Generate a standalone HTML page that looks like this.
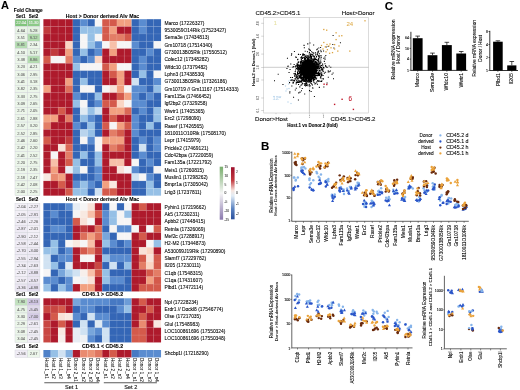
<!DOCTYPE html>
<html><head><meta charset="utf-8"><style>
html,body{margin:0;padding:0;background:#fff;}
svg{display:block;will-change:transform;}
text{font-family:"Liberation Sans", sans-serif;}
</style></head><body>
<svg width="520" height="390" viewBox="0 0 520 390">
<defs>
<linearGradient id="gp" x1="0" y1="0" x2="0" y2="1"><stop offset="0" stop-color="#78ad6c"/><stop offset="0.5" stop-color="#f6f6f6"/><stop offset="1" stop-color="#8a78ad"/></linearGradient>
<linearGradient id="rb" x1="0" y1="0" x2="0" y2="1"><stop offset="0" stop-color="#9e0f2c"/><stop offset="0.25" stop-color="#c23a40"/><stop offset="0.45" stop-color="#f6e6e0"/><stop offset="0.55" stop-color="#e3edf6"/><stop offset="0.8" stop-color="#5a82c0"/><stop offset="1" stop-color="#2a4f9c"/></linearGradient>
</defs>
<rect width="520" height="390" fill="#fff"/>
<text x="0.90" y="9.20" font-size="11" text-anchor="start" fill="#000" font-weight="bold" stroke="#000" stroke-width="0.08">A</text>
<text x="28.20" y="12.10" font-size="4.75" text-anchor="middle" fill="#000" font-weight="bold" stroke="#000" stroke-width="0.08">Fold Change</text>
<rect x="43.40" y="19.20" width="7.40" height="7.40" fill="#ae1a2c"/>
<rect x="50.75" y="19.20" width="7.40" height="7.40" fill="#ae1a2c"/>
<rect x="58.10" y="19.20" width="7.40" height="7.40" fill="#ae1a2c"/>
<rect x="65.45" y="19.20" width="7.40" height="7.40" fill="#ae1a2c"/>
<rect x="72.80" y="19.20" width="7.40" height="7.40" fill="#3466b6"/>
<rect x="80.15" y="19.20" width="7.40" height="7.40" fill="#5a8cd0"/>
<rect x="87.50" y="19.20" width="7.40" height="7.40" fill="#3466b6"/>
<rect x="94.85" y="19.20" width="7.40" height="7.40" fill="#f6f5f5"/>
<rect x="102.20" y="19.20" width="7.40" height="7.40" fill="#d45a4b"/>
<rect x="109.55" y="19.20" width="7.40" height="7.40" fill="#d45a4b"/>
<rect x="116.90" y="19.20" width="7.40" height="7.40" fill="#f2a080"/>
<rect x="124.25" y="19.20" width="7.40" height="7.40" fill="#f2a080"/>
<rect x="131.60" y="19.20" width="7.40" height="7.40" fill="#3466b6"/>
<rect x="138.95" y="19.20" width="7.40" height="7.40" fill="#5a8cd0"/>
<rect x="146.30" y="19.20" width="7.40" height="7.40" fill="#3466b6"/>
<rect x="153.65" y="19.20" width="7.40" height="7.40" fill="#3466b6"/>
<rect x="43.40" y="26.55" width="7.40" height="7.40" fill="#c13a3c"/>
<rect x="50.75" y="26.55" width="7.40" height="7.40" fill="#ae1a2c"/>
<rect x="58.10" y="26.55" width="7.40" height="7.40" fill="#ae1a2c"/>
<rect x="65.45" y="26.55" width="7.40" height="7.40" fill="#ae1a2c"/>
<rect x="72.80" y="26.55" width="7.40" height="7.40" fill="#3466b6"/>
<rect x="80.15" y="26.55" width="7.40" height="7.40" fill="#96c0e6"/>
<rect x="87.50" y="26.55" width="7.40" height="7.40" fill="#96c0e6"/>
<rect x="94.85" y="26.55" width="7.40" height="7.40" fill="#96c0e6"/>
<rect x="102.20" y="26.55" width="7.40" height="7.40" fill="#d45a4b"/>
<rect x="109.55" y="26.55" width="7.40" height="7.40" fill="#f2a080"/>
<rect x="116.90" y="26.55" width="7.40" height="7.40" fill="#ae1a2c"/>
<rect x="124.25" y="26.55" width="7.40" height="7.40" fill="#ae1a2c"/>
<rect x="131.60" y="26.55" width="7.40" height="7.40" fill="#3466b6"/>
<rect x="138.95" y="26.55" width="7.40" height="7.40" fill="#5a8cd0"/>
<rect x="146.30" y="26.55" width="7.40" height="7.40" fill="#3466b6"/>
<rect x="153.65" y="26.55" width="7.40" height="7.40" fill="#3466b6"/>
<rect x="43.40" y="33.90" width="7.40" height="7.40" fill="#ae1a2c"/>
<rect x="50.75" y="33.90" width="7.40" height="7.40" fill="#ae1a2c"/>
<rect x="58.10" y="33.90" width="7.40" height="7.40" fill="#ae1a2c"/>
<rect x="65.45" y="33.90" width="7.40" height="7.40" fill="#ae1a2c"/>
<rect x="72.80" y="33.90" width="7.40" height="7.40" fill="#3466b6"/>
<rect x="80.15" y="33.90" width="7.40" height="7.40" fill="#f6f5f5"/>
<rect x="87.50" y="33.90" width="7.40" height="7.40" fill="#96c0e6"/>
<rect x="94.85" y="33.90" width="7.40" height="7.40" fill="#f6f5f5"/>
<rect x="102.20" y="33.90" width="7.40" height="7.40" fill="#d45a4b"/>
<rect x="109.55" y="33.90" width="7.40" height="7.40" fill="#e37d66"/>
<rect x="116.90" y="33.90" width="7.40" height="7.40" fill="#e37d66"/>
<rect x="124.25" y="33.90" width="7.40" height="7.40" fill="#d45a4b"/>
<rect x="131.60" y="33.90" width="7.40" height="7.40" fill="#3466b6"/>
<rect x="138.95" y="33.90" width="7.40" height="7.40" fill="#3466b6"/>
<rect x="146.30" y="33.90" width="7.40" height="7.40" fill="#3466b6"/>
<rect x="153.65" y="33.90" width="7.40" height="7.40" fill="#3466b6"/>
<rect x="43.40" y="41.25" width="7.40" height="7.40" fill="#ae1a2c"/>
<rect x="50.75" y="41.25" width="7.40" height="7.40" fill="#ae1a2c"/>
<rect x="58.10" y="41.25" width="7.40" height="7.40" fill="#ae1a2c"/>
<rect x="65.45" y="41.25" width="7.40" height="7.40" fill="#fad6c4"/>
<rect x="72.80" y="41.25" width="7.40" height="7.40" fill="#3466b6"/>
<rect x="80.15" y="41.25" width="7.40" height="7.40" fill="#f6f5f5"/>
<rect x="87.50" y="41.25" width="7.40" height="7.40" fill="#96c0e6"/>
<rect x="94.85" y="41.25" width="7.40" height="7.40" fill="#5a8cd0"/>
<rect x="102.20" y="41.25" width="7.40" height="7.40" fill="#f6f5f5"/>
<rect x="109.55" y="41.25" width="7.40" height="7.40" fill="#f7c0a9"/>
<rect x="116.90" y="41.25" width="7.40" height="7.40" fill="#f6f5f5"/>
<rect x="124.25" y="41.25" width="7.40" height="7.40" fill="#f6f5f5"/>
<rect x="131.60" y="41.25" width="7.40" height="7.40" fill="#5a8cd0"/>
<rect x="138.95" y="41.25" width="7.40" height="7.40" fill="#3466b6"/>
<rect x="146.30" y="41.25" width="7.40" height="7.40" fill="#3466b6"/>
<rect x="153.65" y="41.25" width="7.40" height="7.40" fill="#f6f5f5"/>
<rect x="43.40" y="48.60" width="7.40" height="7.40" fill="#ae1a2c"/>
<rect x="50.75" y="48.60" width="7.40" height="7.40" fill="#c13a3c"/>
<rect x="58.10" y="48.60" width="7.40" height="7.40" fill="#ae1a2c"/>
<rect x="65.45" y="48.60" width="7.40" height="7.40" fill="#f2a080"/>
<rect x="72.80" y="48.60" width="7.40" height="7.40" fill="#3466b6"/>
<rect x="80.15" y="48.60" width="7.40" height="7.40" fill="#96c0e6"/>
<rect x="87.50" y="48.60" width="7.40" height="7.40" fill="#3466b6"/>
<rect x="94.85" y="48.60" width="7.40" height="7.40" fill="#5a8cd0"/>
<rect x="102.20" y="48.60" width="7.40" height="7.40" fill="#ae1a2c"/>
<rect x="109.55" y="48.60" width="7.40" height="7.40" fill="#f2a080"/>
<rect x="116.90" y="48.60" width="7.40" height="7.40" fill="#ae1a2c"/>
<rect x="124.25" y="48.60" width="7.40" height="7.40" fill="#ae1a2c"/>
<rect x="131.60" y="48.60" width="7.40" height="7.40" fill="#3466b6"/>
<rect x="138.95" y="48.60" width="7.40" height="7.40" fill="#3466b6"/>
<rect x="146.30" y="48.60" width="7.40" height="7.40" fill="#5a8cd0"/>
<rect x="153.65" y="48.60" width="7.40" height="7.40" fill="#3466b6"/>
<rect x="43.40" y="55.95" width="7.40" height="7.40" fill="#d45a4b"/>
<rect x="50.75" y="55.95" width="7.40" height="7.40" fill="#f6f5f5"/>
<rect x="58.10" y="55.95" width="7.40" height="7.40" fill="#f6f5f5"/>
<rect x="65.45" y="55.95" width="7.40" height="7.40" fill="#e37d66"/>
<rect x="72.80" y="55.95" width="7.40" height="7.40" fill="#5a8cd0"/>
<rect x="80.15" y="55.95" width="7.40" height="7.40" fill="#3466b6"/>
<rect x="87.50" y="55.95" width="7.40" height="7.40" fill="#5a8cd0"/>
<rect x="94.85" y="55.95" width="7.40" height="7.40" fill="#fad6c4"/>
<rect x="102.20" y="55.95" width="7.40" height="7.40" fill="#ae1a2c"/>
<rect x="109.55" y="55.95" width="7.40" height="7.40" fill="#ae1a2c"/>
<rect x="116.90" y="55.95" width="7.40" height="7.40" fill="#ae1a2c"/>
<rect x="124.25" y="55.95" width="7.40" height="7.40" fill="#ae1a2c"/>
<rect x="131.60" y="55.95" width="7.40" height="7.40" fill="#3466b6"/>
<rect x="138.95" y="55.95" width="7.40" height="7.40" fill="#5a8cd0"/>
<rect x="146.30" y="55.95" width="7.40" height="7.40" fill="#3466b6"/>
<rect x="153.65" y="55.95" width="7.40" height="7.40" fill="#3466b6"/>
<rect x="43.40" y="63.30" width="7.40" height="7.40" fill="#ae1a2c"/>
<rect x="50.75" y="63.30" width="7.40" height="7.40" fill="#ae1a2c"/>
<rect x="58.10" y="63.30" width="7.40" height="7.40" fill="#ae1a2c"/>
<rect x="65.45" y="63.30" width="7.40" height="7.40" fill="#ae1a2c"/>
<rect x="72.80" y="63.30" width="7.40" height="7.40" fill="#96c0e6"/>
<rect x="80.15" y="63.30" width="7.40" height="7.40" fill="#f6f5f5"/>
<rect x="87.50" y="63.30" width="7.40" height="7.40" fill="#f6f5f5"/>
<rect x="94.85" y="63.30" width="7.40" height="7.40" fill="#f6f5f5"/>
<rect x="102.20" y="63.30" width="7.40" height="7.40" fill="#d45a4b"/>
<rect x="109.55" y="63.30" width="7.40" height="7.40" fill="#f2a080"/>
<rect x="116.90" y="63.30" width="7.40" height="7.40" fill="#f6f5f5"/>
<rect x="124.25" y="63.30" width="7.40" height="7.40" fill="#f6f5f5"/>
<rect x="131.60" y="63.30" width="7.40" height="7.40" fill="#3466b6"/>
<rect x="138.95" y="63.30" width="7.40" height="7.40" fill="#5a8cd0"/>
<rect x="146.30" y="63.30" width="7.40" height="7.40" fill="#3466b6"/>
<rect x="153.65" y="63.30" width="7.40" height="7.40" fill="#3466b6"/>
<rect x="43.40" y="70.65" width="7.40" height="7.40" fill="#ae1a2c"/>
<rect x="50.75" y="70.65" width="7.40" height="7.40" fill="#ae1a2c"/>
<rect x="58.10" y="70.65" width="7.40" height="7.40" fill="#ae1a2c"/>
<rect x="65.45" y="70.65" width="7.40" height="7.40" fill="#ae1a2c"/>
<rect x="72.80" y="70.65" width="7.40" height="7.40" fill="#3466b6"/>
<rect x="80.15" y="70.65" width="7.40" height="7.40" fill="#3466b6"/>
<rect x="87.50" y="70.65" width="7.40" height="7.40" fill="#3466b6"/>
<rect x="94.85" y="70.65" width="7.40" height="7.40" fill="#3466b6"/>
<rect x="102.20" y="70.65" width="7.40" height="7.40" fill="#ae1a2c"/>
<rect x="109.55" y="70.65" width="7.40" height="7.40" fill="#d45a4b"/>
<rect x="116.90" y="70.65" width="7.40" height="7.40" fill="#f2a080"/>
<rect x="124.25" y="70.65" width="7.40" height="7.40" fill="#ae1a2c"/>
<rect x="131.60" y="70.65" width="7.40" height="7.40" fill="#3466b6"/>
<rect x="138.95" y="70.65" width="7.40" height="7.40" fill="#96c0e6"/>
<rect x="146.30" y="70.65" width="7.40" height="7.40" fill="#3466b6"/>
<rect x="153.65" y="70.65" width="7.40" height="7.40" fill="#f6f5f5"/>
<rect x="43.40" y="78.00" width="7.40" height="7.40" fill="#ae1a2c"/>
<rect x="50.75" y="78.00" width="7.40" height="7.40" fill="#ae1a2c"/>
<rect x="58.10" y="78.00" width="7.40" height="7.40" fill="#ae1a2c"/>
<rect x="65.45" y="78.00" width="7.40" height="7.40" fill="#f2a080"/>
<rect x="72.80" y="78.00" width="7.40" height="7.40" fill="#3466b6"/>
<rect x="80.15" y="78.00" width="7.40" height="7.40" fill="#96c0e6"/>
<rect x="87.50" y="78.00" width="7.40" height="7.40" fill="#3466b6"/>
<rect x="94.85" y="78.00" width="7.40" height="7.40" fill="#3466b6"/>
<rect x="102.20" y="78.00" width="7.40" height="7.40" fill="#ae1a2c"/>
<rect x="109.55" y="78.00" width="7.40" height="7.40" fill="#ae1a2c"/>
<rect x="116.90" y="78.00" width="7.40" height="7.40" fill="#f2a080"/>
<rect x="124.25" y="78.00" width="7.40" height="7.40" fill="#ae1a2c"/>
<rect x="131.60" y="78.00" width="7.40" height="7.40" fill="#d0e2f2"/>
<rect x="138.95" y="78.00" width="7.40" height="7.40" fill="#3466b6"/>
<rect x="146.30" y="78.00" width="7.40" height="7.40" fill="#3466b6"/>
<rect x="153.65" y="78.00" width="7.40" height="7.40" fill="#5a8cd0"/>
<rect x="43.40" y="85.35" width="7.40" height="7.40" fill="#f2a080"/>
<rect x="50.75" y="85.35" width="7.40" height="7.40" fill="#ae1a2c"/>
<rect x="58.10" y="85.35" width="7.40" height="7.40" fill="#ae1a2c"/>
<rect x="65.45" y="85.35" width="7.40" height="7.40" fill="#dd6f5b"/>
<rect x="72.80" y="85.35" width="7.40" height="7.40" fill="#3466b6"/>
<rect x="80.15" y="85.35" width="7.40" height="7.40" fill="#f6f5f5"/>
<rect x="87.50" y="85.35" width="7.40" height="7.40" fill="#f6f5f5"/>
<rect x="94.85" y="85.35" width="7.40" height="7.40" fill="#3466b6"/>
<rect x="102.20" y="85.35" width="7.40" height="7.40" fill="#f6f5f5"/>
<rect x="109.55" y="85.35" width="7.40" height="7.40" fill="#f8e2d8"/>
<rect x="116.90" y="85.35" width="7.40" height="7.40" fill="#f2a080"/>
<rect x="124.25" y="85.35" width="7.40" height="7.40" fill="#f6f5f5"/>
<rect x="131.60" y="85.35" width="7.40" height="7.40" fill="#5a8cd0"/>
<rect x="138.95" y="85.35" width="7.40" height="7.40" fill="#5a8cd0"/>
<rect x="146.30" y="85.35" width="7.40" height="7.40" fill="#3466b6"/>
<rect x="153.65" y="85.35" width="7.40" height="7.40" fill="#96c0e6"/>
<rect x="43.40" y="92.70" width="7.40" height="7.40" fill="#ae1a2c"/>
<rect x="50.75" y="92.70" width="7.40" height="7.40" fill="#ae1a2c"/>
<rect x="58.10" y="92.70" width="7.40" height="7.40" fill="#ae1a2c"/>
<rect x="65.45" y="92.70" width="7.40" height="7.40" fill="#ae1a2c"/>
<rect x="72.80" y="92.70" width="7.40" height="7.40" fill="#5a8cd0"/>
<rect x="80.15" y="92.70" width="7.40" height="7.40" fill="#3466b6"/>
<rect x="87.50" y="92.70" width="7.40" height="7.40" fill="#3466b6"/>
<rect x="94.85" y="92.70" width="7.40" height="7.40" fill="#96c0e6"/>
<rect x="102.20" y="92.70" width="7.40" height="7.40" fill="#ae1a2c"/>
<rect x="109.55" y="92.70" width="7.40" height="7.40" fill="#ae1a2c"/>
<rect x="116.90" y="92.70" width="7.40" height="7.40" fill="#d45a4b"/>
<rect x="124.25" y="92.70" width="7.40" height="7.40" fill="#f2a080"/>
<rect x="131.60" y="92.70" width="7.40" height="7.40" fill="#5a8cd0"/>
<rect x="138.95" y="92.70" width="7.40" height="7.40" fill="#3466b6"/>
<rect x="146.30" y="92.70" width="7.40" height="7.40" fill="#5a8cd0"/>
<rect x="153.65" y="92.70" width="7.40" height="7.40" fill="#3466b6"/>
<rect x="43.40" y="100.05" width="7.40" height="7.40" fill="#ae1a2c"/>
<rect x="50.75" y="100.05" width="7.40" height="7.40" fill="#ae1a2c"/>
<rect x="58.10" y="100.05" width="7.40" height="7.40" fill="#ae1a2c"/>
<rect x="65.45" y="100.05" width="7.40" height="7.40" fill="#ae1a2c"/>
<rect x="72.80" y="100.05" width="7.40" height="7.40" fill="#96c0e6"/>
<rect x="80.15" y="100.05" width="7.40" height="7.40" fill="#f6f5f5"/>
<rect x="87.50" y="100.05" width="7.40" height="7.40" fill="#3466b6"/>
<rect x="94.85" y="100.05" width="7.40" height="7.40" fill="#5a8cd0"/>
<rect x="102.20" y="100.05" width="7.40" height="7.40" fill="#d45a4b"/>
<rect x="109.55" y="100.05" width="7.40" height="7.40" fill="#d45a4b"/>
<rect x="116.90" y="100.05" width="7.40" height="7.40" fill="#fad6c4"/>
<rect x="124.25" y="100.05" width="7.40" height="7.40" fill="#f6f5f5"/>
<rect x="131.60" y="100.05" width="7.40" height="7.40" fill="#5a8cd0"/>
<rect x="138.95" y="100.05" width="7.40" height="7.40" fill="#5a8cd0"/>
<rect x="146.30" y="100.05" width="7.40" height="7.40" fill="#3466b6"/>
<rect x="153.65" y="100.05" width="7.40" height="7.40" fill="#3466b6"/>
<rect x="43.40" y="107.40" width="7.40" height="7.40" fill="#ae1a2c"/>
<rect x="50.75" y="107.40" width="7.40" height="7.40" fill="#ae1a2c"/>
<rect x="58.10" y="107.40" width="7.40" height="7.40" fill="#d45a4b"/>
<rect x="65.45" y="107.40" width="7.40" height="7.40" fill="#ae1a2c"/>
<rect x="72.80" y="107.40" width="7.40" height="7.40" fill="#3466b6"/>
<rect x="80.15" y="107.40" width="7.40" height="7.40" fill="#dfeaf3"/>
<rect x="87.50" y="107.40" width="7.40" height="7.40" fill="#96c0e6"/>
<rect x="94.85" y="107.40" width="7.40" height="7.40" fill="#d0e2f2"/>
<rect x="102.20" y="107.40" width="7.40" height="7.40" fill="#ae1a2c"/>
<rect x="109.55" y="107.40" width="7.40" height="7.40" fill="#f2a080"/>
<rect x="116.90" y="107.40" width="7.40" height="7.40" fill="#f2a080"/>
<rect x="124.25" y="107.40" width="7.40" height="7.40" fill="#da6856"/>
<rect x="131.60" y="107.40" width="7.40" height="7.40" fill="#3466b6"/>
<rect x="138.95" y="107.40" width="7.40" height="7.40" fill="#5a8cd0"/>
<rect x="146.30" y="107.40" width="7.40" height="7.40" fill="#3466b6"/>
<rect x="153.65" y="107.40" width="7.40" height="7.40" fill="#96c0e6"/>
<rect x="43.40" y="114.75" width="7.40" height="7.40" fill="#f2a080"/>
<rect x="50.75" y="114.75" width="7.40" height="7.40" fill="#f2a080"/>
<rect x="58.10" y="114.75" width="7.40" height="7.40" fill="#ae1a2c"/>
<rect x="65.45" y="114.75" width="7.40" height="7.40" fill="#e37d66"/>
<rect x="72.80" y="114.75" width="7.40" height="7.40" fill="#3466b6"/>
<rect x="80.15" y="114.75" width="7.40" height="7.40" fill="#96c0e6"/>
<rect x="87.50" y="114.75" width="7.40" height="7.40" fill="#5a8cd0"/>
<rect x="94.85" y="114.75" width="7.40" height="7.40" fill="#3466b6"/>
<rect x="102.20" y="114.75" width="7.40" height="7.40" fill="#ae1a2c"/>
<rect x="109.55" y="114.75" width="7.40" height="7.40" fill="#d45a4b"/>
<rect x="116.90" y="114.75" width="7.40" height="7.40" fill="#ae1a2c"/>
<rect x="124.25" y="114.75" width="7.40" height="7.40" fill="#ae1a2c"/>
<rect x="131.60" y="114.75" width="7.40" height="7.40" fill="#5a8cd0"/>
<rect x="138.95" y="114.75" width="7.40" height="7.40" fill="#3466b6"/>
<rect x="146.30" y="114.75" width="7.40" height="7.40" fill="#3466b6"/>
<rect x="153.65" y="114.75" width="7.40" height="7.40" fill="#96c0e6"/>
<rect x="43.40" y="122.10" width="7.40" height="7.40" fill="#e37d66"/>
<rect x="50.75" y="122.10" width="7.40" height="7.40" fill="#ae1a2c"/>
<rect x="58.10" y="122.10" width="7.40" height="7.40" fill="#ae1a2c"/>
<rect x="65.45" y="122.10" width="7.40" height="7.40" fill="#ae1a2c"/>
<rect x="72.80" y="122.10" width="7.40" height="7.40" fill="#5a8cd0"/>
<rect x="80.15" y="122.10" width="7.40" height="7.40" fill="#3466b6"/>
<rect x="87.50" y="122.10" width="7.40" height="7.40" fill="#96c0e6"/>
<rect x="94.85" y="122.10" width="7.40" height="7.40" fill="#3466b6"/>
<rect x="102.20" y="122.10" width="7.40" height="7.40" fill="#d45a4b"/>
<rect x="109.55" y="122.10" width="7.40" height="7.40" fill="#f6f5f5"/>
<rect x="116.90" y="122.10" width="7.40" height="7.40" fill="#f2a080"/>
<rect x="124.25" y="122.10" width="7.40" height="7.40" fill="#d45a4b"/>
<rect x="131.60" y="122.10" width="7.40" height="7.40" fill="#5a8cd0"/>
<rect x="138.95" y="122.10" width="7.40" height="7.40" fill="#3466b6"/>
<rect x="146.30" y="122.10" width="7.40" height="7.40" fill="#96c0e6"/>
<rect x="153.65" y="122.10" width="7.40" height="7.40" fill="#3466b6"/>
<rect x="43.40" y="129.45" width="7.40" height="7.40" fill="#ae1a2c"/>
<rect x="50.75" y="129.45" width="7.40" height="7.40" fill="#ae1a2c"/>
<rect x="58.10" y="129.45" width="7.40" height="7.40" fill="#ae1a2c"/>
<rect x="65.45" y="129.45" width="7.40" height="7.40" fill="#ae1a2c"/>
<rect x="72.80" y="129.45" width="7.40" height="7.40" fill="#3466b6"/>
<rect x="80.15" y="129.45" width="7.40" height="7.40" fill="#b9d4ed"/>
<rect x="87.50" y="129.45" width="7.40" height="7.40" fill="#96c0e6"/>
<rect x="94.85" y="129.45" width="7.40" height="7.40" fill="#3466b6"/>
<rect x="102.20" y="129.45" width="7.40" height="7.40" fill="#ae1a2c"/>
<rect x="109.55" y="129.45" width="7.40" height="7.40" fill="#e37d66"/>
<rect x="116.90" y="129.45" width="7.40" height="7.40" fill="#d45a4b"/>
<rect x="124.25" y="129.45" width="7.40" height="7.40" fill="#ae1a2c"/>
<rect x="131.60" y="129.45" width="7.40" height="7.40" fill="#5a8cd0"/>
<rect x="138.95" y="129.45" width="7.40" height="7.40" fill="#3466b6"/>
<rect x="146.30" y="129.45" width="7.40" height="7.40" fill="#3466b6"/>
<rect x="153.65" y="129.45" width="7.40" height="7.40" fill="#3466b6"/>
<rect x="43.40" y="136.80" width="7.40" height="7.40" fill="#d45a4b"/>
<rect x="50.75" y="136.80" width="7.40" height="7.40" fill="#ae1a2c"/>
<rect x="58.10" y="136.80" width="7.40" height="7.40" fill="#ae1a2c"/>
<rect x="65.45" y="136.80" width="7.40" height="7.40" fill="#c13a3c"/>
<rect x="72.80" y="136.80" width="7.40" height="7.40" fill="#3466b6"/>
<rect x="80.15" y="136.80" width="7.40" height="7.40" fill="#f6f5f5"/>
<rect x="87.50" y="136.80" width="7.40" height="7.40" fill="#5a8cd0"/>
<rect x="94.85" y="136.80" width="7.40" height="7.40" fill="#f6f5f5"/>
<rect x="102.20" y="136.80" width="7.40" height="7.40" fill="#f2a080"/>
<rect x="109.55" y="136.80" width="7.40" height="7.40" fill="#f2a080"/>
<rect x="116.90" y="136.80" width="7.40" height="7.40" fill="#f2a080"/>
<rect x="124.25" y="136.80" width="7.40" height="7.40" fill="#ae1a2c"/>
<rect x="131.60" y="136.80" width="7.40" height="7.40" fill="#3466b6"/>
<rect x="138.95" y="136.80" width="7.40" height="7.40" fill="#5a8cd0"/>
<rect x="146.30" y="136.80" width="7.40" height="7.40" fill="#3466b6"/>
<rect x="153.65" y="136.80" width="7.40" height="7.40" fill="#5a8cd0"/>
<rect x="43.40" y="144.15" width="7.40" height="7.40" fill="#ae1a2c"/>
<rect x="50.75" y="144.15" width="7.40" height="7.40" fill="#ae1a2c"/>
<rect x="58.10" y="144.15" width="7.40" height="7.40" fill="#f8e2d8"/>
<rect x="65.45" y="144.15" width="7.40" height="7.40" fill="#da6856"/>
<rect x="72.80" y="144.15" width="7.40" height="7.40" fill="#3466b6"/>
<rect x="80.15" y="144.15" width="7.40" height="7.40" fill="#3466b6"/>
<rect x="87.50" y="144.15" width="7.40" height="7.40" fill="#3466b6"/>
<rect x="94.85" y="144.15" width="7.40" height="7.40" fill="#f6f5f5"/>
<rect x="102.20" y="144.15" width="7.40" height="7.40" fill="#ae1a2c"/>
<rect x="109.55" y="144.15" width="7.40" height="7.40" fill="#e37d66"/>
<rect x="116.90" y="144.15" width="7.40" height="7.40" fill="#d45a4b"/>
<rect x="124.25" y="144.15" width="7.40" height="7.40" fill="#ae1a2c"/>
<rect x="131.60" y="144.15" width="7.40" height="7.40" fill="#3466b6"/>
<rect x="138.95" y="144.15" width="7.40" height="7.40" fill="#d0e2f2"/>
<rect x="146.30" y="144.15" width="7.40" height="7.40" fill="#3466b6"/>
<rect x="153.65" y="144.15" width="7.40" height="7.40" fill="#5a8cd0"/>
<rect x="43.40" y="151.50" width="7.40" height="7.40" fill="#ae1a2c"/>
<rect x="50.75" y="151.50" width="7.40" height="7.40" fill="#f6f5f5"/>
<rect x="58.10" y="151.50" width="7.40" height="7.40" fill="#ae1a2c"/>
<rect x="65.45" y="151.50" width="7.40" height="7.40" fill="#e37d66"/>
<rect x="72.80" y="151.50" width="7.40" height="7.40" fill="#3466b6"/>
<rect x="80.15" y="151.50" width="7.40" height="7.40" fill="#96c0e6"/>
<rect x="87.50" y="151.50" width="7.40" height="7.40" fill="#3466b6"/>
<rect x="94.85" y="151.50" width="7.40" height="7.40" fill="#96c0e6"/>
<rect x="102.20" y="151.50" width="7.40" height="7.40" fill="#ae1a2c"/>
<rect x="109.55" y="151.50" width="7.40" height="7.40" fill="#ae1a2c"/>
<rect x="116.90" y="151.50" width="7.40" height="7.40" fill="#ae1a2c"/>
<rect x="124.25" y="151.50" width="7.40" height="7.40" fill="#ae1a2c"/>
<rect x="131.60" y="151.50" width="7.40" height="7.40" fill="#3466b6"/>
<rect x="138.95" y="151.50" width="7.40" height="7.40" fill="#5a8cd0"/>
<rect x="146.30" y="151.50" width="7.40" height="7.40" fill="#3466b6"/>
<rect x="153.65" y="151.50" width="7.40" height="7.40" fill="#3466b6"/>
<rect x="43.40" y="158.85" width="7.40" height="7.40" fill="#ae1a2c"/>
<rect x="50.75" y="158.85" width="7.40" height="7.40" fill="#f7c0a9"/>
<rect x="58.10" y="158.85" width="7.40" height="7.40" fill="#ae1a2c"/>
<rect x="65.45" y="158.85" width="7.40" height="7.40" fill="#d45a4b"/>
<rect x="72.80" y="158.85" width="7.40" height="7.40" fill="#96c0e6"/>
<rect x="80.15" y="158.85" width="7.40" height="7.40" fill="#3466b6"/>
<rect x="87.50" y="158.85" width="7.40" height="7.40" fill="#3466b6"/>
<rect x="94.85" y="158.85" width="7.40" height="7.40" fill="#96c0e6"/>
<rect x="102.20" y="158.85" width="7.40" height="7.40" fill="#ae1a2c"/>
<rect x="109.55" y="158.85" width="7.40" height="7.40" fill="#f7c0a9"/>
<rect x="116.90" y="158.85" width="7.40" height="7.40" fill="#f7c0a9"/>
<rect x="124.25" y="158.85" width="7.40" height="7.40" fill="#ae1a2c"/>
<rect x="131.60" y="158.85" width="7.40" height="7.40" fill="#f6f5f5"/>
<rect x="138.95" y="158.85" width="7.40" height="7.40" fill="#3466b6"/>
<rect x="146.30" y="158.85" width="7.40" height="7.40" fill="#5a8cd0"/>
<rect x="153.65" y="158.85" width="7.40" height="7.40" fill="#3466b6"/>
<rect x="43.40" y="166.20" width="7.40" height="7.40" fill="#ae1a2c"/>
<rect x="50.75" y="166.20" width="7.40" height="7.40" fill="#f2a080"/>
<rect x="58.10" y="166.20" width="7.40" height="7.40" fill="#ae1a2c"/>
<rect x="65.45" y="166.20" width="7.40" height="7.40" fill="#e7edf4"/>
<rect x="72.80" y="166.20" width="7.40" height="7.40" fill="#96c0e6"/>
<rect x="80.15" y="166.20" width="7.40" height="7.40" fill="#f6f5f5"/>
<rect x="87.50" y="166.20" width="7.40" height="7.40" fill="#3466b6"/>
<rect x="94.85" y="166.20" width="7.40" height="7.40" fill="#5a8cd0"/>
<rect x="102.20" y="166.20" width="7.40" height="7.40" fill="#ae1a2c"/>
<rect x="109.55" y="166.20" width="7.40" height="7.40" fill="#ae1a2c"/>
<rect x="116.90" y="166.20" width="7.40" height="7.40" fill="#f8e2d8"/>
<rect x="124.25" y="166.20" width="7.40" height="7.40" fill="#f6f5f5"/>
<rect x="131.60" y="166.20" width="7.40" height="7.40" fill="#5a8cd0"/>
<rect x="138.95" y="166.20" width="7.40" height="7.40" fill="#3466b6"/>
<rect x="146.30" y="166.20" width="7.40" height="7.40" fill="#3466b6"/>
<rect x="153.65" y="166.20" width="7.40" height="7.40" fill="#f6f5f5"/>
<rect x="43.40" y="173.55" width="7.40" height="7.40" fill="#f8e9e1"/>
<rect x="50.75" y="173.55" width="7.40" height="7.40" fill="#e98b70"/>
<rect x="58.10" y="173.55" width="7.40" height="7.40" fill="#f2a080"/>
<rect x="65.45" y="173.55" width="7.40" height="7.40" fill="#ae1a2c"/>
<rect x="72.80" y="173.55" width="7.40" height="7.40" fill="#3466b6"/>
<rect x="80.15" y="173.55" width="7.40" height="7.40" fill="#3466b6"/>
<rect x="87.50" y="173.55" width="7.40" height="7.40" fill="#3466b6"/>
<rect x="94.85" y="173.55" width="7.40" height="7.40" fill="#5a8cd0"/>
<rect x="102.20" y="173.55" width="7.40" height="7.40" fill="#ae1a2c"/>
<rect x="109.55" y="173.55" width="7.40" height="7.40" fill="#ae1a2c"/>
<rect x="116.90" y="173.55" width="7.40" height="7.40" fill="#ae1a2c"/>
<rect x="124.25" y="173.55" width="7.40" height="7.40" fill="#ae1a2c"/>
<rect x="131.60" y="173.55" width="7.40" height="7.40" fill="#d0e2f2"/>
<rect x="138.95" y="173.55" width="7.40" height="7.40" fill="#f6f5f5"/>
<rect x="146.30" y="173.55" width="7.40" height="7.40" fill="#5a8cd0"/>
<rect x="153.65" y="173.55" width="7.40" height="7.40" fill="#3466b6"/>
<rect x="43.40" y="180.90" width="7.40" height="7.40" fill="#ae1a2c"/>
<rect x="50.75" y="180.90" width="7.40" height="7.40" fill="#ae1a2c"/>
<rect x="58.10" y="180.90" width="7.40" height="7.40" fill="#d45a4b"/>
<rect x="65.45" y="180.90" width="7.40" height="7.40" fill="#ae1a2c"/>
<rect x="72.80" y="180.90" width="7.40" height="7.40" fill="#5a8cd0"/>
<rect x="80.15" y="180.90" width="7.40" height="7.40" fill="#96c0e6"/>
<rect x="87.50" y="180.90" width="7.40" height="7.40" fill="#5a8cd0"/>
<rect x="94.85" y="180.90" width="7.40" height="7.40" fill="#3466b6"/>
<rect x="102.20" y="180.90" width="7.40" height="7.40" fill="#f2a080"/>
<rect x="109.55" y="180.90" width="7.40" height="7.40" fill="#f8e9e1"/>
<rect x="116.90" y="180.90" width="7.40" height="7.40" fill="#ae1a2c"/>
<rect x="124.25" y="180.90" width="7.40" height="7.40" fill="#ae1a2c"/>
<rect x="131.60" y="180.90" width="7.40" height="7.40" fill="#3466b6"/>
<rect x="138.95" y="180.90" width="7.40" height="7.40" fill="#3466b6"/>
<rect x="146.30" y="180.90" width="7.40" height="7.40" fill="#96c0e6"/>
<rect x="153.65" y="180.90" width="7.40" height="7.40" fill="#3466b6"/>
<rect x="43.40" y="188.25" width="7.40" height="7.40" fill="#ae1a2c"/>
<rect x="50.75" y="188.25" width="7.40" height="7.40" fill="#ae1a2c"/>
<rect x="58.10" y="188.25" width="7.40" height="7.40" fill="#ae1a2c"/>
<rect x="65.45" y="188.25" width="7.40" height="7.40" fill="#d45a4b"/>
<rect x="72.80" y="188.25" width="7.40" height="7.40" fill="#96c0e6"/>
<rect x="80.15" y="188.25" width="7.40" height="7.40" fill="#96c0e6"/>
<rect x="87.50" y="188.25" width="7.40" height="7.40" fill="#3466b6"/>
<rect x="94.85" y="188.25" width="7.40" height="7.40" fill="#d0e2f2"/>
<rect x="102.20" y="188.25" width="7.40" height="7.40" fill="#d45a4b"/>
<rect x="109.55" y="188.25" width="7.40" height="7.40" fill="#d45a4b"/>
<rect x="116.90" y="188.25" width="7.40" height="7.40" fill="#ae1a2c"/>
<rect x="124.25" y="188.25" width="7.40" height="7.40" fill="#ae1a2c"/>
<rect x="131.60" y="188.25" width="7.40" height="7.40" fill="#3466b6"/>
<rect x="138.95" y="188.25" width="7.40" height="7.40" fill="#3466b6"/>
<rect x="146.30" y="188.25" width="7.40" height="7.40" fill="#96c0e6"/>
<rect x="153.65" y="188.25" width="7.40" height="7.40" fill="#96c0e6"/>
<line x1="50.75" y1="19.20" x2="50.75" y2="195.60" stroke="#ffffff" stroke-opacity="0.18" stroke-width="0.5"/>
<line x1="58.10" y1="19.20" x2="58.10" y2="195.60" stroke="#ffffff" stroke-opacity="0.18" stroke-width="0.5"/>
<line x1="65.45" y1="19.20" x2="65.45" y2="195.60" stroke="#ffffff" stroke-opacity="0.18" stroke-width="0.5"/>
<line x1="72.80" y1="19.20" x2="72.80" y2="195.60" stroke="#ffffff" stroke-opacity="0.18" stroke-width="0.5"/>
<line x1="80.15" y1="19.20" x2="80.15" y2="195.60" stroke="#ffffff" stroke-opacity="0.18" stroke-width="0.5"/>
<line x1="87.50" y1="19.20" x2="87.50" y2="195.60" stroke="#ffffff" stroke-opacity="0.18" stroke-width="0.5"/>
<line x1="94.85" y1="19.20" x2="94.85" y2="195.60" stroke="#ffffff" stroke-opacity="0.18" stroke-width="0.5"/>
<line x1="102.20" y1="19.20" x2="102.20" y2="195.60" stroke="#ffffff" stroke-opacity="0.18" stroke-width="0.5"/>
<line x1="109.55" y1="19.20" x2="109.55" y2="195.60" stroke="#ffffff" stroke-opacity="0.18" stroke-width="0.5"/>
<line x1="116.90" y1="19.20" x2="116.90" y2="195.60" stroke="#ffffff" stroke-opacity="0.18" stroke-width="0.5"/>
<line x1="124.25" y1="19.20" x2="124.25" y2="195.60" stroke="#ffffff" stroke-opacity="0.18" stroke-width="0.5"/>
<line x1="131.60" y1="19.20" x2="131.60" y2="195.60" stroke="#ffffff" stroke-opacity="0.18" stroke-width="0.5"/>
<line x1="138.95" y1="19.20" x2="138.95" y2="195.60" stroke="#ffffff" stroke-opacity="0.18" stroke-width="0.5"/>
<line x1="146.30" y1="19.20" x2="146.30" y2="195.60" stroke="#ffffff" stroke-opacity="0.18" stroke-width="0.5"/>
<line x1="153.65" y1="19.20" x2="153.65" y2="195.60" stroke="#ffffff" stroke-opacity="0.18" stroke-width="0.5"/>
<line x1="43.40" y1="26.55" x2="161.00" y2="26.55" stroke="#ffffff" stroke-opacity="0.18" stroke-width="0.5"/>
<line x1="43.40" y1="33.90" x2="161.00" y2="33.90" stroke="#ffffff" stroke-opacity="0.18" stroke-width="0.5"/>
<line x1="43.40" y1="41.25" x2="161.00" y2="41.25" stroke="#ffffff" stroke-opacity="0.18" stroke-width="0.5"/>
<line x1="43.40" y1="48.60" x2="161.00" y2="48.60" stroke="#ffffff" stroke-opacity="0.18" stroke-width="0.5"/>
<line x1="43.40" y1="55.95" x2="161.00" y2="55.95" stroke="#ffffff" stroke-opacity="0.18" stroke-width="0.5"/>
<line x1="43.40" y1="63.30" x2="161.00" y2="63.30" stroke="#ffffff" stroke-opacity="0.18" stroke-width="0.5"/>
<line x1="43.40" y1="70.65" x2="161.00" y2="70.65" stroke="#ffffff" stroke-opacity="0.18" stroke-width="0.5"/>
<line x1="43.40" y1="78.00" x2="161.00" y2="78.00" stroke="#ffffff" stroke-opacity="0.18" stroke-width="0.5"/>
<line x1="43.40" y1="85.35" x2="161.00" y2="85.35" stroke="#ffffff" stroke-opacity="0.18" stroke-width="0.5"/>
<line x1="43.40" y1="92.70" x2="161.00" y2="92.70" stroke="#ffffff" stroke-opacity="0.18" stroke-width="0.5"/>
<line x1="43.40" y1="100.05" x2="161.00" y2="100.05" stroke="#ffffff" stroke-opacity="0.18" stroke-width="0.5"/>
<line x1="43.40" y1="107.40" x2="161.00" y2="107.40" stroke="#ffffff" stroke-opacity="0.18" stroke-width="0.5"/>
<line x1="43.40" y1="114.75" x2="161.00" y2="114.75" stroke="#ffffff" stroke-opacity="0.18" stroke-width="0.5"/>
<line x1="43.40" y1="122.10" x2="161.00" y2="122.10" stroke="#ffffff" stroke-opacity="0.18" stroke-width="0.5"/>
<line x1="43.40" y1="129.45" x2="161.00" y2="129.45" stroke="#ffffff" stroke-opacity="0.18" stroke-width="0.5"/>
<line x1="43.40" y1="136.80" x2="161.00" y2="136.80" stroke="#ffffff" stroke-opacity="0.18" stroke-width="0.5"/>
<line x1="43.40" y1="144.15" x2="161.00" y2="144.15" stroke="#ffffff" stroke-opacity="0.18" stroke-width="0.5"/>
<line x1="43.40" y1="151.50" x2="161.00" y2="151.50" stroke="#ffffff" stroke-opacity="0.18" stroke-width="0.5"/>
<line x1="43.40" y1="158.85" x2="161.00" y2="158.85" stroke="#ffffff" stroke-opacity="0.18" stroke-width="0.5"/>
<line x1="43.40" y1="166.20" x2="161.00" y2="166.20" stroke="#ffffff" stroke-opacity="0.18" stroke-width="0.5"/>
<line x1="43.40" y1="173.55" x2="161.00" y2="173.55" stroke="#ffffff" stroke-opacity="0.18" stroke-width="0.5"/>
<line x1="43.40" y1="180.90" x2="161.00" y2="180.90" stroke="#ffffff" stroke-opacity="0.18" stroke-width="0.5"/>
<line x1="43.40" y1="188.25" x2="161.00" y2="188.25" stroke="#ffffff" stroke-opacity="0.18" stroke-width="0.5"/>
<text x="164.50" y="24.62" font-size="4.9" text-anchor="start" fill="#000" stroke="#000" stroke-width="0.08">Marco (17226327)</text>
<text x="164.50" y="31.97" font-size="4.9" text-anchor="start" fill="#000" stroke="#000" stroke-width="0.08">9530059O14Rik (17523427)</text>
<text x="164.50" y="39.32" font-size="4.9" text-anchor="start" fill="#000" stroke="#000" stroke-width="0.08">Sema3e (17434813)</text>
<text x="164.50" y="46.67" font-size="4.9" text-anchor="start" fill="#000" stroke="#000" stroke-width="0.08">Gm10718 (17514340)</text>
<text x="164.50" y="54.02" font-size="4.9" text-anchor="start" fill="#000" stroke="#000" stroke-width="0.08">G730013B05Rik (17550512)</text>
<text x="164.50" y="61.38" font-size="4.9" text-anchor="start" fill="#000" stroke="#000" stroke-width="0.08">Colec12 (17348282)</text>
<text x="164.50" y="68.72" font-size="4.9" text-anchor="start" fill="#000" stroke="#000" stroke-width="0.08">Wfdc10 (17379482)</text>
<text x="164.50" y="76.07" font-size="4.9" text-anchor="start" fill="#000" stroke="#000" stroke-width="0.08">Lphn3 (17438530)</text>
<text x="164.50" y="83.42" font-size="4.9" text-anchor="start" fill="#000" stroke="#000" stroke-width="0.08">G730013B05Rik (17326186)</text>
<text x="164.50" y="90.77" font-size="4.9" text-anchor="start" fill="#000" stroke="#000" stroke-width="0.08">Gm10719 // Gm11167 (17514333)</text>
<text x="164.50" y="98.12" font-size="4.9" text-anchor="start" fill="#000" stroke="#000" stroke-width="0.08">Fam115a (17466452)</text>
<text x="164.50" y="105.47" font-size="4.9" text-anchor="start" fill="#000" stroke="#000" stroke-width="0.08">Igf2bp2 (17329258)</text>
<text x="164.50" y="112.82" font-size="4.9" text-anchor="start" fill="#000" stroke="#000" stroke-width="0.08">Wwtr1 (17405365)</text>
<text x="164.50" y="120.17" font-size="4.9" text-anchor="start" fill="#000" stroke="#000" stroke-width="0.08">Erc2 (17298090)</text>
<text x="164.50" y="127.52" font-size="4.9" text-anchor="start" fill="#000" stroke="#000" stroke-width="0.08">Rasef (17426565)</text>
<text x="164.50" y="134.88" font-size="4.9" text-anchor="start" fill="#000" stroke="#000" stroke-width="0.08">1810011O10Rik (17508170)</text>
<text x="164.50" y="142.22" font-size="4.9" text-anchor="start" fill="#000" stroke="#000" stroke-width="0.08">Lepr (17415979)</text>
<text x="164.50" y="149.57" font-size="4.9" text-anchor="start" fill="#000" stroke="#000" stroke-width="0.08">Prickle2 (17469121)</text>
<text x="164.50" y="156.92" font-size="4.9" text-anchor="start" fill="#000" stroke="#000" stroke-width="0.08">Cdc42bpa (17220059)</text>
<text x="164.50" y="164.28" font-size="4.9" text-anchor="start" fill="#000" stroke="#000" stroke-width="0.08">Fam135a (17221792)</text>
<text x="164.50" y="171.62" font-size="4.9" text-anchor="start" fill="#000" stroke="#000" stroke-width="0.08">Meis1 (17260815)</text>
<text x="164.50" y="178.97" font-size="4.9" text-anchor="start" fill="#000" stroke="#000" stroke-width="0.08">Muslin1 (17298262)</text>
<text x="164.50" y="186.32" font-size="4.9" text-anchor="start" fill="#000" stroke="#000" stroke-width="0.08">Bmpr1a (17305042)</text>
<text x="164.50" y="193.67" font-size="4.9" text-anchor="start" fill="#000" stroke="#000" stroke-width="0.08">Lrig3 (17237811)</text>
<text x="102.50" y="17.50" font-size="5.2" text-anchor="middle" fill="#000" font-weight="bold" stroke="#000" stroke-width="0.08">Host &gt; Donor derived Alv Mac</text>
<text x="20.80" y="17.70" font-size="4.5" text-anchor="middle" fill="#000" font-weight="bold" stroke="#000" stroke-width="0.08">Set1</text>
<text x="33.40" y="17.70" font-size="4.5" text-anchor="middle" fill="#000" font-weight="bold" stroke="#000" stroke-width="0.08">Set2</text>
<rect x="15.00" y="19.20" width="12.40" height="7.35" fill="#80c47c" stroke="#d2d4da" stroke-width="0.45"/>
<text x="21.20" y="24.27" font-size="4.0" text-anchor="middle" fill="#f4f4f4" stroke="#f4f4f4" stroke-width="0.08">22.04</text>
<rect x="27.40" y="19.20" width="12.50" height="7.35" fill="#8cca88" stroke="#d2d4da" stroke-width="0.45"/>
<text x="33.65" y="24.27" font-size="4.0" text-anchor="middle" fill="#f4f4f4" stroke="#f4f4f4" stroke-width="0.08">11.30</text>
<rect x="15.00" y="26.55" width="12.40" height="7.35" fill="#e8f4e6" stroke="#d2d4da" stroke-width="0.45"/>
<text x="21.20" y="31.62" font-size="4.0" text-anchor="middle" fill="#6a6a6a" stroke="#6a6a6a" stroke-width="0.08">4.64</text>
<rect x="27.40" y="26.55" width="12.50" height="7.35" fill="#e2f1e0" stroke="#d2d4da" stroke-width="0.45"/>
<text x="33.65" y="31.62" font-size="4.0" text-anchor="middle" fill="#6a6a6a" stroke="#6a6a6a" stroke-width="0.08">5.28</text>
<rect x="15.00" y="33.90" width="12.40" height="7.35" fill="#ecf6ea" stroke="#d2d4da" stroke-width="0.45"/>
<text x="21.20" y="38.97" font-size="4.0" text-anchor="middle" fill="#6a6a6a" stroke="#6a6a6a" stroke-width="0.08">3.51</text>
<rect x="27.40" y="33.90" width="12.50" height="7.35" fill="#b0daac" stroke="#d2d4da" stroke-width="0.45"/>
<text x="33.65" y="38.97" font-size="4.0" text-anchor="middle" fill="#6a6a6a" stroke="#6a6a6a" stroke-width="0.08">9.12</text>
<rect x="15.00" y="41.25" width="12.40" height="7.35" fill="#b4dcb1" stroke="#d2d4da" stroke-width="0.45"/>
<text x="21.20" y="46.32" font-size="4.0" text-anchor="middle" fill="#6a6a6a" stroke="#6a6a6a" stroke-width="0.08">8.81</text>
<rect x="27.40" y="41.25" width="12.50" height="7.35" fill="#ecf6ea" stroke="#d2d4da" stroke-width="0.45"/>
<text x="33.65" y="46.32" font-size="4.0" text-anchor="middle" fill="#6a6a6a" stroke="#6a6a6a" stroke-width="0.08">2.34</text>
<rect x="15.00" y="48.60" width="12.40" height="7.35" fill="#ecf6ea" stroke="#d2d4da" stroke-width="0.45"/>
<text x="21.20" y="53.67" font-size="4.0" text-anchor="middle" fill="#6a6a6a" stroke="#6a6a6a" stroke-width="0.08">4.10</text>
<rect x="27.40" y="48.60" width="12.50" height="7.35" fill="#e3f2e1" stroke="#d2d4da" stroke-width="0.45"/>
<text x="33.65" y="53.67" font-size="4.0" text-anchor="middle" fill="#6a6a6a" stroke="#6a6a6a" stroke-width="0.08">5.17</text>
<rect x="15.00" y="55.95" width="12.40" height="7.35" fill="#ecf6ea" stroke="#d2d4da" stroke-width="0.45"/>
<text x="21.20" y="61.02" font-size="4.0" text-anchor="middle" fill="#6a6a6a" stroke="#6a6a6a" stroke-width="0.08">3.38</text>
<rect x="27.40" y="55.95" width="12.50" height="7.35" fill="#b4dcb0" stroke="#d2d4da" stroke-width="0.45"/>
<text x="33.65" y="61.02" font-size="4.0" text-anchor="middle" fill="#6a6a6a" stroke="#6a6a6a" stroke-width="0.08">8.86</text>
<rect x="15.00" y="63.30" width="12.40" height="7.35" fill="#ecf6ea" stroke="#d2d4da" stroke-width="0.45"/>
<text x="21.20" y="68.38" font-size="4.0" text-anchor="middle" fill="#6a6a6a" stroke="#6a6a6a" stroke-width="0.08">3.23</text>
<rect x="27.40" y="63.30" width="12.50" height="7.35" fill="#ebf6e9" stroke="#d2d4da" stroke-width="0.45"/>
<text x="33.65" y="68.38" font-size="4.0" text-anchor="middle" fill="#6a6a6a" stroke="#6a6a6a" stroke-width="0.08">4.21</text>
<rect x="15.00" y="70.65" width="12.40" height="7.35" fill="#ecf6ea" stroke="#d2d4da" stroke-width="0.45"/>
<text x="21.20" y="75.72" font-size="4.0" text-anchor="middle" fill="#6a6a6a" stroke="#6a6a6a" stroke-width="0.08">3.06</text>
<rect x="27.40" y="70.65" width="12.50" height="7.35" fill="#ecf6ea" stroke="#d2d4da" stroke-width="0.45"/>
<text x="33.65" y="75.72" font-size="4.0" text-anchor="middle" fill="#6a6a6a" stroke="#6a6a6a" stroke-width="0.08">2.95</text>
<rect x="15.00" y="78.00" width="12.40" height="7.35" fill="#ecf6ea" stroke="#d2d4da" stroke-width="0.45"/>
<text x="21.20" y="83.08" font-size="4.0" text-anchor="middle" fill="#6a6a6a" stroke="#6a6a6a" stroke-width="0.08">3.41</text>
<rect x="27.40" y="78.00" width="12.50" height="7.35" fill="#ecf6ea" stroke="#d2d4da" stroke-width="0.45"/>
<text x="33.65" y="83.08" font-size="4.0" text-anchor="middle" fill="#6a6a6a" stroke="#6a6a6a" stroke-width="0.08">3.18</text>
<rect x="15.00" y="85.35" width="12.40" height="7.35" fill="#ecf6ea" stroke="#d2d4da" stroke-width="0.45"/>
<text x="21.20" y="90.42" font-size="4.0" text-anchor="middle" fill="#6a6a6a" stroke="#6a6a6a" stroke-width="0.08">3.82</text>
<rect x="27.40" y="85.35" width="12.50" height="7.35" fill="#ecf6ea" stroke="#d2d4da" stroke-width="0.45"/>
<text x="33.65" y="90.42" font-size="4.0" text-anchor="middle" fill="#6a6a6a" stroke="#6a6a6a" stroke-width="0.08">2.35</text>
<rect x="15.00" y="92.70" width="12.40" height="7.35" fill="#ecf6ea" stroke="#d2d4da" stroke-width="0.45"/>
<text x="21.20" y="97.78" font-size="4.0" text-anchor="middle" fill="#6a6a6a" stroke="#6a6a6a" stroke-width="0.08">3.33</text>
<rect x="27.40" y="92.70" width="12.50" height="7.35" fill="#ecf6ea" stroke="#d2d4da" stroke-width="0.45"/>
<text x="33.65" y="97.78" font-size="4.0" text-anchor="middle" fill="#6a6a6a" stroke="#6a6a6a" stroke-width="0.08">2.75</text>
<rect x="15.00" y="100.05" width="12.40" height="7.35" fill="#ecf6ea" stroke="#d2d4da" stroke-width="0.45"/>
<text x="21.20" y="105.12" font-size="4.0" text-anchor="middle" fill="#6a6a6a" stroke="#6a6a6a" stroke-width="0.08">3.09</text>
<rect x="27.40" y="100.05" width="12.50" height="7.35" fill="#ecf6ea" stroke="#d2d4da" stroke-width="0.45"/>
<text x="33.65" y="105.12" font-size="4.0" text-anchor="middle" fill="#6a6a6a" stroke="#6a6a6a" stroke-width="0.08">2.65</text>
<rect x="15.00" y="107.40" width="12.40" height="7.35" fill="#ecf6ea" stroke="#d2d4da" stroke-width="0.45"/>
<text x="21.20" y="112.47" font-size="4.0" text-anchor="middle" fill="#6a6a6a" stroke="#6a6a6a" stroke-width="0.08">2.71</text>
<rect x="27.40" y="107.40" width="12.50" height="7.35" fill="#ecf6ea" stroke="#d2d4da" stroke-width="0.45"/>
<text x="33.65" y="112.47" font-size="4.0" text-anchor="middle" fill="#6a6a6a" stroke="#6a6a6a" stroke-width="0.08">2.05</text>
<rect x="15.00" y="114.75" width="12.40" height="7.35" fill="#ecf6ea" stroke="#d2d4da" stroke-width="0.45"/>
<text x="21.20" y="119.83" font-size="4.0" text-anchor="middle" fill="#6a6a6a" stroke="#6a6a6a" stroke-width="0.08">2.61</text>
<rect x="27.40" y="114.75" width="12.50" height="7.35" fill="#ecf6ea" stroke="#d2d4da" stroke-width="0.45"/>
<text x="33.65" y="119.83" font-size="4.0" text-anchor="middle" fill="#6a6a6a" stroke="#6a6a6a" stroke-width="0.08">2.88</text>
<rect x="15.00" y="122.10" width="12.40" height="7.35" fill="#ecf6ea" stroke="#d2d4da" stroke-width="0.45"/>
<text x="21.20" y="127.17" font-size="4.0" text-anchor="middle" fill="#6a6a6a" stroke="#6a6a6a" stroke-width="0.08">2.57</text>
<rect x="27.40" y="122.10" width="12.50" height="7.35" fill="#ecf6ea" stroke="#d2d4da" stroke-width="0.45"/>
<text x="33.65" y="127.17" font-size="4.0" text-anchor="middle" fill="#6a6a6a" stroke="#6a6a6a" stroke-width="0.08">3.20</text>
<rect x="15.00" y="129.45" width="12.40" height="7.35" fill="#ecf6ea" stroke="#d2d4da" stroke-width="0.45"/>
<text x="21.20" y="134.53" font-size="4.0" text-anchor="middle" fill="#6a6a6a" stroke="#6a6a6a" stroke-width="0.08">2.52</text>
<rect x="27.40" y="129.45" width="12.50" height="7.35" fill="#ecf6ea" stroke="#d2d4da" stroke-width="0.45"/>
<text x="33.65" y="134.53" font-size="4.0" text-anchor="middle" fill="#6a6a6a" stroke="#6a6a6a" stroke-width="0.08">2.85</text>
<rect x="15.00" y="136.80" width="12.40" height="7.35" fill="#ecf6ea" stroke="#d2d4da" stroke-width="0.45"/>
<text x="21.20" y="141.88" font-size="4.0" text-anchor="middle" fill="#6a6a6a" stroke="#6a6a6a" stroke-width="0.08">2.46</text>
<rect x="27.40" y="136.80" width="12.50" height="7.35" fill="#ecf6ea" stroke="#d2d4da" stroke-width="0.45"/>
<text x="33.65" y="141.88" font-size="4.0" text-anchor="middle" fill="#6a6a6a" stroke="#6a6a6a" stroke-width="0.08">2.60</text>
<rect x="15.00" y="144.15" width="12.40" height="7.35" fill="#ecf6ea" stroke="#d2d4da" stroke-width="0.45"/>
<text x="21.20" y="149.22" font-size="4.0" text-anchor="middle" fill="#6a6a6a" stroke="#6a6a6a" stroke-width="0.08">2.42</text>
<rect x="27.40" y="144.15" width="12.50" height="7.35" fill="#ecf6ea" stroke="#d2d4da" stroke-width="0.45"/>
<text x="33.65" y="149.22" font-size="4.0" text-anchor="middle" fill="#6a6a6a" stroke="#6a6a6a" stroke-width="0.08">2.20</text>
<rect x="15.00" y="151.50" width="12.40" height="7.35" fill="#ecf6ea" stroke="#d2d4da" stroke-width="0.45"/>
<text x="21.20" y="156.57" font-size="4.0" text-anchor="middle" fill="#6a6a6a" stroke="#6a6a6a" stroke-width="0.08">2.41</text>
<rect x="27.40" y="151.50" width="12.50" height="7.35" fill="#ecf6ea" stroke="#d2d4da" stroke-width="0.45"/>
<text x="33.65" y="156.57" font-size="4.0" text-anchor="middle" fill="#6a6a6a" stroke="#6a6a6a" stroke-width="0.08">2.52</text>
<rect x="15.00" y="158.85" width="12.40" height="7.35" fill="#ecf6ea" stroke="#d2d4da" stroke-width="0.45"/>
<text x="21.20" y="163.93" font-size="4.0" text-anchor="middle" fill="#6a6a6a" stroke="#6a6a6a" stroke-width="0.08">2.20</text>
<rect x="27.40" y="158.85" width="12.50" height="7.35" fill="#ecf6ea" stroke="#d2d4da" stroke-width="0.45"/>
<text x="33.65" y="163.93" font-size="4.0" text-anchor="middle" fill="#6a6a6a" stroke="#6a6a6a" stroke-width="0.08">2.75</text>
<rect x="15.00" y="166.20" width="12.40" height="7.35" fill="#ecf6ea" stroke="#d2d4da" stroke-width="0.45"/>
<text x="21.20" y="171.28" font-size="4.0" text-anchor="middle" fill="#6a6a6a" stroke="#6a6a6a" stroke-width="0.08">2.19</text>
<rect x="27.40" y="166.20" width="12.50" height="7.35" fill="#ecf6ea" stroke="#d2d4da" stroke-width="0.45"/>
<text x="33.65" y="171.28" font-size="4.0" text-anchor="middle" fill="#6a6a6a" stroke="#6a6a6a" stroke-width="0.08">2.35</text>
<rect x="15.00" y="173.55" width="12.40" height="7.35" fill="#ecf6ea" stroke="#d2d4da" stroke-width="0.45"/>
<text x="21.20" y="178.62" font-size="4.0" text-anchor="middle" fill="#6a6a6a" stroke="#6a6a6a" stroke-width="0.08">2.18</text>
<rect x="27.40" y="173.55" width="12.50" height="7.35" fill="#ecf6ea" stroke="#d2d4da" stroke-width="0.45"/>
<text x="33.65" y="178.62" font-size="4.0" text-anchor="middle" fill="#6a6a6a" stroke="#6a6a6a" stroke-width="0.08">2.47</text>
<rect x="15.00" y="180.90" width="12.40" height="7.35" fill="#ecf6ea" stroke="#d2d4da" stroke-width="0.45"/>
<text x="21.20" y="185.97" font-size="4.0" text-anchor="middle" fill="#6a6a6a" stroke="#6a6a6a" stroke-width="0.08">2.42</text>
<rect x="27.40" y="180.90" width="12.50" height="7.35" fill="#ecf6ea" stroke="#d2d4da" stroke-width="0.45"/>
<text x="33.65" y="185.97" font-size="4.0" text-anchor="middle" fill="#6a6a6a" stroke="#6a6a6a" stroke-width="0.08">2.08</text>
<rect x="15.00" y="188.25" width="12.40" height="7.35" fill="#ecf6ea" stroke="#d2d4da" stroke-width="0.45"/>
<text x="21.20" y="193.32" font-size="4.0" text-anchor="middle" fill="#6a6a6a" stroke="#6a6a6a" stroke-width="0.08">2.00</text>
<rect x="27.40" y="188.25" width="12.50" height="7.35" fill="#ecf6ea" stroke="#d2d4da" stroke-width="0.45"/>
<text x="33.65" y="193.32" font-size="4.0" text-anchor="middle" fill="#6a6a6a" stroke="#6a6a6a" stroke-width="0.08">2.25</text>
<rect x="43.40" y="203.20" width="7.40" height="7.40" fill="#3466b6"/>
<rect x="50.75" y="203.20" width="7.40" height="7.40" fill="#3466b6"/>
<rect x="58.10" y="203.20" width="7.40" height="7.40" fill="#3466b6"/>
<rect x="65.45" y="203.20" width="7.40" height="7.40" fill="#5a8cd0"/>
<rect x="72.80" y="203.20" width="7.40" height="7.40" fill="#e7edf4"/>
<rect x="80.15" y="203.20" width="7.40" height="7.40" fill="#f6f5f5"/>
<rect x="87.50" y="203.20" width="7.40" height="7.40" fill="#f8e2d8"/>
<rect x="94.85" y="203.20" width="7.40" height="7.40" fill="#ae1a2c"/>
<rect x="102.20" y="203.20" width="7.40" height="7.40" fill="#3466b6"/>
<rect x="109.55" y="203.20" width="7.40" height="7.40" fill="#f6f5f5"/>
<rect x="116.90" y="203.20" width="7.40" height="7.40" fill="#3466b6"/>
<rect x="124.25" y="203.20" width="7.40" height="7.40" fill="#f6f5f5"/>
<rect x="131.60" y="203.20" width="7.40" height="7.40" fill="#ae1a2c"/>
<rect x="138.95" y="203.20" width="7.40" height="7.40" fill="#d45a4b"/>
<rect x="146.30" y="203.20" width="7.40" height="7.40" fill="#ae1a2c"/>
<rect x="153.65" y="203.20" width="7.40" height="7.40" fill="#ae1a2c"/>
<rect x="43.40" y="210.55" width="7.40" height="7.40" fill="#3466b6"/>
<rect x="50.75" y="210.55" width="7.40" height="7.40" fill="#5a8cd0"/>
<rect x="58.10" y="210.55" width="7.40" height="7.40" fill="#3466b6"/>
<rect x="65.45" y="210.55" width="7.40" height="7.40" fill="#3466b6"/>
<rect x="72.80" y="210.55" width="7.40" height="7.40" fill="#f6f5f5"/>
<rect x="80.15" y="210.55" width="7.40" height="7.40" fill="#f8e9e1"/>
<rect x="87.50" y="210.55" width="7.40" height="7.40" fill="#f7c0a9"/>
<rect x="94.85" y="210.55" width="7.40" height="7.40" fill="#d45a4b"/>
<rect x="102.20" y="210.55" width="7.40" height="7.40" fill="#5a8cd0"/>
<rect x="109.55" y="210.55" width="7.40" height="7.40" fill="#96c0e6"/>
<rect x="116.90" y="210.55" width="7.40" height="7.40" fill="#f6f5f5"/>
<rect x="124.25" y="210.55" width="7.40" height="7.40" fill="#96c0e6"/>
<rect x="131.60" y="210.55" width="7.40" height="7.40" fill="#ae1a2c"/>
<rect x="138.95" y="210.55" width="7.40" height="7.40" fill="#ae1a2c"/>
<rect x="146.30" y="210.55" width="7.40" height="7.40" fill="#ae1a2c"/>
<rect x="153.65" y="210.55" width="7.40" height="7.40" fill="#ae1a2c"/>
<rect x="43.40" y="217.90" width="7.40" height="7.40" fill="#3466b6"/>
<rect x="50.75" y="217.90" width="7.40" height="7.40" fill="#3466b6"/>
<rect x="58.10" y="217.90" width="7.40" height="7.40" fill="#3466b6"/>
<rect x="65.45" y="217.90" width="7.40" height="7.40" fill="#3466b6"/>
<rect x="72.80" y="217.90" width="7.40" height="7.40" fill="#d45a4b"/>
<rect x="80.15" y="217.90" width="7.40" height="7.40" fill="#f8e2d8"/>
<rect x="87.50" y="217.90" width="7.40" height="7.40" fill="#f6f5f5"/>
<rect x="94.85" y="217.90" width="7.40" height="7.40" fill="#ae1a2c"/>
<rect x="102.20" y="217.90" width="7.40" height="7.40" fill="#5a8cd0"/>
<rect x="109.55" y="217.90" width="7.40" height="7.40" fill="#96c0e6"/>
<rect x="116.90" y="217.90" width="7.40" height="7.40" fill="#f6f5f5"/>
<rect x="124.25" y="217.90" width="7.40" height="7.40" fill="#f6f5f5"/>
<rect x="131.60" y="217.90" width="7.40" height="7.40" fill="#ae1a2c"/>
<rect x="138.95" y="217.90" width="7.40" height="7.40" fill="#ae1a2c"/>
<rect x="146.30" y="217.90" width="7.40" height="7.40" fill="#ae1a2c"/>
<rect x="153.65" y="217.90" width="7.40" height="7.40" fill="#ae1a2c"/>
<rect x="43.40" y="225.25" width="7.40" height="7.40" fill="#3466b6"/>
<rect x="50.75" y="225.25" width="7.40" height="7.40" fill="#5a8cd0"/>
<rect x="58.10" y="225.25" width="7.40" height="7.40" fill="#5a8cd0"/>
<rect x="65.45" y="225.25" width="7.40" height="7.40" fill="#3466b6"/>
<rect x="72.80" y="225.25" width="7.40" height="7.40" fill="#ae1a2c"/>
<rect x="80.15" y="225.25" width="7.40" height="7.40" fill="#c13a3c"/>
<rect x="87.50" y="225.25" width="7.40" height="7.40" fill="#ae1a2c"/>
<rect x="94.85" y="225.25" width="7.40" height="7.40" fill="#dd6f5b"/>
<rect x="102.20" y="225.25" width="7.40" height="7.40" fill="#3466b6"/>
<rect x="109.55" y="225.25" width="7.40" height="7.40" fill="#f6f5f5"/>
<rect x="116.90" y="225.25" width="7.40" height="7.40" fill="#5a8cd0"/>
<rect x="124.25" y="225.25" width="7.40" height="7.40" fill="#5a8cd0"/>
<rect x="131.60" y="225.25" width="7.40" height="7.40" fill="#f6f5f5"/>
<rect x="138.95" y="225.25" width="7.40" height="7.40" fill="#ae1a2c"/>
<rect x="146.30" y="225.25" width="7.40" height="7.40" fill="#f6f5f5"/>
<rect x="153.65" y="225.25" width="7.40" height="7.40" fill="#d45a4b"/>
<rect x="43.40" y="232.60" width="7.40" height="7.40" fill="#3466b6"/>
<rect x="50.75" y="232.60" width="7.40" height="7.40" fill="#3466b6"/>
<rect x="58.10" y="232.60" width="7.40" height="7.40" fill="#3466b6"/>
<rect x="65.45" y="232.60" width="7.40" height="7.40" fill="#3466b6"/>
<rect x="72.80" y="232.60" width="7.40" height="7.40" fill="#ae1a2c"/>
<rect x="80.15" y="232.60" width="7.40" height="7.40" fill="#dd6f5b"/>
<rect x="87.50" y="232.60" width="7.40" height="7.40" fill="#f2a080"/>
<rect x="94.85" y="232.60" width="7.40" height="7.40" fill="#dd6f5b"/>
<rect x="102.20" y="232.60" width="7.40" height="7.40" fill="#78a6db"/>
<rect x="109.55" y="232.60" width="7.40" height="7.40" fill="#3466b6"/>
<rect x="116.90" y="232.60" width="7.40" height="7.40" fill="#f6f5f5"/>
<rect x="124.25" y="232.60" width="7.40" height="7.40" fill="#f6f5f5"/>
<rect x="131.60" y="232.60" width="7.40" height="7.40" fill="#ae1a2c"/>
<rect x="138.95" y="232.60" width="7.40" height="7.40" fill="#d45a4b"/>
<rect x="146.30" y="232.60" width="7.40" height="7.40" fill="#ae1a2c"/>
<rect x="153.65" y="232.60" width="7.40" height="7.40" fill="#ae1a2c"/>
<rect x="43.40" y="239.95" width="7.40" height="7.40" fill="#3466b6"/>
<rect x="50.75" y="239.95" width="7.40" height="7.40" fill="#96c0e6"/>
<rect x="58.10" y="239.95" width="7.40" height="7.40" fill="#3466b6"/>
<rect x="65.45" y="239.95" width="7.40" height="7.40" fill="#f6f5f5"/>
<rect x="72.80" y="239.95" width="7.40" height="7.40" fill="#f8e9e1"/>
<rect x="80.15" y="239.95" width="7.40" height="7.40" fill="#f6f5f5"/>
<rect x="87.50" y="239.95" width="7.40" height="7.40" fill="#f7c0a9"/>
<rect x="94.85" y="239.95" width="7.40" height="7.40" fill="#ae1a2c"/>
<rect x="102.20" y="239.95" width="7.40" height="7.40" fill="#96c0e6"/>
<rect x="109.55" y="239.95" width="7.40" height="7.40" fill="#5a8cd0"/>
<rect x="116.90" y="239.95" width="7.40" height="7.40" fill="#3466b6"/>
<rect x="124.25" y="239.95" width="7.40" height="7.40" fill="#5a8cd0"/>
<rect x="131.60" y="239.95" width="7.40" height="7.40" fill="#ae1a2c"/>
<rect x="138.95" y="239.95" width="7.40" height="7.40" fill="#ae1a2c"/>
<rect x="146.30" y="239.95" width="7.40" height="7.40" fill="#f6f5f5"/>
<rect x="153.65" y="239.95" width="7.40" height="7.40" fill="#96c0e6"/>
<rect x="43.40" y="247.30" width="7.40" height="7.40" fill="#96c0e6"/>
<rect x="50.75" y="247.30" width="7.40" height="7.40" fill="#96c0e6"/>
<rect x="58.10" y="247.30" width="7.40" height="7.40" fill="#3466b6"/>
<rect x="65.45" y="247.30" width="7.40" height="7.40" fill="#5a8cd0"/>
<rect x="72.80" y="247.30" width="7.40" height="7.40" fill="#ae1a2c"/>
<rect x="80.15" y="247.30" width="7.40" height="7.40" fill="#d45a4b"/>
<rect x="87.50" y="247.30" width="7.40" height="7.40" fill="#e37d66"/>
<rect x="94.85" y="247.30" width="7.40" height="7.40" fill="#c13a3c"/>
<rect x="102.20" y="247.30" width="7.40" height="7.40" fill="#3466b6"/>
<rect x="109.55" y="247.30" width="7.40" height="7.40" fill="#3466b6"/>
<rect x="116.90" y="247.30" width="7.40" height="7.40" fill="#3466b6"/>
<rect x="124.25" y="247.30" width="7.40" height="7.40" fill="#3466b6"/>
<rect x="131.60" y="247.30" width="7.40" height="7.40" fill="#ae1a2c"/>
<rect x="138.95" y="247.30" width="7.40" height="7.40" fill="#f8e2d8"/>
<rect x="146.30" y="247.30" width="7.40" height="7.40" fill="#fad6c4"/>
<rect x="153.65" y="247.30" width="7.40" height="7.40" fill="#ae1a2c"/>
<rect x="43.40" y="254.65" width="7.40" height="7.40" fill="#d0e2f2"/>
<rect x="50.75" y="254.65" width="7.40" height="7.40" fill="#3466b6"/>
<rect x="58.10" y="254.65" width="7.40" height="7.40" fill="#5a8cd0"/>
<rect x="65.45" y="254.65" width="7.40" height="7.40" fill="#5a8cd0"/>
<rect x="72.80" y="254.65" width="7.40" height="7.40" fill="#ae1a2c"/>
<rect x="80.15" y="254.65" width="7.40" height="7.40" fill="#f6f5f5"/>
<rect x="87.50" y="254.65" width="7.40" height="7.40" fill="#f6f5f5"/>
<rect x="94.85" y="254.65" width="7.40" height="7.40" fill="#ae1a2c"/>
<rect x="102.20" y="254.65" width="7.40" height="7.40" fill="#96c0e6"/>
<rect x="109.55" y="254.65" width="7.40" height="7.40" fill="#5a8cd0"/>
<rect x="116.90" y="254.65" width="7.40" height="7.40" fill="#5a8cd0"/>
<rect x="124.25" y="254.65" width="7.40" height="7.40" fill="#5a8cd0"/>
<rect x="131.60" y="254.65" width="7.40" height="7.40" fill="#ae1a2c"/>
<rect x="138.95" y="254.65" width="7.40" height="7.40" fill="#d45a4b"/>
<rect x="146.30" y="254.65" width="7.40" height="7.40" fill="#f8e2d8"/>
<rect x="153.65" y="254.65" width="7.40" height="7.40" fill="#d45a4b"/>
<rect x="43.40" y="262.00" width="7.40" height="7.40" fill="#d0e2f2"/>
<rect x="50.75" y="262.00" width="7.40" height="7.40" fill="#96c0e6"/>
<rect x="58.10" y="262.00" width="7.40" height="7.40" fill="#3466b6"/>
<rect x="65.45" y="262.00" width="7.40" height="7.40" fill="#dfeaf3"/>
<rect x="72.80" y="262.00" width="7.40" height="7.40" fill="#ae1a2c"/>
<rect x="80.15" y="262.00" width="7.40" height="7.40" fill="#ae1a2c"/>
<rect x="87.50" y="262.00" width="7.40" height="7.40" fill="#ae1a2c"/>
<rect x="94.85" y="262.00" width="7.40" height="7.40" fill="#c94742"/>
<rect x="102.20" y="262.00" width="7.40" height="7.40" fill="#3466b6"/>
<rect x="109.55" y="262.00" width="7.40" height="7.40" fill="#d0e2f2"/>
<rect x="116.90" y="262.00" width="7.40" height="7.40" fill="#3466b6"/>
<rect x="124.25" y="262.00" width="7.40" height="7.40" fill="#96c0e6"/>
<rect x="131.60" y="262.00" width="7.40" height="7.40" fill="#ae1a2c"/>
<rect x="138.95" y="262.00" width="7.40" height="7.40" fill="#e37d66"/>
<rect x="146.30" y="262.00" width="7.40" height="7.40" fill="#fad6c4"/>
<rect x="153.65" y="262.00" width="7.40" height="7.40" fill="#d45a4b"/>
<rect x="43.40" y="269.35" width="7.40" height="7.40" fill="#f6f5f5"/>
<rect x="50.75" y="269.35" width="7.40" height="7.40" fill="#3466b6"/>
<rect x="58.10" y="269.35" width="7.40" height="7.40" fill="#78a6db"/>
<rect x="65.45" y="269.35" width="7.40" height="7.40" fill="#adceeb"/>
<rect x="72.80" y="269.35" width="7.40" height="7.40" fill="#d0e2f2"/>
<rect x="80.15" y="269.35" width="7.40" height="7.40" fill="#f7efeb"/>
<rect x="87.50" y="269.35" width="7.40" height="7.40" fill="#f7c0a9"/>
<rect x="94.85" y="269.35" width="7.40" height="7.40" fill="#d45a4b"/>
<rect x="102.20" y="269.35" width="7.40" height="7.40" fill="#96c0e6"/>
<rect x="109.55" y="269.35" width="7.40" height="7.40" fill="#3466b6"/>
<rect x="116.90" y="269.35" width="7.40" height="7.40" fill="#3466b6"/>
<rect x="124.25" y="269.35" width="7.40" height="7.40" fill="#3466b6"/>
<rect x="131.60" y="269.35" width="7.40" height="7.40" fill="#ae1a2c"/>
<rect x="138.95" y="269.35" width="7.40" height="7.40" fill="#ae1a2c"/>
<rect x="146.30" y="269.35" width="7.40" height="7.40" fill="#d45a4b"/>
<rect x="153.65" y="269.35" width="7.40" height="7.40" fill="#e37d66"/>
<rect x="43.40" y="276.70" width="7.40" height="7.40" fill="#5a8cd0"/>
<rect x="50.75" y="276.70" width="7.40" height="7.40" fill="#5a8cd0"/>
<rect x="58.10" y="276.70" width="7.40" height="7.40" fill="#3466b6"/>
<rect x="65.45" y="276.70" width="7.40" height="7.40" fill="#5a8cd0"/>
<rect x="72.80" y="276.70" width="7.40" height="7.40" fill="#f6f5f5"/>
<rect x="80.15" y="276.70" width="7.40" height="7.40" fill="#eef1f4"/>
<rect x="87.50" y="276.70" width="7.40" height="7.40" fill="#f8e2d8"/>
<rect x="94.85" y="276.70" width="7.40" height="7.40" fill="#ae1a2c"/>
<rect x="102.20" y="276.70" width="7.40" height="7.40" fill="#96c0e6"/>
<rect x="109.55" y="276.70" width="7.40" height="7.40" fill="#5a8cd0"/>
<rect x="116.90" y="276.70" width="7.40" height="7.40" fill="#5a8cd0"/>
<rect x="124.25" y="276.70" width="7.40" height="7.40" fill="#3466b6"/>
<rect x="131.60" y="276.70" width="7.40" height="7.40" fill="#ae1a2c"/>
<rect x="138.95" y="276.70" width="7.40" height="7.40" fill="#ae1a2c"/>
<rect x="146.30" y="276.70" width="7.40" height="7.40" fill="#f2a080"/>
<rect x="153.65" y="276.70" width="7.40" height="7.40" fill="#d45a4b"/>
<rect x="43.40" y="284.05" width="7.40" height="7.40" fill="#96c0e6"/>
<rect x="50.75" y="284.05" width="7.40" height="7.40" fill="#3466b6"/>
<rect x="58.10" y="284.05" width="7.40" height="7.40" fill="#96c0e6"/>
<rect x="65.45" y="284.05" width="7.40" height="7.40" fill="#5a8cd0"/>
<rect x="72.80" y="284.05" width="7.40" height="7.40" fill="#ae1a2c"/>
<rect x="80.15" y="284.05" width="7.40" height="7.40" fill="#f2a080"/>
<rect x="87.50" y="284.05" width="7.40" height="7.40" fill="#f2a080"/>
<rect x="94.85" y="284.05" width="7.40" height="7.40" fill="#ae1a2c"/>
<rect x="102.20" y="284.05" width="7.40" height="7.40" fill="#3466b6"/>
<rect x="109.55" y="284.05" width="7.40" height="7.40" fill="#3466b6"/>
<rect x="116.90" y="284.05" width="7.40" height="7.40" fill="#3466b6"/>
<rect x="124.25" y="284.05" width="7.40" height="7.40" fill="#3466b6"/>
<rect x="131.60" y="284.05" width="7.40" height="7.40" fill="#ae1a2c"/>
<rect x="138.95" y="284.05" width="7.40" height="7.40" fill="#d45a4b"/>
<rect x="146.30" y="284.05" width="7.40" height="7.40" fill="#d45a4b"/>
<rect x="153.65" y="284.05" width="7.40" height="7.40" fill="#d45a4b"/>
<line x1="50.75" y1="203.20" x2="50.75" y2="291.40" stroke="#ffffff" stroke-opacity="0.18" stroke-width="0.5"/>
<line x1="58.10" y1="203.20" x2="58.10" y2="291.40" stroke="#ffffff" stroke-opacity="0.18" stroke-width="0.5"/>
<line x1="65.45" y1="203.20" x2="65.45" y2="291.40" stroke="#ffffff" stroke-opacity="0.18" stroke-width="0.5"/>
<line x1="72.80" y1="203.20" x2="72.80" y2="291.40" stroke="#ffffff" stroke-opacity="0.18" stroke-width="0.5"/>
<line x1="80.15" y1="203.20" x2="80.15" y2="291.40" stroke="#ffffff" stroke-opacity="0.18" stroke-width="0.5"/>
<line x1="87.50" y1="203.20" x2="87.50" y2="291.40" stroke="#ffffff" stroke-opacity="0.18" stroke-width="0.5"/>
<line x1="94.85" y1="203.20" x2="94.85" y2="291.40" stroke="#ffffff" stroke-opacity="0.18" stroke-width="0.5"/>
<line x1="102.20" y1="203.20" x2="102.20" y2="291.40" stroke="#ffffff" stroke-opacity="0.18" stroke-width="0.5"/>
<line x1="109.55" y1="203.20" x2="109.55" y2="291.40" stroke="#ffffff" stroke-opacity="0.18" stroke-width="0.5"/>
<line x1="116.90" y1="203.20" x2="116.90" y2="291.40" stroke="#ffffff" stroke-opacity="0.18" stroke-width="0.5"/>
<line x1="124.25" y1="203.20" x2="124.25" y2="291.40" stroke="#ffffff" stroke-opacity="0.18" stroke-width="0.5"/>
<line x1="131.60" y1="203.20" x2="131.60" y2="291.40" stroke="#ffffff" stroke-opacity="0.18" stroke-width="0.5"/>
<line x1="138.95" y1="203.20" x2="138.95" y2="291.40" stroke="#ffffff" stroke-opacity="0.18" stroke-width="0.5"/>
<line x1="146.30" y1="203.20" x2="146.30" y2="291.40" stroke="#ffffff" stroke-opacity="0.18" stroke-width="0.5"/>
<line x1="153.65" y1="203.20" x2="153.65" y2="291.40" stroke="#ffffff" stroke-opacity="0.18" stroke-width="0.5"/>
<line x1="43.40" y1="210.55" x2="161.00" y2="210.55" stroke="#ffffff" stroke-opacity="0.18" stroke-width="0.5"/>
<line x1="43.40" y1="217.90" x2="161.00" y2="217.90" stroke="#ffffff" stroke-opacity="0.18" stroke-width="0.5"/>
<line x1="43.40" y1="225.25" x2="161.00" y2="225.25" stroke="#ffffff" stroke-opacity="0.18" stroke-width="0.5"/>
<line x1="43.40" y1="232.60" x2="161.00" y2="232.60" stroke="#ffffff" stroke-opacity="0.18" stroke-width="0.5"/>
<line x1="43.40" y1="239.95" x2="161.00" y2="239.95" stroke="#ffffff" stroke-opacity="0.18" stroke-width="0.5"/>
<line x1="43.40" y1="247.30" x2="161.00" y2="247.30" stroke="#ffffff" stroke-opacity="0.18" stroke-width="0.5"/>
<line x1="43.40" y1="254.65" x2="161.00" y2="254.65" stroke="#ffffff" stroke-opacity="0.18" stroke-width="0.5"/>
<line x1="43.40" y1="262.00" x2="161.00" y2="262.00" stroke="#ffffff" stroke-opacity="0.18" stroke-width="0.5"/>
<line x1="43.40" y1="269.35" x2="161.00" y2="269.35" stroke="#ffffff" stroke-opacity="0.18" stroke-width="0.5"/>
<line x1="43.40" y1="276.70" x2="161.00" y2="276.70" stroke="#ffffff" stroke-opacity="0.18" stroke-width="0.5"/>
<line x1="43.40" y1="284.05" x2="161.00" y2="284.05" stroke="#ffffff" stroke-opacity="0.18" stroke-width="0.5"/>
<text x="164.50" y="208.62" font-size="4.9" text-anchor="start" fill="#000" stroke="#000" stroke-width="0.08">Pyhin1 (17219662)</text>
<text x="164.50" y="215.97" font-size="4.9" text-anchor="start" fill="#000" stroke="#000" stroke-width="0.08">Ak5 (17230231)</text>
<text x="164.50" y="223.32" font-size="4.9" text-anchor="start" fill="#000" stroke="#000" stroke-width="0.08">Apbb2 (17448415)</text>
<text x="164.50" y="230.68" font-size="4.9" text-anchor="start" fill="#000" stroke="#000" stroke-width="0.08">Retnla (17326069)</text>
<text x="164.50" y="238.03" font-size="4.9" text-anchor="start" fill="#000" stroke="#000" stroke-width="0.08">Mef2c (17288917)</text>
<text x="164.50" y="245.38" font-size="4.9" text-anchor="start" fill="#000" stroke="#000" stroke-width="0.08">H2-M2 (17344873)</text>
<text x="164.50" y="252.72" font-size="4.9" text-anchor="start" fill="#000" stroke="#000" stroke-width="0.08">A530099J19Rik (17290890)</text>
<text x="164.50" y="260.07" font-size="4.9" text-anchor="start" fill="#000" stroke="#000" stroke-width="0.08">Slamf7 (17229782)</text>
<text x="164.50" y="267.43" font-size="4.9" text-anchor="start" fill="#000" stroke="#000" stroke-width="0.08">Il205 (17230111)</text>
<text x="164.50" y="274.77" font-size="4.9" text-anchor="start" fill="#000" stroke="#000" stroke-width="0.08">C1qb (17548315)</text>
<text x="164.50" y="282.12" font-size="4.9" text-anchor="start" fill="#000" stroke="#000" stroke-width="0.08">C1qa (17431607)</text>
<text x="164.50" y="289.47" font-size="4.9" text-anchor="start" fill="#000" stroke="#000" stroke-width="0.08">Plbd1 (17472114)</text>
<text x="102.50" y="200.90" font-size="5.2" text-anchor="middle" fill="#000" font-weight="bold" stroke="#000" stroke-width="0.08">Host &lt; Donor derived Alv Mac</text>
<text x="20.80" y="200.90" font-size="4.5" text-anchor="middle" fill="#000" font-weight="bold" stroke="#000" stroke-width="0.08">Set1</text>
<text x="33.40" y="200.90" font-size="4.5" text-anchor="middle" fill="#000" font-weight="bold" stroke="#000" stroke-width="0.08">Set2</text>
<rect x="15.00" y="203.20" width="12.40" height="7.35" fill="#f3f0f7" stroke="#d2d4da" stroke-width="0.45"/>
<text x="21.20" y="208.28" font-size="4.0" text-anchor="middle" fill="#6a6a6a" stroke="#6a6a6a" stroke-width="0.08">-2.04</text>
<rect x="27.40" y="203.20" width="12.50" height="7.35" fill="#f1eef6" stroke="#d2d4da" stroke-width="0.45"/>
<text x="33.65" y="208.28" font-size="4.0" text-anchor="middle" fill="#6a6a6a" stroke="#6a6a6a" stroke-width="0.08">-2.27</text>
<rect x="15.00" y="210.55" width="12.40" height="7.35" fill="#f3f0f7" stroke="#d2d4da" stroke-width="0.45"/>
<text x="21.20" y="215.62" font-size="4.0" text-anchor="middle" fill="#6a6a6a" stroke="#6a6a6a" stroke-width="0.08">-2.05</text>
<rect x="27.40" y="210.55" width="12.50" height="7.35" fill="#eeeaf4" stroke="#d2d4da" stroke-width="0.45"/>
<text x="33.65" y="215.62" font-size="4.0" text-anchor="middle" fill="#6a6a6a" stroke="#6a6a6a" stroke-width="0.08">-2.91</text>
<rect x="15.00" y="217.90" width="12.40" height="7.35" fill="#f0edf5" stroke="#d2d4da" stroke-width="0.45"/>
<text x="21.20" y="222.97" font-size="4.0" text-anchor="middle" fill="#6a6a6a" stroke="#6a6a6a" stroke-width="0.08">-2.46</text>
<rect x="27.40" y="217.90" width="12.50" height="7.35" fill="#f1eef6" stroke="#d2d4da" stroke-width="0.45"/>
<text x="33.65" y="222.97" font-size="4.0" text-anchor="middle" fill="#6a6a6a" stroke="#6a6a6a" stroke-width="0.08">-2.26</text>
<rect x="15.00" y="225.25" width="12.40" height="7.35" fill="#eeeaf4" stroke="#d2d4da" stroke-width="0.45"/>
<text x="21.20" y="230.33" font-size="4.0" text-anchor="middle" fill="#6a6a6a" stroke="#6a6a6a" stroke-width="0.08">-2.87</text>
<rect x="27.40" y="225.25" width="12.50" height="7.35" fill="#f3f0f7" stroke="#d2d4da" stroke-width="0.45"/>
<text x="33.65" y="230.33" font-size="4.0" text-anchor="middle" fill="#6a6a6a" stroke="#6a6a6a" stroke-width="0.08">-2.01</text>
<rect x="15.00" y="232.60" width="12.40" height="7.35" fill="#eeeaf4" stroke="#d2d4da" stroke-width="0.45"/>
<text x="21.20" y="237.68" font-size="4.0" text-anchor="middle" fill="#6a6a6a" stroke="#6a6a6a" stroke-width="0.08">-2.90</text>
<rect x="27.40" y="232.60" width="12.50" height="7.35" fill="#f2eff7" stroke="#d2d4da" stroke-width="0.45"/>
<text x="33.65" y="237.68" font-size="4.0" text-anchor="middle" fill="#6a6a6a" stroke="#6a6a6a" stroke-width="0.08">-2.12</text>
<rect x="15.00" y="239.95" width="12.40" height="7.35" fill="#f0ecf5" stroke="#d2d4da" stroke-width="0.45"/>
<text x="21.20" y="245.03" font-size="4.0" text-anchor="middle" fill="#6a6a6a" stroke="#6a6a6a" stroke-width="0.08">-2.58</text>
<rect x="27.40" y="239.95" width="12.50" height="7.35" fill="#f0edf6" stroke="#d2d4da" stroke-width="0.45"/>
<text x="33.65" y="245.03" font-size="4.0" text-anchor="middle" fill="#6a6a6a" stroke="#6a6a6a" stroke-width="0.08">-2.44</text>
<rect x="15.00" y="247.30" width="12.40" height="7.35" fill="#efebf5" stroke="#d2d4da" stroke-width="0.45"/>
<text x="21.20" y="252.38" font-size="4.0" text-anchor="middle" fill="#6a6a6a" stroke="#6a6a6a" stroke-width="0.08">-2.70</text>
<rect x="27.40" y="247.30" width="12.50" height="7.35" fill="#ede9f4" stroke="#d2d4da" stroke-width="0.45"/>
<text x="33.65" y="252.38" font-size="4.0" text-anchor="middle" fill="#6a6a6a" stroke="#6a6a6a" stroke-width="0.08">-3.00</text>
<rect x="15.00" y="254.65" width="12.40" height="7.35" fill="#f0ecf5" stroke="#d2d4da" stroke-width="0.45"/>
<text x="21.20" y="259.72" font-size="4.0" text-anchor="middle" fill="#6a6a6a" stroke="#6a6a6a" stroke-width="0.08">-2.55</text>
<rect x="27.40" y="254.65" width="12.50" height="7.35" fill="#ede9f4" stroke="#d2d4da" stroke-width="0.45"/>
<text x="33.65" y="259.72" font-size="4.0" text-anchor="middle" fill="#6a6a6a" stroke="#6a6a6a" stroke-width="0.08">-2.94</text>
<rect x="15.00" y="262.00" width="12.40" height="7.35" fill="#f1eef6" stroke="#d2d4da" stroke-width="0.45"/>
<text x="21.20" y="267.07" font-size="4.0" text-anchor="middle" fill="#6a6a6a" stroke="#6a6a6a" stroke-width="0.08">-2.34</text>
<rect x="27.40" y="262.00" width="12.50" height="7.35" fill="#efecf5" stroke="#d2d4da" stroke-width="0.45"/>
<text x="33.65" y="267.07" font-size="4.0" text-anchor="middle" fill="#6a6a6a" stroke="#6a6a6a" stroke-width="0.08">-2.63</text>
<rect x="15.00" y="269.35" width="12.40" height="7.35" fill="#f2eff7" stroke="#d2d4da" stroke-width="0.45"/>
<text x="21.20" y="274.42" font-size="4.0" text-anchor="middle" fill="#6a6a6a" stroke="#6a6a6a" stroke-width="0.08">-2.12</text>
<rect x="27.40" y="269.35" width="12.50" height="7.35" fill="#e8e3f1" stroke="#d2d4da" stroke-width="0.45"/>
<text x="33.65" y="274.42" font-size="4.0" text-anchor="middle" fill="#6a6a6a" stroke="#6a6a6a" stroke-width="0.08">-3.88</text>
<rect x="15.00" y="276.70" width="12.40" height="7.35" fill="#f0ecf5" stroke="#d2d4da" stroke-width="0.45"/>
<text x="21.20" y="281.77" font-size="4.0" text-anchor="middle" fill="#6a6a6a" stroke="#6a6a6a" stroke-width="0.08">-2.57</text>
<rect x="27.40" y="276.70" width="12.50" height="7.35" fill="#eae5f2" stroke="#d2d4da" stroke-width="0.45"/>
<text x="33.65" y="281.77" font-size="4.0" text-anchor="middle" fill="#6a6a6a" stroke="#6a6a6a" stroke-width="0.08">-3.57</text>
<rect x="15.00" y="284.05" width="12.40" height="7.35" fill="#ebe6f2" stroke="#d2d4da" stroke-width="0.45"/>
<text x="21.20" y="289.12" font-size="4.0" text-anchor="middle" fill="#6a6a6a" stroke="#6a6a6a" stroke-width="0.08">-3.36</text>
<rect x="27.40" y="284.05" width="12.50" height="7.35" fill="#e1dbed" stroke="#d2d4da" stroke-width="0.45"/>
<text x="33.65" y="289.12" font-size="4.0" text-anchor="middle" fill="#6a6a6a" stroke="#6a6a6a" stroke-width="0.08">-4.98</text>
<rect x="43.40" y="298.30" width="7.40" height="7.40" fill="#ae1a2c"/>
<rect x="50.75" y="298.30" width="7.40" height="7.40" fill="#ae1a2c"/>
<rect x="58.10" y="298.30" width="7.40" height="7.40" fill="#ae1a2c"/>
<rect x="65.45" y="298.30" width="7.40" height="7.40" fill="#ae1a2c"/>
<rect x="72.80" y="298.30" width="7.40" height="7.40" fill="#78a6db"/>
<rect x="80.15" y="298.30" width="7.40" height="7.40" fill="#5a8cd0"/>
<rect x="87.50" y="298.30" width="7.40" height="7.40" fill="#5a8cd0"/>
<rect x="94.85" y="298.30" width="7.40" height="7.40" fill="#5a8cd0"/>
<rect x="102.20" y="298.30" width="7.40" height="7.40" fill="#5a8cd0"/>
<rect x="109.55" y="298.30" width="7.40" height="7.40" fill="#4779c3"/>
<rect x="116.90" y="298.30" width="7.40" height="7.40" fill="#4779c3"/>
<rect x="124.25" y="298.30" width="7.40" height="7.40" fill="#6c9cd7"/>
<rect x="131.60" y="298.30" width="7.40" height="7.40" fill="#ae1a2c"/>
<rect x="138.95" y="298.30" width="7.40" height="7.40" fill="#d45a4b"/>
<rect x="146.30" y="298.30" width="7.40" height="7.40" fill="#ae1a2c"/>
<rect x="153.65" y="298.30" width="7.40" height="7.40" fill="#ae1a2c"/>
<rect x="43.40" y="305.65" width="7.40" height="7.40" fill="#c94742"/>
<rect x="50.75" y="305.65" width="7.40" height="7.40" fill="#c94742"/>
<rect x="58.10" y="305.65" width="7.40" height="7.40" fill="#d45a4b"/>
<rect x="65.45" y="305.65" width="7.40" height="7.40" fill="#ae1a2c"/>
<rect x="72.80" y="305.65" width="7.40" height="7.40" fill="#3466b6"/>
<rect x="80.15" y="305.65" width="7.40" height="7.40" fill="#5a8cd0"/>
<rect x="87.50" y="305.65" width="7.40" height="7.40" fill="#5a8cd0"/>
<rect x="94.85" y="305.65" width="7.40" height="7.40" fill="#3466b6"/>
<rect x="102.20" y="305.65" width="7.40" height="7.40" fill="#3466b6"/>
<rect x="109.55" y="305.65" width="7.40" height="7.40" fill="#3466b6"/>
<rect x="116.90" y="305.65" width="7.40" height="7.40" fill="#5a8cd0"/>
<rect x="124.25" y="305.65" width="7.40" height="7.40" fill="#96c0e6"/>
<rect x="131.60" y="305.65" width="7.40" height="7.40" fill="#ae1a2c"/>
<rect x="138.95" y="305.65" width="7.40" height="7.40" fill="#ae1a2c"/>
<rect x="146.30" y="305.65" width="7.40" height="7.40" fill="#d45a4b"/>
<rect x="153.65" y="305.65" width="7.40" height="7.40" fill="#ae1a2c"/>
<rect x="43.40" y="313.00" width="7.40" height="7.40" fill="#ae1a2c"/>
<rect x="50.75" y="313.00" width="7.40" height="7.40" fill="#d45a4b"/>
<rect x="58.10" y="313.00" width="7.40" height="7.40" fill="#f8e2d8"/>
<rect x="65.45" y="313.00" width="7.40" height="7.40" fill="#f8e9e1"/>
<rect x="72.80" y="313.00" width="7.40" height="7.40" fill="#5a8cd0"/>
<rect x="80.15" y="313.00" width="7.40" height="7.40" fill="#3466b6"/>
<rect x="87.50" y="313.00" width="7.40" height="7.40" fill="#d0e2f2"/>
<rect x="94.85" y="313.00" width="7.40" height="7.40" fill="#5a8cd0"/>
<rect x="102.20" y="313.00" width="7.40" height="7.40" fill="#5a8cd0"/>
<rect x="109.55" y="313.00" width="7.40" height="7.40" fill="#3466b6"/>
<rect x="116.90" y="313.00" width="7.40" height="7.40" fill="#3466b6"/>
<rect x="124.25" y="313.00" width="7.40" height="7.40" fill="#3466b6"/>
<rect x="131.60" y="313.00" width="7.40" height="7.40" fill="#ae1a2c"/>
<rect x="138.95" y="313.00" width="7.40" height="7.40" fill="#d45a4b"/>
<rect x="146.30" y="313.00" width="7.40" height="7.40" fill="#ae1a2c"/>
<rect x="153.65" y="313.00" width="7.40" height="7.40" fill="#ae1a2c"/>
<rect x="43.40" y="320.35" width="7.40" height="7.40" fill="#c94742"/>
<rect x="50.75" y="320.35" width="7.40" height="7.40" fill="#ae1a2c"/>
<rect x="58.10" y="320.35" width="7.40" height="7.40" fill="#d45a4b"/>
<rect x="65.45" y="320.35" width="7.40" height="7.40" fill="#ae1a2c"/>
<rect x="72.80" y="320.35" width="7.40" height="7.40" fill="#3466b6"/>
<rect x="80.15" y="320.35" width="7.40" height="7.40" fill="#d0e2f2"/>
<rect x="87.50" y="320.35" width="7.40" height="7.40" fill="#3466b6"/>
<rect x="94.85" y="320.35" width="7.40" height="7.40" fill="#dfeaf3"/>
<rect x="102.20" y="320.35" width="7.40" height="7.40" fill="#5a8cd0"/>
<rect x="109.55" y="320.35" width="7.40" height="7.40" fill="#3466b6"/>
<rect x="116.90" y="320.35" width="7.40" height="7.40" fill="#3466b6"/>
<rect x="124.25" y="320.35" width="7.40" height="7.40" fill="#3466b6"/>
<rect x="131.60" y="320.35" width="7.40" height="7.40" fill="#ae1a2c"/>
<rect x="138.95" y="320.35" width="7.40" height="7.40" fill="#e98b70"/>
<rect x="146.30" y="320.35" width="7.40" height="7.40" fill="#ae1a2c"/>
<rect x="153.65" y="320.35" width="7.40" height="7.40" fill="#f8e9e1"/>
<rect x="43.40" y="327.70" width="7.40" height="7.40" fill="#c94742"/>
<rect x="50.75" y="327.70" width="7.40" height="7.40" fill="#ae1a2c"/>
<rect x="58.10" y="327.70" width="7.40" height="7.40" fill="#f8e9e1"/>
<rect x="65.45" y="327.70" width="7.40" height="7.40" fill="#ae1a2c"/>
<rect x="72.80" y="327.70" width="7.40" height="7.40" fill="#e7edf4"/>
<rect x="80.15" y="327.70" width="7.40" height="7.40" fill="#d0e2f2"/>
<rect x="87.50" y="327.70" width="7.40" height="7.40" fill="#78a6db"/>
<rect x="94.85" y="327.70" width="7.40" height="7.40" fill="#5a8cd0"/>
<rect x="102.20" y="327.70" width="7.40" height="7.40" fill="#d0e2f2"/>
<rect x="109.55" y="327.70" width="7.40" height="7.40" fill="#3466b6"/>
<rect x="116.90" y="327.70" width="7.40" height="7.40" fill="#3466b6"/>
<rect x="124.25" y="327.70" width="7.40" height="7.40" fill="#3466b6"/>
<rect x="131.60" y="327.70" width="7.40" height="7.40" fill="#d45a4b"/>
<rect x="138.95" y="327.70" width="7.40" height="7.40" fill="#d45a4b"/>
<rect x="146.30" y="327.70" width="7.40" height="7.40" fill="#ae1a2c"/>
<rect x="153.65" y="327.70" width="7.40" height="7.40" fill="#ae1a2c"/>
<rect x="43.40" y="335.05" width="7.40" height="7.40" fill="#c94742"/>
<rect x="50.75" y="335.05" width="7.40" height="7.40" fill="#ae1a2c"/>
<rect x="58.10" y="335.05" width="7.40" height="7.40" fill="#f7efeb"/>
<rect x="65.45" y="335.05" width="7.40" height="7.40" fill="#ae1a2c"/>
<rect x="72.80" y="335.05" width="7.40" height="7.40" fill="#e7edf4"/>
<rect x="80.15" y="335.05" width="7.40" height="7.40" fill="#eef1f4"/>
<rect x="87.50" y="335.05" width="7.40" height="7.40" fill="#5a8cd0"/>
<rect x="94.85" y="335.05" width="7.40" height="7.40" fill="#3466b6"/>
<rect x="102.20" y="335.05" width="7.40" height="7.40" fill="#d0e2f2"/>
<rect x="109.55" y="335.05" width="7.40" height="7.40" fill="#3466b6"/>
<rect x="116.90" y="335.05" width="7.40" height="7.40" fill="#3466b6"/>
<rect x="124.25" y="335.05" width="7.40" height="7.40" fill="#3466b6"/>
<rect x="131.60" y="335.05" width="7.40" height="7.40" fill="#d45a4b"/>
<rect x="138.95" y="335.05" width="7.40" height="7.40" fill="#d45a4b"/>
<rect x="146.30" y="335.05" width="7.40" height="7.40" fill="#ae1a2c"/>
<rect x="153.65" y="335.05" width="7.40" height="7.40" fill="#ae1a2c"/>
<line x1="50.75" y1="298.30" x2="50.75" y2="342.40" stroke="#ffffff" stroke-opacity="0.18" stroke-width="0.5"/>
<line x1="58.10" y1="298.30" x2="58.10" y2="342.40" stroke="#ffffff" stroke-opacity="0.18" stroke-width="0.5"/>
<line x1="65.45" y1="298.30" x2="65.45" y2="342.40" stroke="#ffffff" stroke-opacity="0.18" stroke-width="0.5"/>
<line x1="72.80" y1="298.30" x2="72.80" y2="342.40" stroke="#ffffff" stroke-opacity="0.18" stroke-width="0.5"/>
<line x1="80.15" y1="298.30" x2="80.15" y2="342.40" stroke="#ffffff" stroke-opacity="0.18" stroke-width="0.5"/>
<line x1="87.50" y1="298.30" x2="87.50" y2="342.40" stroke="#ffffff" stroke-opacity="0.18" stroke-width="0.5"/>
<line x1="94.85" y1="298.30" x2="94.85" y2="342.40" stroke="#ffffff" stroke-opacity="0.18" stroke-width="0.5"/>
<line x1="102.20" y1="298.30" x2="102.20" y2="342.40" stroke="#ffffff" stroke-opacity="0.18" stroke-width="0.5"/>
<line x1="109.55" y1="298.30" x2="109.55" y2="342.40" stroke="#ffffff" stroke-opacity="0.18" stroke-width="0.5"/>
<line x1="116.90" y1="298.30" x2="116.90" y2="342.40" stroke="#ffffff" stroke-opacity="0.18" stroke-width="0.5"/>
<line x1="124.25" y1="298.30" x2="124.25" y2="342.40" stroke="#ffffff" stroke-opacity="0.18" stroke-width="0.5"/>
<line x1="131.60" y1="298.30" x2="131.60" y2="342.40" stroke="#ffffff" stroke-opacity="0.18" stroke-width="0.5"/>
<line x1="138.95" y1="298.30" x2="138.95" y2="342.40" stroke="#ffffff" stroke-opacity="0.18" stroke-width="0.5"/>
<line x1="146.30" y1="298.30" x2="146.30" y2="342.40" stroke="#ffffff" stroke-opacity="0.18" stroke-width="0.5"/>
<line x1="153.65" y1="298.30" x2="153.65" y2="342.40" stroke="#ffffff" stroke-opacity="0.18" stroke-width="0.5"/>
<line x1="43.40" y1="305.65" x2="161.00" y2="305.65" stroke="#ffffff" stroke-opacity="0.18" stroke-width="0.5"/>
<line x1="43.40" y1="313.00" x2="161.00" y2="313.00" stroke="#ffffff" stroke-opacity="0.18" stroke-width="0.5"/>
<line x1="43.40" y1="320.35" x2="161.00" y2="320.35" stroke="#ffffff" stroke-opacity="0.18" stroke-width="0.5"/>
<line x1="43.40" y1="327.70" x2="161.00" y2="327.70" stroke="#ffffff" stroke-opacity="0.18" stroke-width="0.5"/>
<line x1="43.40" y1="335.05" x2="161.00" y2="335.05" stroke="#ffffff" stroke-opacity="0.18" stroke-width="0.5"/>
<text x="164.50" y="303.73" font-size="4.9" text-anchor="start" fill="#000" stroke="#000" stroke-width="0.08">Npl (17228234)</text>
<text x="164.50" y="311.08" font-size="4.9" text-anchor="start" fill="#000" stroke="#000" stroke-width="0.08">Erdr1 // Dockl8 (17546774)</text>
<text x="164.50" y="318.43" font-size="4.9" text-anchor="start" fill="#000" stroke="#000" stroke-width="0.08">Olse (17217035)</text>
<text x="164.50" y="325.78" font-size="4.9" text-anchor="start" fill="#000" stroke="#000" stroke-width="0.08">Glul (17548983)</text>
<text x="164.50" y="333.12" font-size="4.9" text-anchor="start" fill="#000" stroke="#000" stroke-width="0.08">LOC100861696 (17550324)</text>
<text x="164.50" y="340.48" font-size="4.9" text-anchor="start" fill="#000" stroke="#000" stroke-width="0.08">LOC100861696 (17550348)</text>
<text x="102.50" y="296.00" font-size="5.2" text-anchor="middle" fill="#000" font-weight="bold" stroke="#000" stroke-width="0.08">CD45.1 &gt; CD45.2</text>
<text x="20.80" y="296.00" font-size="4.5" text-anchor="middle" fill="#000" font-weight="bold" stroke="#000" stroke-width="0.08">Set1</text>
<text x="33.40" y="296.00" font-size="4.5" text-anchor="middle" fill="#000" font-weight="bold" stroke="#000" stroke-width="0.08">Set2</text>
<rect x="15.00" y="298.30" width="12.40" height="7.35" fill="#c2e2bf" stroke="#d2d4da" stroke-width="0.45"/>
<text x="21.20" y="303.38" font-size="4.0" text-anchor="middle" fill="#6a6a6a" stroke="#6a6a6a" stroke-width="0.08">7.90</text>
<rect x="27.40" y="298.30" width="12.50" height="7.35" fill="#cfc4e2" stroke="#d2d4da" stroke-width="0.45"/>
<text x="33.65" y="303.38" font-size="4.0" text-anchor="middle" fill="#6a6a6a" stroke="#6a6a6a" stroke-width="0.08">-8.13</text>
<rect x="15.00" y="305.65" width="12.40" height="7.35" fill="#e7f4e5" stroke="#d2d4da" stroke-width="0.45"/>
<text x="21.20" y="310.73" font-size="4.0" text-anchor="middle" fill="#6a6a6a" stroke="#6a6a6a" stroke-width="0.08">4.75</text>
<rect x="27.40" y="305.65" width="12.50" height="7.35" fill="#dfd7eb" stroke="#d2d4da" stroke-width="0.45"/>
<text x="33.65" y="310.73" font-size="4.0" text-anchor="middle" fill="#6a6a6a" stroke="#6a6a6a" stroke-width="0.08">-5.45</text>
<rect x="15.00" y="313.00" width="12.40" height="7.35" fill="#ecf6ea" stroke="#d2d4da" stroke-width="0.45"/>
<text x="21.20" y="318.07" font-size="4.0" text-anchor="middle" fill="#6a6a6a" stroke="#6a6a6a" stroke-width="0.08">3.30</text>
<rect x="27.40" y="313.00" width="12.50" height="7.35" fill="#d5cce6" stroke="#d2d4da" stroke-width="0.45"/>
<text x="33.65" y="318.07" font-size="4.0" text-anchor="middle" fill="#6a6a6a" stroke="#6a6a6a" stroke-width="0.08">-7.00</text>
<rect x="15.00" y="320.35" width="12.40" height="7.35" fill="#ecf6ea" stroke="#d2d4da" stroke-width="0.45"/>
<text x="21.20" y="325.43" font-size="4.0" text-anchor="middle" fill="#6a6a6a" stroke="#6a6a6a" stroke-width="0.08">2.29</text>
<rect x="27.40" y="320.35" width="12.50" height="7.35" fill="#efecf5" stroke="#d2d4da" stroke-width="0.45"/>
<text x="33.65" y="325.43" font-size="4.0" text-anchor="middle" fill="#6a6a6a" stroke="#6a6a6a" stroke-width="0.08">-2.61</text>
<rect x="15.00" y="327.70" width="12.40" height="7.35" fill="#ecf6ea" stroke="#d2d4da" stroke-width="0.45"/>
<text x="21.20" y="332.77" font-size="4.0" text-anchor="middle" fill="#6a6a6a" stroke="#6a6a6a" stroke-width="0.08">3.08</text>
<rect x="27.40" y="327.70" width="12.50" height="7.35" fill="#f0edf5" stroke="#d2d4da" stroke-width="0.45"/>
<text x="33.65" y="332.77" font-size="4.0" text-anchor="middle" fill="#6a6a6a" stroke="#6a6a6a" stroke-width="0.08">-2.45</text>
<rect x="15.00" y="335.05" width="12.40" height="7.35" fill="#ecf6ea" stroke="#d2d4da" stroke-width="0.45"/>
<text x="21.20" y="340.12" font-size="4.0" text-anchor="middle" fill="#6a6a6a" stroke="#6a6a6a" stroke-width="0.08">3.04</text>
<rect x="27.40" y="335.05" width="12.50" height="7.35" fill="#f0edf5" stroke="#d2d4da" stroke-width="0.45"/>
<text x="33.65" y="340.12" font-size="4.0" text-anchor="middle" fill="#6a6a6a" stroke="#6a6a6a" stroke-width="0.08">-2.45</text>
<rect x="43.40" y="350.00" width="7.40" height="7.40" fill="#4f81c8"/>
<rect x="50.75" y="350.00" width="7.40" height="7.40" fill="#96c0e6"/>
<rect x="58.10" y="350.00" width="7.40" height="7.40" fill="#d0e2f2"/>
<rect x="65.45" y="350.00" width="7.40" height="7.40" fill="#84b0df"/>
<rect x="72.80" y="350.00" width="7.40" height="7.40" fill="#ae1a2c"/>
<rect x="80.15" y="350.00" width="7.40" height="7.40" fill="#e98b70"/>
<rect x="87.50" y="350.00" width="7.40" height="7.40" fill="#ec9275"/>
<rect x="94.85" y="350.00" width="7.40" height="7.40" fill="#e07660"/>
<rect x="102.20" y="350.00" width="7.40" height="7.40" fill="#ae1a2c"/>
<rect x="109.55" y="350.00" width="7.40" height="7.40" fill="#d45a4b"/>
<rect x="116.90" y="350.00" width="7.40" height="7.40" fill="#ae1a2c"/>
<rect x="124.25" y="350.00" width="7.40" height="7.40" fill="#ae1a2c"/>
<rect x="131.60" y="350.00" width="7.40" height="7.40" fill="#4779c3"/>
<rect x="138.95" y="350.00" width="7.40" height="7.40" fill="#5a8cd0"/>
<rect x="146.30" y="350.00" width="7.40" height="7.40" fill="#5a8cd0"/>
<rect x="153.65" y="350.00" width="7.40" height="7.40" fill="#5a8cd0"/>
<line x1="50.75" y1="350.00" x2="50.75" y2="357.35" stroke="#ffffff" stroke-opacity="0.18" stroke-width="0.5"/>
<line x1="58.10" y1="350.00" x2="58.10" y2="357.35" stroke="#ffffff" stroke-opacity="0.18" stroke-width="0.5"/>
<line x1="65.45" y1="350.00" x2="65.45" y2="357.35" stroke="#ffffff" stroke-opacity="0.18" stroke-width="0.5"/>
<line x1="72.80" y1="350.00" x2="72.80" y2="357.35" stroke="#ffffff" stroke-opacity="0.18" stroke-width="0.5"/>
<line x1="80.15" y1="350.00" x2="80.15" y2="357.35" stroke="#ffffff" stroke-opacity="0.18" stroke-width="0.5"/>
<line x1="87.50" y1="350.00" x2="87.50" y2="357.35" stroke="#ffffff" stroke-opacity="0.18" stroke-width="0.5"/>
<line x1="94.85" y1="350.00" x2="94.85" y2="357.35" stroke="#ffffff" stroke-opacity="0.18" stroke-width="0.5"/>
<line x1="102.20" y1="350.00" x2="102.20" y2="357.35" stroke="#ffffff" stroke-opacity="0.18" stroke-width="0.5"/>
<line x1="109.55" y1="350.00" x2="109.55" y2="357.35" stroke="#ffffff" stroke-opacity="0.18" stroke-width="0.5"/>
<line x1="116.90" y1="350.00" x2="116.90" y2="357.35" stroke="#ffffff" stroke-opacity="0.18" stroke-width="0.5"/>
<line x1="124.25" y1="350.00" x2="124.25" y2="357.35" stroke="#ffffff" stroke-opacity="0.18" stroke-width="0.5"/>
<line x1="131.60" y1="350.00" x2="131.60" y2="357.35" stroke="#ffffff" stroke-opacity="0.18" stroke-width="0.5"/>
<line x1="138.95" y1="350.00" x2="138.95" y2="357.35" stroke="#ffffff" stroke-opacity="0.18" stroke-width="0.5"/>
<line x1="146.30" y1="350.00" x2="146.30" y2="357.35" stroke="#ffffff" stroke-opacity="0.18" stroke-width="0.5"/>
<line x1="153.65" y1="350.00" x2="153.65" y2="357.35" stroke="#ffffff" stroke-opacity="0.18" stroke-width="0.5"/>
<text x="164.50" y="355.43" font-size="4.9" text-anchor="start" fill="#000" stroke="#000" stroke-width="0.08">Shcbp1l (17218290)</text>
<text x="102.50" y="347.70" font-size="5.2" text-anchor="middle" fill="#000" font-weight="bold" stroke="#000" stroke-width="0.08">CD45.1 &lt; CD45.2</text>
<text x="20.80" y="347.70" font-size="4.5" text-anchor="middle" fill="#000" font-weight="bold" stroke="#000" stroke-width="0.08">Set1</text>
<text x="33.40" y="347.70" font-size="4.5" text-anchor="middle" fill="#000" font-weight="bold" stroke="#000" stroke-width="0.08">Set2</text>
<rect x="15.00" y="350.00" width="12.40" height="7.35" fill="#f0ecf5" stroke="#d2d4da" stroke-width="0.45"/>
<text x="21.20" y="355.07" font-size="4.0" text-anchor="middle" fill="#6a6a6a" stroke="#6a6a6a" stroke-width="0.08">-2.56</text>
<rect x="27.40" y="350.00" width="12.50" height="7.35" fill="#ecf6ea" stroke="#d2d4da" stroke-width="0.45"/>
<text x="33.65" y="355.07" font-size="4.0" text-anchor="middle" fill="#6a6a6a" stroke="#6a6a6a" stroke-width="0.08">2.67</text>
<text transform="translate(44.77,358.00) rotate(90)" font-size="4.55" text-anchor="start" fill="#111" stroke="#111" stroke-width="0.05">Host 1_n1</text>
<text transform="translate(52.12,358.00) rotate(90)" font-size="4.55" text-anchor="start" fill="#111" stroke="#111" stroke-width="0.05">Host 1_n2</text>
<text transform="translate(59.47,358.00) rotate(90)" font-size="4.55" text-anchor="start" fill="#111" stroke="#111" stroke-width="0.05">Host 1_n3</text>
<text transform="translate(66.82,358.00) rotate(90)" font-size="4.55" text-anchor="start" fill="#111" stroke="#111" stroke-width="0.05">Host 1_n4</text>
<text transform="translate(74.17,358.00) rotate(90)" font-size="4.55" text-anchor="start" fill="#111" stroke="#111" stroke-width="0.05">Donor 2_n1</text>
<text transform="translate(81.53,358.00) rotate(90)" font-size="4.55" text-anchor="start" fill="#111" stroke="#111" stroke-width="0.05">Donor 2_n2</text>
<text transform="translate(88.88,358.00) rotate(90)" font-size="4.55" text-anchor="start" fill="#111" stroke="#111" stroke-width="0.05">Donor 2_n3</text>
<text transform="translate(96.22,358.00) rotate(90)" font-size="4.55" text-anchor="start" fill="#111" stroke="#111" stroke-width="0.05">Donor 2_n4</text>
<text transform="translate(103.57,358.00) rotate(90)" font-size="4.55" text-anchor="start" fill="#111" stroke="#111" stroke-width="0.05">Host 2_n1</text>
<text transform="translate(110.92,358.00) rotate(90)" font-size="4.55" text-anchor="start" fill="#111" stroke="#111" stroke-width="0.05">Host 2_n2</text>
<text transform="translate(118.28,358.00) rotate(90)" font-size="4.55" text-anchor="start" fill="#111" stroke="#111" stroke-width="0.05">Host 2_n3</text>
<text transform="translate(125.62,358.00) rotate(90)" font-size="4.55" text-anchor="start" fill="#111" stroke="#111" stroke-width="0.05">Host 2_n4</text>
<text transform="translate(132.97,358.00) rotate(90)" font-size="4.55" text-anchor="start" fill="#111" stroke="#111" stroke-width="0.05">Donor 1_n1</text>
<text transform="translate(140.32,358.00) rotate(90)" font-size="4.55" text-anchor="start" fill="#111" stroke="#111" stroke-width="0.05">Donor 1_n2</text>
<text transform="translate(147.67,358.00) rotate(90)" font-size="4.55" text-anchor="start" fill="#111" stroke="#111" stroke-width="0.05">Donor 1_n3</text>
<text transform="translate(155.03,358.00) rotate(90)" font-size="4.55" text-anchor="start" fill="#111" stroke="#111" stroke-width="0.05">Donor 1_n4</text>
<rect x="44.3" y="382.1" width="54.9" height="1.2" fill="#777"/>
<rect x="103.8" y="382.1" width="53.1" height="1.2" fill="#777"/>
<text x="71.50" y="389.10" font-size="5.6" text-anchor="middle" fill="#000" stroke="#000" stroke-width="0.08">Set 1</text>
<text x="130.80" y="389.10" font-size="5.6" text-anchor="middle" fill="#000" stroke="#000" stroke-width="0.08">Set 2</text>
<rect x="219.7" y="166.7" width="3.4" height="53" fill="url(#gp)"/>
<text x="224.40" y="168.40" font-size="3.3" text-anchor="start" fill="#444" stroke="#444" stroke-width="0.08">15</text>
<text x="224.40" y="177.40" font-size="3.3" text-anchor="start" fill="#444" stroke="#444" stroke-width="0.08">10</text>
<text x="224.40" y="185.80" font-size="3.3" text-anchor="start" fill="#444" stroke="#444" stroke-width="0.08">5</text>
<text x="224.40" y="194.40" font-size="3.3" text-anchor="start" fill="#444" stroke="#444" stroke-width="0.08">0</text>
<text x="224.40" y="203.20" font-size="3.3" text-anchor="start" fill="#444" stroke="#444" stroke-width="0.08">-5</text>
<text x="224.40" y="212.20" font-size="3.3" text-anchor="start" fill="#444" stroke="#444" stroke-width="0.08">-10</text>
<text x="224.40" y="220.80" font-size="3.3" text-anchor="start" fill="#444" stroke="#444" stroke-width="0.08">-15</text>
<rect x="231" y="167.2" width="3.6" height="52.1" fill="url(#rb)"/>
<text x="235.90" y="173.20" font-size="3.3" text-anchor="start" fill="#444" stroke="#444" stroke-width="0.08">2</text>
<text x="235.90" y="183.70" font-size="3.3" text-anchor="start" fill="#444" stroke="#444" stroke-width="0.08">1</text>
<text x="235.90" y="194.40" font-size="3.3" text-anchor="start" fill="#444" stroke="#444" stroke-width="0.08">0</text>
<text x="235.90" y="204.70" font-size="3.3" text-anchor="start" fill="#444" stroke="#444" stroke-width="0.08">-1</text>
<text x="235.90" y="215.10" font-size="3.3" text-anchor="start" fill="#444" stroke="#444" stroke-width="0.08">-2</text>
<rect x="263.7" y="17.6" width="104.80000000000001" height="95.4" fill="none" stroke="#c4c4c4" stroke-width="0.6"/>
<line x1="309.4" y1="17.6" x2="309.4" y2="113.0" stroke="#a8a8a8" stroke-width="0.6"/>
<line x1="263.7" y1="67.3" x2="368.5" y2="67.3" stroke="#a8a8a8" stroke-width="0.6"/>
<line x1="261.2" y1="23.3" x2="263.7" y2="23.3" stroke="#999" stroke-width="0.4"/>
<text transform="translate(259.10,23.30) rotate(-90)" font-size="2.8" text-anchor="middle" fill="#666" stroke="#666" stroke-width="0.08">8.0</text>
<line x1="261.2" y1="36.2" x2="263.7" y2="36.2" stroke="#999" stroke-width="0.4"/>
<text transform="translate(259.10,36.20) rotate(-90)" font-size="2.8" text-anchor="middle" fill="#666" stroke="#666" stroke-width="0.08">4.0</text>
<line x1="261.2" y1="54.1" x2="263.7" y2="54.1" stroke="#999" stroke-width="0.4"/>
<text transform="translate(259.10,54.10) rotate(-90)" font-size="2.8" text-anchor="middle" fill="#666" stroke="#666" stroke-width="0.08">2.0</text>
<line x1="261.2" y1="67.5" x2="263.7" y2="67.5" stroke="#999" stroke-width="0.4"/>
<text transform="translate(259.10,67.50) rotate(-90)" font-size="2.8" text-anchor="middle" fill="#666" stroke="#666" stroke-width="0.08">1.0</text>
<line x1="261.2" y1="80" x2="263.7" y2="80" stroke="#999" stroke-width="0.4"/>
<text transform="translate(259.10,80.00) rotate(-90)" font-size="2.8" text-anchor="middle" fill="#666" stroke="#666" stroke-width="0.08">0.5</text>
<line x1="261.2" y1="98" x2="263.7" y2="98" stroke="#999" stroke-width="0.4"/>
<text transform="translate(259.10,98.00) rotate(-90)" font-size="2.8" text-anchor="middle" fill="#666" stroke="#666" stroke-width="0.08">0.2</text>
<line x1="261.2" y1="110.5" x2="263.7" y2="110.5" stroke="#999" stroke-width="0.4"/>
<text transform="translate(259.10,110.50) rotate(-90)" font-size="2.8" text-anchor="middle" fill="#666" stroke="#666" stroke-width="0.08">0.1</text>
<line x1="276" y1="113.0" x2="276" y2="114.2" stroke="#999" stroke-width="0.4"/>
<line x1="290" y1="113.0" x2="290" y2="114.2" stroke="#999" stroke-width="0.4"/>
<line x1="309.4" y1="113.0" x2="309.4" y2="114.2" stroke="#999" stroke-width="0.4"/>
<text transform="translate(310.20,116.00) rotate(-90)" font-size="2.4" text-anchor="middle" fill="#777" stroke="#777" stroke-width="0.08">1.0</text>
<line x1="323" y1="113.0" x2="323" y2="114.2" stroke="#999" stroke-width="0.4"/>
<text transform="translate(323.80,116.00) rotate(-90)" font-size="2.4" text-anchor="middle" fill="#777" stroke="#777" stroke-width="0.08">3.0</text>
<line x1="343" y1="113.0" x2="343" y2="114.2" stroke="#999" stroke-width="0.4"/>
<ellipse cx="308.59999999999997" cy="69.5" rx="8.2" ry="9.2" fill="#000"/>
<path d="M309.2 76.0h1.1v1.1h-1.1zM303.5 75.5h1.1v1.1h-1.1zM306.5 67.7h1.1v1.1h-1.1zM318.4 67.9h1.1v1.1h-1.1zM308.2 73.2h1.1v1.1h-1.1zM314.1 67.6h1.1v1.1h-1.1zM310.7 62.8h1.1v1.1h-1.1zM305.9 66.8h1.1v1.1h-1.1zM300.1 61.7h1.1v1.1h-1.1zM299.1 69.2h1.1v1.1h-1.1zM307.0 67.3h1.1v1.1h-1.1zM307.8 61.3h1.1v1.1h-1.1zM307.7 70.4h1.1v1.1h-1.1zM311.7 63.4h1.1v1.1h-1.1zM304.9 57.9h1.1v1.1h-1.1zM304.2 56.9h1.1v1.1h-1.1zM300.9 76.6h1.1v1.1h-1.1zM296.6 75.7h1.1v1.1h-1.1zM309.7 66.8h1.1v1.1h-1.1zM310.8 71.5h1.1v1.1h-1.1zM313.6 66.6h1.1v1.1h-1.1zM304.5 66.1h1.1v1.1h-1.1zM302.7 69.7h1.1v1.1h-1.1zM304.3 75.8h1.1v1.1h-1.1zM297.4 64.6h1.1v1.1h-1.1zM301.9 58.0h1.1v1.1h-1.1zM317.1 53.3h1.1v1.1h-1.1zM306.3 66.2h1.1v1.1h-1.1zM316.0 56.0h1.1v1.1h-1.1zM313.5 63.7h1.1v1.1h-1.1zM306.9 65.3h1.1v1.1h-1.1zM310.9 61.8h1.1v1.1h-1.1zM307.8 71.0h1.1v1.1h-1.1zM316.8 53.4h1.1v1.1h-1.1zM316.8 72.8h1.1v1.1h-1.1zM305.6 71.2h1.1v1.1h-1.1zM306.4 78.8h1.1v1.1h-1.1zM309.1 67.5h1.1v1.1h-1.1zM306.7 68.0h1.1v1.1h-1.1zM306.7 64.1h1.1v1.1h-1.1zM318.2 56.0h1.1v1.1h-1.1zM288.5 71.9h1.1v1.1h-1.1zM307.4 71.2h1.1v1.1h-1.1zM306.9 68.3h1.1v1.1h-1.1zM310.3 74.1h1.1v1.1h-1.1zM305.4 67.3h1.1v1.1h-1.1zM318.8 70.0h1.1v1.1h-1.1zM303.9 83.2h1.1v1.1h-1.1zM311.9 64.8h1.1v1.1h-1.1zM301.9 71.8h1.1v1.1h-1.1zM303.0 63.8h1.1v1.1h-1.1zM300.8 67.4h1.1v1.1h-1.1zM313.8 65.4h1.1v1.1h-1.1zM300.6 74.2h1.1v1.1h-1.1zM308.8 73.7h1.1v1.1h-1.1zM314.5 66.8h1.1v1.1h-1.1zM307.2 68.8h1.1v1.1h-1.1zM302.3 73.9h1.1v1.1h-1.1zM315.5 68.6h1.1v1.1h-1.1zM306.6 67.7h1.1v1.1h-1.1zM303.4 65.1h1.1v1.1h-1.1zM305.5 64.6h1.1v1.1h-1.1zM304.9 60.4h1.1v1.1h-1.1zM310.0 68.9h1.1v1.1h-1.1zM300.7 57.0h1.1v1.1h-1.1zM308.6 75.3h1.1v1.1h-1.1zM303.8 66.9h1.1v1.1h-1.1zM305.3 73.2h1.1v1.1h-1.1zM303.6 75.5h1.1v1.1h-1.1zM306.9 74.5h1.1v1.1h-1.1zM308.1 67.6h1.1v1.1h-1.1zM299.7 66.5h1.1v1.1h-1.1zM307.0 73.0h1.1v1.1h-1.1zM309.0 64.7h1.1v1.1h-1.1zM310.8 74.2h1.1v1.1h-1.1zM307.0 66.6h1.1v1.1h-1.1zM306.3 74.0h1.1v1.1h-1.1zM310.5 63.1h1.1v1.1h-1.1zM309.8 65.8h1.1v1.1h-1.1zM304.6 76.8h1.1v1.1h-1.1zM312.1 64.0h1.1v1.1h-1.1zM308.7 71.7h1.1v1.1h-1.1zM304.5 68.9h1.1v1.1h-1.1zM310.8 58.1h1.1v1.1h-1.1zM310.2 72.8h1.1v1.1h-1.1zM310.1 60.8h1.1v1.1h-1.1zM309.3 63.7h1.1v1.1h-1.1zM311.4 71.8h1.1v1.1h-1.1zM308.8 64.4h1.1v1.1h-1.1zM305.3 74.4h1.1v1.1h-1.1zM303.4 72.7h1.1v1.1h-1.1zM310.7 66.9h1.1v1.1h-1.1zM321.0 67.0h1.1v1.1h-1.1zM318.6 55.3h1.1v1.1h-1.1zM296.4 76.8h1.1v1.1h-1.1zM311.3 66.5h1.1v1.1h-1.1zM306.8 58.2h1.1v1.1h-1.1zM304.1 63.7h1.1v1.1h-1.1zM307.3 74.2h1.1v1.1h-1.1zM308.5 71.0h1.1v1.1h-1.1zM304.1 67.2h1.1v1.1h-1.1zM308.5 67.2h1.1v1.1h-1.1zM314.4 62.7h1.1v1.1h-1.1zM317.8 61.5h1.1v1.1h-1.1zM313.4 63.5h1.1v1.1h-1.1zM317.0 68.1h1.1v1.1h-1.1zM310.6 72.8h1.1v1.1h-1.1zM304.1 63.6h1.1v1.1h-1.1zM297.7 77.9h1.1v1.1h-1.1zM304.0 66.3h1.1v1.1h-1.1zM308.9 80.3h1.1v1.1h-1.1zM298.8 72.1h1.1v1.1h-1.1zM306.2 72.4h1.1v1.1h-1.1zM298.1 68.5h1.1v1.1h-1.1zM313.4 77.0h1.1v1.1h-1.1zM316.2 62.5h1.1v1.1h-1.1zM308.3 68.3h1.1v1.1h-1.1zM299.9 62.1h1.1v1.1h-1.1zM312.3 69.6h1.1v1.1h-1.1zM307.9 76.0h1.1v1.1h-1.1zM302.9 73.0h1.1v1.1h-1.1zM308.1 68.6h1.1v1.1h-1.1zM310.8 69.5h1.1v1.1h-1.1zM309.6 70.2h1.1v1.1h-1.1zM318.4 65.2h1.1v1.1h-1.1zM313.8 71.4h1.1v1.1h-1.1zM306.6 73.8h1.1v1.1h-1.1zM304.0 76.4h1.1v1.1h-1.1zM303.4 67.0h1.1v1.1h-1.1zM310.2 73.4h1.1v1.1h-1.1zM313.4 73.1h1.1v1.1h-1.1zM306.5 63.7h1.1v1.1h-1.1zM311.2 70.1h1.1v1.1h-1.1zM303.4 75.5h1.1v1.1h-1.1zM308.6 63.3h1.1v1.1h-1.1zM309.8 61.0h1.1v1.1h-1.1zM303.5 72.1h1.1v1.1h-1.1zM299.7 70.7h1.1v1.1h-1.1zM301.1 74.5h1.1v1.1h-1.1zM304.2 70.7h1.1v1.1h-1.1zM299.8 68.5h1.1v1.1h-1.1zM313.4 70.6h1.1v1.1h-1.1zM298.6 76.1h1.1v1.1h-1.1zM312.7 65.9h1.1v1.1h-1.1zM315.2 61.5h1.1v1.1h-1.1zM308.1 75.4h1.1v1.1h-1.1zM315.8 74.9h1.1v1.1h-1.1zM301.3 59.9h1.1v1.1h-1.1zM309.4 60.4h1.1v1.1h-1.1zM306.7 61.8h1.1v1.1h-1.1zM314.2 72.5h1.1v1.1h-1.1zM311.1 68.5h1.1v1.1h-1.1zM308.1 67.2h1.1v1.1h-1.1zM310.2 70.0h1.1v1.1h-1.1zM310.3 66.0h1.1v1.1h-1.1zM318.4 68.7h1.1v1.1h-1.1zM316.2 75.1h1.1v1.1h-1.1zM302.5 60.2h1.1v1.1h-1.1zM314.6 65.5h1.1v1.1h-1.1zM308.4 67.4h1.1v1.1h-1.1zM308.2 62.0h1.1v1.1h-1.1zM307.3 66.4h1.1v1.1h-1.1zM306.8 55.7h1.1v1.1h-1.1zM312.6 70.0h1.1v1.1h-1.1zM298.4 66.5h1.1v1.1h-1.1zM308.5 72.5h1.1v1.1h-1.1zM308.7 76.8h1.1v1.1h-1.1zM307.7 63.2h1.1v1.1h-1.1zM304.8 73.9h1.1v1.1h-1.1zM305.2 74.4h1.1v1.1h-1.1zM313.9 71.3h1.1v1.1h-1.1zM313.5 66.9h1.1v1.1h-1.1zM307.7 65.6h1.1v1.1h-1.1zM304.0 60.6h1.1v1.1h-1.1zM304.5 63.4h1.1v1.1h-1.1zM300.4 71.2h1.1v1.1h-1.1zM310.3 66.5h1.1v1.1h-1.1zM315.9 72.9h1.1v1.1h-1.1zM313.4 64.5h1.1v1.1h-1.1zM300.3 73.6h1.1v1.1h-1.1zM310.1 72.8h1.1v1.1h-1.1zM310.9 75.7h1.1v1.1h-1.1zM306.8 73.0h1.1v1.1h-1.1zM302.1 56.7h1.1v1.1h-1.1zM306.4 77.9h1.1v1.1h-1.1zM299.5 76.4h1.1v1.1h-1.1zM304.2 67.4h1.1v1.1h-1.1zM308.4 70.1h1.1v1.1h-1.1zM302.9 70.6h1.1v1.1h-1.1zM310.9 73.3h1.1v1.1h-1.1zM304.8 78.5h1.1v1.1h-1.1zM319.6 80.8h1.1v1.1h-1.1zM300.9 71.3h1.1v1.1h-1.1zM298.2 73.0h1.1v1.1h-1.1zM310.5 61.8h1.1v1.1h-1.1zM299.6 71.6h1.1v1.1h-1.1zM311.0 63.8h1.1v1.1h-1.1zM305.4 54.8h1.1v1.1h-1.1zM304.3 70.5h1.1v1.1h-1.1zM309.7 77.8h1.1v1.1h-1.1zM300.8 57.3h1.1v1.1h-1.1zM310.2 65.1h1.1v1.1h-1.1zM310.0 72.8h1.1v1.1h-1.1zM312.0 76.6h1.1v1.1h-1.1zM314.5 58.1h1.1v1.1h-1.1zM308.7 80.4h1.1v1.1h-1.1zM306.3 74.9h1.1v1.1h-1.1zM307.5 66.6h1.1v1.1h-1.1zM317.1 73.3h1.1v1.1h-1.1zM307.2 74.4h1.1v1.1h-1.1zM300.6 66.1h1.1v1.1h-1.1zM312.9 68.3h1.1v1.1h-1.1zM302.5 72.6h1.1v1.1h-1.1zM310.5 75.9h1.1v1.1h-1.1zM313.1 66.4h1.1v1.1h-1.1zM305.4 68.6h1.1v1.1h-1.1zM307.5 77.5h1.1v1.1h-1.1zM317.3 75.1h1.1v1.1h-1.1zM310.0 67.2h1.1v1.1h-1.1zM312.8 66.1h1.1v1.1h-1.1zM308.5 59.2h1.1v1.1h-1.1zM306.5 77.6h1.1v1.1h-1.1zM301.8 61.5h1.1v1.1h-1.1zM308.0 78.6h1.1v1.1h-1.1zM315.7 65.4h1.1v1.1h-1.1zM305.4 68.8h1.1v1.1h-1.1zM303.0 70.1h1.1v1.1h-1.1zM305.7 60.8h1.1v1.1h-1.1zM304.8 68.1h1.1v1.1h-1.1zM302.8 63.4h1.1v1.1h-1.1zM313.9 78.9h1.1v1.1h-1.1zM306.3 66.8h1.1v1.1h-1.1zM310.6 67.1h1.1v1.1h-1.1zM304.5 77.7h1.1v1.1h-1.1zM302.1 65.8h1.1v1.1h-1.1zM304.0 64.6h1.1v1.1h-1.1zM307.1 72.5h1.1v1.1h-1.1zM316.2 71.3h1.1v1.1h-1.1zM307.6 61.8h1.1v1.1h-1.1zM307.2 63.6h1.1v1.1h-1.1zM308.0 74.6h1.1v1.1h-1.1zM309.0 67.5h1.1v1.1h-1.1zM304.0 69.6h1.1v1.1h-1.1zM308.2 63.5h1.1v1.1h-1.1zM305.8 74.5h1.1v1.1h-1.1zM298.9 68.1h1.1v1.1h-1.1zM302.5 78.9h1.1v1.1h-1.1zM311.6 71.3h1.1v1.1h-1.1zM310.3 70.2h1.1v1.1h-1.1zM308.8 59.6h1.1v1.1h-1.1zM309.7 72.1h1.1v1.1h-1.1zM300.8 75.1h1.1v1.1h-1.1zM310.9 59.6h1.1v1.1h-1.1zM305.4 67.7h1.1v1.1h-1.1zM305.4 71.7h1.1v1.1h-1.1zM301.0 69.0h1.1v1.1h-1.1zM309.6 72.9h1.1v1.1h-1.1zM308.2 67.5h1.1v1.1h-1.1zM310.8 56.9h1.1v1.1h-1.1zM312.9 66.3h1.1v1.1h-1.1zM301.1 67.8h1.1v1.1h-1.1zM297.1 59.1h1.1v1.1h-1.1zM305.9 64.8h1.1v1.1h-1.1zM311.6 63.2h1.1v1.1h-1.1zM300.6 64.8h1.1v1.1h-1.1zM317.3 67.4h1.1v1.1h-1.1zM304.3 63.9h1.1v1.1h-1.1zM302.0 69.1h1.1v1.1h-1.1zM310.9 75.1h1.1v1.1h-1.1zM314.4 69.4h1.1v1.1h-1.1zM304.1 64.7h1.1v1.1h-1.1zM295.0 65.5h1.1v1.1h-1.1zM310.2 66.6h1.1v1.1h-1.1zM309.4 60.9h1.1v1.1h-1.1zM313.0 69.7h1.1v1.1h-1.1zM308.5 71.2h1.1v1.1h-1.1zM295.7 68.0h1.1v1.1h-1.1zM304.1 80.2h1.1v1.1h-1.1zM306.8 66.3h1.1v1.1h-1.1zM312.1 62.1h1.1v1.1h-1.1zM315.4 63.5h1.1v1.1h-1.1zM307.3 63.8h1.1v1.1h-1.1zM311.3 55.8h1.1v1.1h-1.1zM311.4 63.6h1.1v1.1h-1.1zM307.7 62.3h1.1v1.1h-1.1zM309.4 69.8h1.1v1.1h-1.1zM311.4 70.2h1.1v1.1h-1.1zM311.9 74.0h1.1v1.1h-1.1zM305.4 62.6h1.1v1.1h-1.1zM301.5 74.1h1.1v1.1h-1.1zM306.5 75.3h1.1v1.1h-1.1zM307.8 63.1h1.1v1.1h-1.1zM313.9 79.1h1.1v1.1h-1.1zM306.6 63.8h1.1v1.1h-1.1zM303.9 74.9h1.1v1.1h-1.1zM304.7 67.2h1.1v1.1h-1.1zM311.8 68.3h1.1v1.1h-1.1zM308.4 65.7h1.1v1.1h-1.1zM304.7 70.5h1.1v1.1h-1.1zM309.2 72.2h1.1v1.1h-1.1zM305.5 71.4h1.1v1.1h-1.1zM310.7 68.9h1.1v1.1h-1.1zM311.6 74.1h1.1v1.1h-1.1zM309.2 69.2h1.1v1.1h-1.1zM303.0 71.8h1.1v1.1h-1.1zM307.4 67.3h1.1v1.1h-1.1zM303.9 73.0h1.1v1.1h-1.1zM322.1 68.9h1.1v1.1h-1.1zM308.7 71.4h1.1v1.1h-1.1zM304.9 70.1h1.1v1.1h-1.1zM304.2 66.0h1.1v1.1h-1.1zM309.4 70.0h1.1v1.1h-1.1zM307.0 64.5h1.1v1.1h-1.1zM308.9 62.5h1.1v1.1h-1.1zM312.0 66.2h1.1v1.1h-1.1zM308.4 73.4h1.1v1.1h-1.1zM310.4 61.0h1.1v1.1h-1.1zM306.9 71.3h1.1v1.1h-1.1zM301.0 56.3h1.1v1.1h-1.1zM307.6 68.8h1.1v1.1h-1.1zM310.4 69.0h1.1v1.1h-1.1zM308.9 70.2h1.1v1.1h-1.1zM315.7 70.3h1.1v1.1h-1.1zM310.8 66.2h1.1v1.1h-1.1zM314.0 66.8h1.1v1.1h-1.1zM311.0 56.2h1.1v1.1h-1.1zM309.3 68.2h1.1v1.1h-1.1zM306.2 76.7h1.1v1.1h-1.1zM310.2 67.7h1.1v1.1h-1.1zM306.2 80.2h1.1v1.1h-1.1zM312.4 71.9h1.1v1.1h-1.1zM304.6 77.1h1.1v1.1h-1.1zM310.9 66.9h1.1v1.1h-1.1zM306.7 59.8h1.1v1.1h-1.1zM311.0 62.1h1.1v1.1h-1.1zM312.4 65.6h1.1v1.1h-1.1zM304.9 71.7h1.1v1.1h-1.1zM308.6 62.3h1.1v1.1h-1.1zM308.0 72.5h1.1v1.1h-1.1zM306.0 61.6h1.1v1.1h-1.1zM306.3 63.7h1.1v1.1h-1.1zM305.0 69.8h1.1v1.1h-1.1zM307.7 67.8h1.1v1.1h-1.1zM299.3 72.6h1.1v1.1h-1.1zM306.8 66.8h1.1v1.1h-1.1zM309.8 79.7h1.1v1.1h-1.1zM300.3 61.1h1.1v1.1h-1.1zM311.8 63.7h1.1v1.1h-1.1zM314.6 62.1h1.1v1.1h-1.1zM305.9 74.2h1.1v1.1h-1.1zM313.2 70.6h1.1v1.1h-1.1zM310.4 67.8h1.1v1.1h-1.1zM305.6 68.2h1.1v1.1h-1.1zM315.2 71.7h1.1v1.1h-1.1zM308.3 70.7h1.1v1.1h-1.1zM313.1 74.8h1.1v1.1h-1.1zM307.3 68.6h1.1v1.1h-1.1zM311.1 83.4h1.1v1.1h-1.1zM310.0 75.9h1.1v1.1h-1.1zM300.2 75.3h1.1v1.1h-1.1zM300.0 64.2h1.1v1.1h-1.1zM304.6 68.8h1.1v1.1h-1.1zM309.2 70.9h1.1v1.1h-1.1zM309.0 66.2h1.1v1.1h-1.1zM322.2 68.6h1.1v1.1h-1.1zM312.6 79.7h1.1v1.1h-1.1zM313.5 71.3h1.1v1.1h-1.1zM310.7 79.2h1.1v1.1h-1.1zM301.8 64.6h1.1v1.1h-1.1zM307.8 57.3h1.1v1.1h-1.1zM304.4 76.1h1.1v1.1h-1.1zM305.7 70.3h1.1v1.1h-1.1zM311.2 61.7h1.1v1.1h-1.1zM309.2 65.1h1.1v1.1h-1.1zM302.1 68.5h1.1v1.1h-1.1zM307.6 66.7h1.1v1.1h-1.1zM305.0 75.0h1.1v1.1h-1.1zM314.5 70.9h1.1v1.1h-1.1zM307.0 63.1h1.1v1.1h-1.1zM303.1 63.5h1.1v1.1h-1.1zM309.6 73.9h1.1v1.1h-1.1zM312.9 67.9h1.1v1.1h-1.1zM306.1 70.3h1.1v1.1h-1.1zM309.0 72.2h1.1v1.1h-1.1zM315.6 63.6h1.1v1.1h-1.1zM318.2 55.0h1.1v1.1h-1.1zM297.8 62.2h1.1v1.1h-1.1zM302.5 68.6h1.1v1.1h-1.1zM318.8 63.0h1.1v1.1h-1.1zM313.8 65.8h1.1v1.1h-1.1zM308.4 63.0h1.1v1.1h-1.1zM320.2 66.5h1.1v1.1h-1.1zM305.9 82.4h1.1v1.1h-1.1zM309.2 71.1h1.1v1.1h-1.1zM306.9 64.4h1.1v1.1h-1.1zM300.3 69.4h1.1v1.1h-1.1zM316.9 69.7h1.1v1.1h-1.1zM307.6 75.1h1.1v1.1h-1.1zM303.7 77.6h1.1v1.1h-1.1zM307.5 64.3h1.1v1.1h-1.1zM311.9 71.2h1.1v1.1h-1.1zM306.3 70.5h1.1v1.1h-1.1zM314.0 75.9h1.1v1.1h-1.1zM302.2 54.9h1.1v1.1h-1.1zM318.9 65.4h1.1v1.1h-1.1zM306.0 71.8h1.1v1.1h-1.1zM306.3 75.3h1.1v1.1h-1.1zM301.3 69.0h1.1v1.1h-1.1zM302.1 78.8h1.1v1.1h-1.1zM307.3 75.4h1.1v1.1h-1.1zM314.9 60.8h1.1v1.1h-1.1zM307.2 73.2h1.1v1.1h-1.1zM308.3 68.1h1.1v1.1h-1.1zM313.0 73.3h1.1v1.1h-1.1zM304.8 68.8h1.1v1.1h-1.1zM311.6 69.5h1.1v1.1h-1.1zM308.3 62.5h1.1v1.1h-1.1zM317.3 65.9h1.1v1.1h-1.1zM309.5 68.5h1.1v1.1h-1.1zM308.5 69.7h1.1v1.1h-1.1zM303.8 71.9h1.1v1.1h-1.1zM314.7 70.0h1.1v1.1h-1.1zM312.2 71.0h1.1v1.1h-1.1zM309.1 79.2h1.1v1.1h-1.1zM304.6 71.8h1.1v1.1h-1.1zM313.7 69.6h1.1v1.1h-1.1zM301.9 63.9h1.1v1.1h-1.1zM315.9 62.0h1.1v1.1h-1.1zM308.4 72.0h1.1v1.1h-1.1zM307.7 58.8h1.1v1.1h-1.1zM297.8 70.2h1.1v1.1h-1.1zM303.8 68.2h1.1v1.1h-1.1zM308.6 69.8h1.1v1.1h-1.1zM300.1 60.8h1.1v1.1h-1.1zM312.8 64.5h1.1v1.1h-1.1zM300.8 58.8h1.1v1.1h-1.1zM310.3 61.3h1.1v1.1h-1.1zM302.8 73.5h1.1v1.1h-1.1zM310.0 71.8h1.1v1.1h-1.1zM299.8 54.0h1.1v1.1h-1.1zM302.6 68.2h1.1v1.1h-1.1zM304.9 74.6h1.1v1.1h-1.1zM309.5 62.7h1.1v1.1h-1.1zM311.0 67.5h1.1v1.1h-1.1zM306.0 75.8h1.1v1.1h-1.1zM299.6 76.5h1.1v1.1h-1.1zM312.9 56.2h1.1v1.1h-1.1zM306.9 68.2h1.1v1.1h-1.1zM301.7 66.8h1.1v1.1h-1.1zM303.7 70.1h1.1v1.1h-1.1zM304.0 57.4h1.1v1.1h-1.1zM314.9 72.8h1.1v1.1h-1.1zM304.0 74.7h1.1v1.1h-1.1zM318.2 58.1h1.1v1.1h-1.1zM305.6 66.4h1.1v1.1h-1.1zM310.9 66.7h1.1v1.1h-1.1zM301.1 77.5h1.1v1.1h-1.1zM306.7 73.4h1.1v1.1h-1.1zM320.0 62.4h1.1v1.1h-1.1zM306.3 74.5h1.1v1.1h-1.1zM307.7 72.0h1.1v1.1h-1.1zM309.4 84.9h1.1v1.1h-1.1zM311.7 70.3h1.1v1.1h-1.1zM308.9 71.0h1.1v1.1h-1.1zM299.1 69.0h1.1v1.1h-1.1zM311.5 61.4h1.1v1.1h-1.1zM308.2 68.4h1.1v1.1h-1.1zM306.5 83.7h1.1v1.1h-1.1zM312.1 70.1h1.1v1.1h-1.1zM303.9 70.2h1.1v1.1h-1.1zM306.4 68.7h1.1v1.1h-1.1zM310.5 83.0h1.1v1.1h-1.1zM316.1 77.4h1.1v1.1h-1.1zM316.9 83.7h1.1v1.1h-1.1zM303.9 62.3h1.1v1.1h-1.1zM309.3 70.2h1.1v1.1h-1.1zM307.9 65.4h1.1v1.1h-1.1zM312.6 78.1h1.1v1.1h-1.1zM309.1 67.5h1.1v1.1h-1.1zM314.4 66.0h1.1v1.1h-1.1zM306.3 71.1h1.1v1.1h-1.1zM296.7 82.0h1.1v1.1h-1.1zM307.8 72.0h1.1v1.1h-1.1zM310.0 71.0h1.1v1.1h-1.1zM301.7 80.4h1.1v1.1h-1.1zM311.3 70.1h1.1v1.1h-1.1zM324.5 58.6h1.1v1.1h-1.1zM312.0 67.7h1.1v1.1h-1.1zM300.9 81.5h1.1v1.1h-1.1zM299.7 71.3h1.1v1.1h-1.1zM307.7 70.1h1.1v1.1h-1.1zM303.7 77.7h1.1v1.1h-1.1zM308.8 61.4h1.1v1.1h-1.1zM301.6 71.7h1.1v1.1h-1.1zM302.0 72.6h1.1v1.1h-1.1zM309.6 65.3h1.1v1.1h-1.1zM297.0 63.5h1.1v1.1h-1.1zM309.8 65.7h1.1v1.1h-1.1zM317.9 64.6h1.1v1.1h-1.1zM310.5 72.5h1.1v1.1h-1.1zM308.7 70.7h1.1v1.1h-1.1zM313.5 67.1h1.1v1.1h-1.1zM309.7 66.6h1.1v1.1h-1.1zM319.0 67.9h1.1v1.1h-1.1zM311.1 51.2h1.1v1.1h-1.1zM304.9 63.0h1.1v1.1h-1.1zM308.1 66.4h1.1v1.1h-1.1zM302.3 68.5h1.1v1.1h-1.1zM313.0 74.3h1.1v1.1h-1.1zM305.7 75.5h1.1v1.1h-1.1zM305.1 73.1h1.1v1.1h-1.1zM304.0 75.8h1.1v1.1h-1.1zM320.5 65.0h1.1v1.1h-1.1zM314.0 59.5h1.1v1.1h-1.1zM306.0 84.8h1.1v1.1h-1.1zM308.0 71.9h1.1v1.1h-1.1zM299.3 70.5h1.1v1.1h-1.1zM304.4 76.6h1.1v1.1h-1.1zM306.5 84.1h1.1v1.1h-1.1zM302.3 71.9h1.1v1.1h-1.1zM297.1 68.7h1.1v1.1h-1.1zM314.6 67.1h1.1v1.1h-1.1zM301.3 73.1h1.1v1.1h-1.1zM313.4 70.5h1.1v1.1h-1.1zM312.7 59.9h1.1v1.1h-1.1zM318.3 71.2h1.1v1.1h-1.1zM297.6 81.8h1.1v1.1h-1.1zM305.8 72.4h1.1v1.1h-1.1zM297.1 67.4h1.1v1.1h-1.1zM298.6 75.6h1.1v1.1h-1.1zM306.4 63.9h1.1v1.1h-1.1zM306.6 75.7h1.1v1.1h-1.1zM304.1 73.0h1.1v1.1h-1.1zM300.8 60.7h1.1v1.1h-1.1zM305.3 67.8h1.1v1.1h-1.1zM309.5 74.2h1.1v1.1h-1.1zM305.6 67.3h1.1v1.1h-1.1zM312.4 70.6h1.1v1.1h-1.1zM307.9 70.4h1.1v1.1h-1.1zM296.0 68.0h1.1v1.1h-1.1zM299.2 68.6h1.1v1.1h-1.1zM312.1 58.5h1.1v1.1h-1.1zM312.7 64.8h1.1v1.1h-1.1zM306.7 66.5h1.1v1.1h-1.1zM311.6 64.4h1.1v1.1h-1.1zM297.0 72.9h1.1v1.1h-1.1zM307.6 72.7h1.1v1.1h-1.1zM310.7 61.5h1.1v1.1h-1.1zM309.2 69.4h1.1v1.1h-1.1zM307.7 69.6h1.1v1.1h-1.1zM309.5 65.5h1.1v1.1h-1.1zM307.7 74.7h1.1v1.1h-1.1zM302.3 69.6h1.1v1.1h-1.1zM302.0 63.9h1.1v1.1h-1.1zM305.9 70.4h1.1v1.1h-1.1zM316.2 66.3h1.1v1.1h-1.1zM313.4 71.1h1.1v1.1h-1.1zM306.9 51.2h1.1v1.1h-1.1zM308.8 69.1h1.1v1.1h-1.1zM302.5 70.7h1.1v1.1h-1.1zM315.4 60.9h1.1v1.1h-1.1zM305.7 74.6h1.1v1.1h-1.1zM297.8 64.9h1.1v1.1h-1.1zM310.1 74.1h1.1v1.1h-1.1zM315.0 72.0h1.1v1.1h-1.1zM320.7 68.9h1.1v1.1h-1.1zM301.0 69.1h1.1v1.1h-1.1zM311.6 70.4h1.1v1.1h-1.1zM297.8 73.1h1.1v1.1h-1.1zM303.7 68.6h1.1v1.1h-1.1zM315.9 66.5h1.1v1.1h-1.1zM304.4 68.9h1.1v1.1h-1.1zM305.6 81.3h1.1v1.1h-1.1zM313.0 73.3h1.1v1.1h-1.1zM304.0 66.0h1.1v1.1h-1.1zM308.3 56.3h1.1v1.1h-1.1zM312.9 60.6h1.1v1.1h-1.1zM308.8 70.8h1.1v1.1h-1.1zM304.0 71.8h1.1v1.1h-1.1zM312.8 79.1h1.1v1.1h-1.1zM311.1 78.9h1.1v1.1h-1.1zM310.5 67.4h1.1v1.1h-1.1zM312.4 65.1h1.1v1.1h-1.1zM309.2 72.4h1.1v1.1h-1.1zM314.4 69.4h1.1v1.1h-1.1zM300.8 77.8h1.1v1.1h-1.1zM308.8 67.1h1.1v1.1h-1.1zM304.0 73.0h1.1v1.1h-1.1zM310.2 72.5h1.1v1.1h-1.1zM308.1 77.8h1.1v1.1h-1.1zM306.8 71.5h1.1v1.1h-1.1zM309.7 74.8h1.1v1.1h-1.1zM304.2 67.9h1.1v1.1h-1.1zM306.5 65.4h1.1v1.1h-1.1zM303.9 62.7h1.1v1.1h-1.1zM312.8 76.7h1.1v1.1h-1.1zM303.1 74.3h1.1v1.1h-1.1zM301.4 65.5h1.1v1.1h-1.1zM306.4 70.0h1.1v1.1h-1.1zM309.5 57.5h1.1v1.1h-1.1zM301.0 70.7h1.1v1.1h-1.1zM307.8 81.3h1.1v1.1h-1.1zM306.2 65.5h1.1v1.1h-1.1zM313.2 52.6h1.1v1.1h-1.1zM299.3 86.3h1.1v1.1h-1.1zM304.7 70.0h1.1v1.1h-1.1zM306.6 64.1h1.1v1.1h-1.1zM306.6 61.6h1.1v1.1h-1.1zM313.6 72.4h1.1v1.1h-1.1zM311.2 63.0h1.1v1.1h-1.1zM297.4 68.1h1.1v1.1h-1.1zM302.3 72.2h1.1v1.1h-1.1zM298.9 65.3h1.1v1.1h-1.1zM309.0 71.2h1.1v1.1h-1.1zM307.9 61.6h1.1v1.1h-1.1zM305.3 81.0h1.1v1.1h-1.1zM312.7 63.3h1.1v1.1h-1.1zM318.2 66.3h1.1v1.1h-1.1zM307.6 64.2h1.1v1.1h-1.1zM316.2 68.0h1.1v1.1h-1.1zM307.1 63.8h1.1v1.1h-1.1zM301.2 71.2h1.1v1.1h-1.1zM308.8 77.8h1.1v1.1h-1.1zM302.9 67.7h1.1v1.1h-1.1zM313.8 72.6h1.1v1.1h-1.1zM305.1 77.9h1.1v1.1h-1.1zM311.0 73.5h1.1v1.1h-1.1zM310.4 74.1h1.1v1.1h-1.1zM305.7 68.1h1.1v1.1h-1.1zM314.1 70.1h1.1v1.1h-1.1zM310.5 75.0h1.1v1.1h-1.1zM309.5 71.0h1.1v1.1h-1.1zM295.9 68.1h1.1v1.1h-1.1zM312.0 63.1h1.1v1.1h-1.1zM306.6 70.5h1.1v1.1h-1.1zM307.7 74.0h1.1v1.1h-1.1zM310.5 67.5h1.1v1.1h-1.1zM313.7 65.8h1.1v1.1h-1.1zM304.4 71.5h1.1v1.1h-1.1zM311.3 67.5h1.1v1.1h-1.1zM302.0 67.1h1.1v1.1h-1.1zM309.6 72.6h1.1v1.1h-1.1zM317.5 66.3h1.1v1.1h-1.1zM305.8 56.9h1.1v1.1h-1.1zM315.4 72.8h1.1v1.1h-1.1zM307.7 64.9h1.1v1.1h-1.1zM294.3 75.7h1.1v1.1h-1.1zM304.6 78.3h1.1v1.1h-1.1zM312.8 75.5h1.1v1.1h-1.1zM307.9 75.8h1.1v1.1h-1.1zM301.2 78.6h1.1v1.1h-1.1zM307.3 62.2h1.1v1.1h-1.1zM305.4 63.8h1.1v1.1h-1.1zM309.1 64.5h1.1v1.1h-1.1zM301.0 68.2h1.1v1.1h-1.1zM306.9 70.3h1.1v1.1h-1.1zM312.4 75.4h1.1v1.1h-1.1zM311.1 77.9h1.1v1.1h-1.1zM294.7 71.0h1.1v1.1h-1.1zM312.4 60.5h1.1v1.1h-1.1zM307.0 70.4h1.1v1.1h-1.1zM299.4 67.2h1.1v1.1h-1.1zM311.1 66.5h1.1v1.1h-1.1zM317.5 80.8h1.1v1.1h-1.1zM307.1 62.5h1.1v1.1h-1.1zM307.5 65.8h1.1v1.1h-1.1zM300.1 68.1h1.1v1.1h-1.1zM305.3 67.4h1.1v1.1h-1.1zM313.5 74.1h1.1v1.1h-1.1zM310.1 66.5h1.1v1.1h-1.1zM310.3 68.6h1.1v1.1h-1.1zM308.7 63.2h1.1v1.1h-1.1zM291.9 77.0h1.1v1.1h-1.1zM304.6 66.7h1.1v1.1h-1.1zM307.9 68.6h1.1v1.1h-1.1zM307.2 77.9h1.1v1.1h-1.1zM308.8 70.1h1.1v1.1h-1.1zM303.2 69.3h1.1v1.1h-1.1zM310.5 68.0h1.1v1.1h-1.1zM309.3 63.3h1.1v1.1h-1.1zM309.5 62.8h1.1v1.1h-1.1zM305.3 65.0h1.1v1.1h-1.1zM309.5 75.0h1.1v1.1h-1.1zM309.2 63.7h1.1v1.1h-1.1zM309.3 74.7h1.1v1.1h-1.1zM312.2 71.0h1.1v1.1h-1.1zM301.7 66.9h1.1v1.1h-1.1zM304.2 66.9h1.1v1.1h-1.1zM309.3 68.9h1.1v1.1h-1.1zM306.4 72.5h1.1v1.1h-1.1zM304.0 67.8h1.1v1.1h-1.1zM307.9 61.1h1.1v1.1h-1.1zM302.7 61.9h1.1v1.1h-1.1zM302.3 69.2h1.1v1.1h-1.1zM307.5 71.0h1.1v1.1h-1.1zM309.2 62.2h1.1v1.1h-1.1zM318.7 74.7h1.1v1.1h-1.1zM301.1 66.2h1.1v1.1h-1.1zM305.5 70.5h1.1v1.1h-1.1zM311.3 68.3h1.1v1.1h-1.1zM295.7 87.7h1.1v1.1h-1.1zM313.0 72.8h1.1v1.1h-1.1zM304.1 70.2h1.1v1.1h-1.1zM312.8 65.3h1.1v1.1h-1.1zM314.2 68.3h1.1v1.1h-1.1zM316.5 67.6h1.1v1.1h-1.1zM315.2 58.4h1.1v1.1h-1.1zM316.0 70.1h1.1v1.1h-1.1zM306.5 75.4h1.1v1.1h-1.1zM307.0 73.8h1.1v1.1h-1.1zM313.7 73.9h1.1v1.1h-1.1zM320.6 74.5h1.1v1.1h-1.1zM321.8 70.5h1.1v1.1h-1.1zM309.1 71.0h1.1v1.1h-1.1zM307.2 62.0h1.1v1.1h-1.1zM308.2 62.1h1.1v1.1h-1.1zM306.4 67.5h1.1v1.1h-1.1zM304.5 63.4h1.1v1.1h-1.1zM308.6 68.7h1.1v1.1h-1.1zM315.7 71.1h1.1v1.1h-1.1zM312.9 65.3h1.1v1.1h-1.1zM305.7 62.2h1.1v1.1h-1.1zM303.7 73.9h1.1v1.1h-1.1zM306.9 68.3h1.1v1.1h-1.1zM305.8 78.3h1.1v1.1h-1.1zM308.3 75.5h1.1v1.1h-1.1zM308.3 74.3h1.1v1.1h-1.1zM302.2 62.3h1.1v1.1h-1.1zM313.8 66.1h1.1v1.1h-1.1zM309.9 73.6h1.1v1.1h-1.1zM311.9 69.8h1.1v1.1h-1.1zM301.3 66.2h1.1v1.1h-1.1zM308.5 72.5h1.1v1.1h-1.1zM311.0 70.5h1.1v1.1h-1.1zM303.9 69.7h1.1v1.1h-1.1zM312.8 63.1h1.1v1.1h-1.1zM305.4 74.6h1.1v1.1h-1.1zM316.8 69.7h1.1v1.1h-1.1zM307.6 63.5h1.1v1.1h-1.1zM307.0 64.6h1.1v1.1h-1.1zM309.1 72.8h1.1v1.1h-1.1zM311.1 75.8h1.1v1.1h-1.1zM302.0 62.8h1.1v1.1h-1.1zM315.9 73.5h1.1v1.1h-1.1zM302.9 70.7h1.1v1.1h-1.1zM302.3 69.9h1.1v1.1h-1.1zM310.2 74.1h1.1v1.1h-1.1zM302.2 62.7h1.1v1.1h-1.1zM310.9 66.5h1.1v1.1h-1.1zM315.0 61.1h1.1v1.1h-1.1zM303.2 54.1h1.1v1.1h-1.1zM314.8 75.3h1.1v1.1h-1.1zM310.1 66.8h1.1v1.1h-1.1zM296.5 63.2h1.1v1.1h-1.1zM306.2 80.3h1.1v1.1h-1.1zM312.6 64.7h1.1v1.1h-1.1zM310.6 71.7h1.1v1.1h-1.1zM310.3 63.2h1.1v1.1h-1.1zM306.2 75.0h1.1v1.1h-1.1zM311.6 66.4h1.1v1.1h-1.1zM321.3 68.1h1.1v1.1h-1.1zM306.3 74.5h1.1v1.1h-1.1zM312.3 67.4h1.1v1.1h-1.1zM318.3 73.3h1.1v1.1h-1.1zM308.6 73.0h1.1v1.1h-1.1zM311.5 66.7h1.1v1.1h-1.1zM311.7 65.2h1.1v1.1h-1.1zM307.1 72.9h1.1v1.1h-1.1zM301.2 68.3h1.1v1.1h-1.1zM303.2 73.9h1.1v1.1h-1.1zM305.9 79.9h1.1v1.1h-1.1zM316.0 63.6h1.1v1.1h-1.1zM308.8 66.8h1.1v1.1h-1.1zM308.4 72.8h1.1v1.1h-1.1zM317.1 79.9h1.1v1.1h-1.1zM317.3 60.0h1.1v1.1h-1.1zM305.4 68.4h1.1v1.1h-1.1zM306.5 70.1h1.1v1.1h-1.1zM311.3 65.8h1.1v1.1h-1.1zM306.1 82.9h1.1v1.1h-1.1zM312.9 80.5h1.1v1.1h-1.1zM305.7 77.3h1.1v1.1h-1.1zM317.8 74.8h1.1v1.1h-1.1zM304.3 72.8h1.1v1.1h-1.1zM303.4 63.4h1.1v1.1h-1.1zM308.3 71.9h1.1v1.1h-1.1zM306.9 68.6h1.1v1.1h-1.1zM311.1 64.5h1.1v1.1h-1.1zM310.8 73.0h1.1v1.1h-1.1zM311.9 71.6h1.1v1.1h-1.1zM302.6 68.4h1.1v1.1h-1.1zM306.1 73.4h1.1v1.1h-1.1zM298.8 71.5h1.1v1.1h-1.1zM299.8 74.2h1.1v1.1h-1.1zM305.4 69.8h1.1v1.1h-1.1zM313.9 77.7h1.1v1.1h-1.1zM302.9 70.6h1.1v1.1h-1.1zM297.6 69.8h1.1v1.1h-1.1zM304.8 73.4h1.1v1.1h-1.1zM307.6 69.7h1.1v1.1h-1.1zM302.0 68.2h1.1v1.1h-1.1zM302.1 70.2h1.1v1.1h-1.1zM299.8 72.1h1.1v1.1h-1.1zM315.3 82.7h1.1v1.1h-1.1zM316.9 75.0h1.1v1.1h-1.1zM313.2 77.2h1.1v1.1h-1.1zM308.1 71.3h1.1v1.1h-1.1zM297.8 68.0h1.1v1.1h-1.1zM313.4 58.2h1.1v1.1h-1.1zM309.8 68.4h1.1v1.1h-1.1zM306.4 71.2h1.1v1.1h-1.1zM307.7 62.7h1.1v1.1h-1.1zM306.8 58.9h1.1v1.1h-1.1zM316.2 67.4h1.1v1.1h-1.1zM312.4 63.0h1.1v1.1h-1.1zM318.5 72.9h1.1v1.1h-1.1zM310.1 69.9h1.1v1.1h-1.1zM309.8 64.5h1.1v1.1h-1.1zM307.3 67.9h1.1v1.1h-1.1zM310.9 77.3h1.1v1.1h-1.1zM314.5 69.4h1.1v1.1h-1.1zM311.4 66.8h1.1v1.1h-1.1zM304.8 60.4h1.1v1.1h-1.1zM300.8 63.5h1.1v1.1h-1.1zM307.7 68.1h1.1v1.1h-1.1zM311.0 75.1h1.1v1.1h-1.1zM311.7 67.5h1.1v1.1h-1.1zM305.5 67.8h1.1v1.1h-1.1zM311.0 63.3h1.1v1.1h-1.1zM300.0 69.3h1.1v1.1h-1.1zM314.4 74.9h1.1v1.1h-1.1zM310.4 57.6h1.1v1.1h-1.1zM307.6 73.2h1.1v1.1h-1.1zM314.9 78.4h1.1v1.1h-1.1zM303.3 72.0h1.1v1.1h-1.1zM299.7 69.4h1.1v1.1h-1.1zM306.4 74.0h1.1v1.1h-1.1zM308.1 59.0h1.1v1.1h-1.1zM307.6 71.2h1.1v1.1h-1.1zM315.6 63.5h1.1v1.1h-1.1zM303.2 66.6h1.1v1.1h-1.1zM313.5 66.4h1.1v1.1h-1.1zM308.8 71.4h1.1v1.1h-1.1zM304.3 76.0h1.1v1.1h-1.1zM300.3 80.9h1.1v1.1h-1.1zM304.1 64.5h1.1v1.1h-1.1zM303.6 63.1h1.1v1.1h-1.1zM303.0 65.3h1.1v1.1h-1.1zM301.8 69.1h1.1v1.1h-1.1zM309.5 65.4h1.1v1.1h-1.1zM308.6 64.1h1.1v1.1h-1.1zM309.1 66.9h1.1v1.1h-1.1zM302.3 70.6h1.1v1.1h-1.1zM306.9 65.4h1.1v1.1h-1.1zM308.1 72.0h1.1v1.1h-1.1zM301.2 67.4h1.1v1.1h-1.1zM311.4 68.3h1.1v1.1h-1.1zM313.5 81.8h1.1v1.1h-1.1zM301.5 72.2h1.1v1.1h-1.1zM306.8 77.4h1.1v1.1h-1.1zM310.5 60.5h1.1v1.1h-1.1zM313.9 67.9h1.1v1.1h-1.1zM306.4 69.4h1.1v1.1h-1.1zM308.8 63.9h1.1v1.1h-1.1zM306.7 77.0h1.1v1.1h-1.1zM302.3 66.6h1.1v1.1h-1.1zM311.7 62.9h1.1v1.1h-1.1zM307.1 70.9h1.1v1.1h-1.1zM303.0 68.1h1.1v1.1h-1.1zM303.1 68.6h1.1v1.1h-1.1zM309.6 68.7h1.1v1.1h-1.1zM309.5 70.8h1.1v1.1h-1.1zM311.8 62.1h1.1v1.1h-1.1zM309.4 77.8h1.1v1.1h-1.1zM306.6 67.7h1.1v1.1h-1.1zM307.7 64.8h1.1v1.1h-1.1zM311.0 68.3h1.1v1.1h-1.1zM307.5 73.3h1.1v1.1h-1.1zM313.8 59.7h1.1v1.1h-1.1zM305.2 67.9h1.1v1.1h-1.1zM300.8 74.2h1.1v1.1h-1.1zM319.8 71.4h1.1v1.1h-1.1zM313.9 56.6h1.1v1.1h-1.1zM305.0 61.9h1.1v1.1h-1.1zM312.2 67.5h1.1v1.1h-1.1zM307.3 71.9h1.1v1.1h-1.1zM313.0 77.4h1.1v1.1h-1.1zM315.9 72.9h1.1v1.1h-1.1zM299.9 77.7h1.1v1.1h-1.1zM307.8 60.2h1.1v1.1h-1.1zM308.8 67.4h1.1v1.1h-1.1zM308.0 74.5h1.1v1.1h-1.1zM301.1 73.9h1.1v1.1h-1.1zM313.9 61.3h1.1v1.1h-1.1zM315.2 63.7h1.1v1.1h-1.1zM304.5 75.0h1.1v1.1h-1.1zM307.0 58.5h1.1v1.1h-1.1zM304.9 73.5h1.1v1.1h-1.1zM304.9 66.8h1.1v1.1h-1.1zM308.1 68.9h1.1v1.1h-1.1zM303.9 64.3h1.1v1.1h-1.1zM311.0 75.5h1.1v1.1h-1.1zM294.6 73.8h1.1v1.1h-1.1zM313.0 62.9h1.1v1.1h-1.1zM315.0 59.0h1.1v1.1h-1.1zM314.0 77.2h1.1v1.1h-1.1zM315.0 52.3h1.1v1.1h-1.1zM307.9 63.2h1.1v1.1h-1.1zM310.9 76.5h1.1v1.1h-1.1zM311.1 77.8h1.1v1.1h-1.1zM298.6 65.8h1.1v1.1h-1.1zM305.5 73.3h1.1v1.1h-1.1zM314.2 63.0h1.1v1.1h-1.1zM303.5 74.9h1.1v1.1h-1.1zM301.2 73.5h1.1v1.1h-1.1zM303.6 69.3h1.1v1.1h-1.1zM319.1 65.4h1.1v1.1h-1.1zM307.9 64.3h1.1v1.1h-1.1zM311.8 77.1h1.1v1.1h-1.1zM310.8 60.9h1.1v1.1h-1.1zM310.8 77.4h1.1v1.1h-1.1zM302.8 69.1h1.1v1.1h-1.1zM302.8 66.6h1.1v1.1h-1.1zM302.0 62.3h1.1v1.1h-1.1zM310.6 68.2h1.1v1.1h-1.1zM295.8 65.2h1.1v1.1h-1.1zM303.6 63.4h1.1v1.1h-1.1zM308.8 67.7h1.1v1.1h-1.1zM309.4 60.9h1.1v1.1h-1.1zM303.8 67.2h1.1v1.1h-1.1zM305.8 67.3h1.1v1.1h-1.1zM303.9 69.0h1.1v1.1h-1.1zM316.5 63.0h1.1v1.1h-1.1zM299.3 72.2h1.1v1.1h-1.1zM303.5 74.5h1.1v1.1h-1.1zM314.5 77.5h1.1v1.1h-1.1zM308.0 59.2h1.1v1.1h-1.1zM317.2 72.6h1.1v1.1h-1.1zM315.0 68.2h1.1v1.1h-1.1zM306.2 69.5h1.1v1.1h-1.1zM298.6 76.4h1.1v1.1h-1.1zM304.4 66.1h1.1v1.1h-1.1zM309.6 63.7h1.1v1.1h-1.1zM312.1 64.7h1.1v1.1h-1.1zM321.4 73.7h1.1v1.1h-1.1zM311.9 70.1h1.1v1.1h-1.1zM308.2 66.1h1.1v1.1h-1.1zM297.5 67.8h1.1v1.1h-1.1zM303.6 66.9h1.1v1.1h-1.1zM307.6 58.2h1.1v1.1h-1.1zM301.1 66.4h1.1v1.1h-1.1zM306.1 74.6h1.1v1.1h-1.1zM322.4 65.5h1.1v1.1h-1.1zM311.6 68.3h1.1v1.1h-1.1zM310.4 78.7h1.1v1.1h-1.1zM309.3 72.1h1.1v1.1h-1.1zM308.1 65.4h1.1v1.1h-1.1zM313.9 67.0h1.1v1.1h-1.1zM315.5 61.2h1.1v1.1h-1.1zM311.4 78.1h1.1v1.1h-1.1zM304.9 71.6h1.1v1.1h-1.1zM316.3 70.0h1.1v1.1h-1.1zM303.6 67.9h1.1v1.1h-1.1zM309.5 65.3h1.1v1.1h-1.1zM306.0 70.2h1.1v1.1h-1.1zM302.3 79.7h1.1v1.1h-1.1zM304.9 69.5h1.1v1.1h-1.1zM309.4 77.0h1.1v1.1h-1.1zM307.1 81.0h1.1v1.1h-1.1zM318.5 71.3h1.1v1.1h-1.1zM300.2 62.9h1.1v1.1h-1.1zM307.0 70.9h1.1v1.1h-1.1zM312.2 75.4h1.1v1.1h-1.1zM310.7 68.9h1.1v1.1h-1.1zM309.3 57.1h1.1v1.1h-1.1zM313.7 59.2h1.1v1.1h-1.1zM297.3 66.9h1.1v1.1h-1.1zM305.2 62.5h1.1v1.1h-1.1zM307.0 69.7h1.1v1.1h-1.1zM311.7 70.6h1.1v1.1h-1.1zM305.5 70.1h1.1v1.1h-1.1zM314.9 66.3h1.1v1.1h-1.1zM306.3 57.1h1.1v1.1h-1.1zM310.8 80.4h1.1v1.1h-1.1zM312.1 67.0h1.1v1.1h-1.1zM315.5 74.9h1.1v1.1h-1.1zM314.9 61.1h1.1v1.1h-1.1zM302.3 74.3h1.1v1.1h-1.1zM311.3 71.1h1.1v1.1h-1.1zM300.7 75.0h1.1v1.1h-1.1zM319.2 73.9h1.1v1.1h-1.1zM322.3 69.2h1.1v1.1h-1.1zM309.8 79.3h1.1v1.1h-1.1zM312.5 55.0h1.1v1.1h-1.1zM300.0 72.1h1.1v1.1h-1.1zM306.3 79.9h1.1v1.1h-1.1zM317.4 74.8h1.1v1.1h-1.1zM306.3 68.1h1.1v1.1h-1.1zM312.3 66.3h1.1v1.1h-1.1zM312.0 70.1h1.1v1.1h-1.1zM312.4 68.9h1.1v1.1h-1.1zM302.6 53.2h1.1v1.1h-1.1zM300.1 62.1h1.1v1.1h-1.1zM311.1 60.1h1.1v1.1h-1.1zM305.2 72.4h1.1v1.1h-1.1zM312.4 74.2h1.1v1.1h-1.1zM311.4 77.5h1.1v1.1h-1.1zM305.6 76.3h1.1v1.1h-1.1zM300.6 68.0h1.1v1.1h-1.1zM310.7 72.2h1.1v1.1h-1.1zM306.3 65.6h1.1v1.1h-1.1zM300.3 57.2h1.1v1.1h-1.1zM298.3 80.2h1.1v1.1h-1.1zM297.5 61.7h1.1v1.1h-1.1zM299.0 69.0h1.1v1.1h-1.1zM306.3 65.8h1.1v1.1h-1.1zM300.9 69.4h1.1v1.1h-1.1zM300.5 72.3h1.1v1.1h-1.1zM315.7 62.0h1.1v1.1h-1.1zM308.9 65.8h1.1v1.1h-1.1zM305.2 61.7h1.1v1.1h-1.1zM308.4 68.7h1.1v1.1h-1.1zM316.1 81.4h1.1v1.1h-1.1zM302.7 76.4h1.1v1.1h-1.1zM303.2 66.7h1.1v1.1h-1.1zM301.9 72.9h1.1v1.1h-1.1zM314.6 67.1h1.1v1.1h-1.1zM308.8 64.0h1.1v1.1h-1.1zM305.6 61.7h1.1v1.1h-1.1zM306.6 57.3h1.1v1.1h-1.1zM321.0 73.8h1.1v1.1h-1.1zM304.6 66.7h1.1v1.1h-1.1zM305.7 70.0h1.1v1.1h-1.1zM310.2 79.5h1.1v1.1h-1.1zM304.5 58.3h1.1v1.1h-1.1zM309.6 71.0h1.1v1.1h-1.1zM303.9 74.4h1.1v1.1h-1.1zM306.5 64.5h1.1v1.1h-1.1zM306.8 61.5h1.1v1.1h-1.1zM306.6 79.1h1.1v1.1h-1.1zM314.8 71.2h1.1v1.1h-1.1zM308.8 70.4h1.1v1.1h-1.1zM301.7 71.1h1.1v1.1h-1.1zM303.8 66.1h1.1v1.1h-1.1zM316.2 63.1h1.1v1.1h-1.1zM308.4 69.4h1.1v1.1h-1.1zM313.3 66.5h1.1v1.1h-1.1zM310.9 70.6h1.1v1.1h-1.1zM306.7 65.8h1.1v1.1h-1.1zM302.9 76.1h1.1v1.1h-1.1zM303.9 76.5h1.1v1.1h-1.1zM316.9 64.0h1.1v1.1h-1.1zM302.3 64.2h1.1v1.1h-1.1zM305.9 77.1h1.1v1.1h-1.1zM303.3 63.6h1.1v1.1h-1.1zM299.1 71.2h1.1v1.1h-1.1zM311.2 77.1h1.1v1.1h-1.1zM309.5 68.5h1.1v1.1h-1.1zM309.3 85.6h1.1v1.1h-1.1zM317.2 72.6h1.1v1.1h-1.1zM306.2 68.2h1.1v1.1h-1.1zM307.5 68.5h1.1v1.1h-1.1zM310.4 64.5h1.1v1.1h-1.1zM317.8 61.5h1.1v1.1h-1.1zM312.0 72.7h1.1v1.1h-1.1zM314.0 75.8h1.1v1.1h-1.1zM309.9 69.9h1.1v1.1h-1.1zM316.7 75.0h1.1v1.1h-1.1zM308.6 74.0h1.1v1.1h-1.1zM301.8 72.5h1.1v1.1h-1.1zM297.5 78.2h1.1v1.1h-1.1zM305.2 75.0h1.1v1.1h-1.1zM310.4 65.2h1.1v1.1h-1.1zM313.6 77.7h1.1v1.1h-1.1zM304.4 80.8h1.1v1.1h-1.1zM309.9 63.6h1.1v1.1h-1.1zM307.0 71.5h1.1v1.1h-1.1zM311.8 63.8h1.1v1.1h-1.1zM306.5 72.3h1.1v1.1h-1.1zM310.7 80.1h1.1v1.1h-1.1zM313.2 73.4h1.1v1.1h-1.1zM303.0 64.9h1.1v1.1h-1.1zM302.6 69.9h1.1v1.1h-1.1zM312.5 78.2h1.1v1.1h-1.1zM313.2 63.5h1.1v1.1h-1.1zM309.0 81.5h1.1v1.1h-1.1zM309.3 72.1h1.1v1.1h-1.1zM300.2 62.6h1.1v1.1h-1.1zM305.6 68.2h1.1v1.1h-1.1zM311.1 67.9h1.1v1.1h-1.1zM300.4 84.7h1.1v1.1h-1.1zM309.6 59.3h1.1v1.1h-1.1zM317.9 72.3h1.1v1.1h-1.1zM307.5 69.6h1.1v1.1h-1.1zM310.0 55.6h1.1v1.1h-1.1zM313.9 69.7h1.1v1.1h-1.1zM311.7 65.2h1.1v1.1h-1.1zM305.8 78.9h1.1v1.1h-1.1zM290.9 79.5h1.1v1.1h-1.1zM313.9 58.9h1.1v1.1h-1.1zM306.8 65.5h1.1v1.1h-1.1zM304.7 62.5h1.1v1.1h-1.1zM301.2 71.0h1.1v1.1h-1.1zM307.1 72.7h1.1v1.1h-1.1zM312.2 65.3h1.1v1.1h-1.1zM320.5 76.4h1.1v1.1h-1.1zM299.9 69.9h1.1v1.1h-1.1zM306.7 72.0h1.1v1.1h-1.1zM303.8 79.3h1.1v1.1h-1.1zM307.4 81.7h1.1v1.1h-1.1zM305.2 81.1h1.1v1.1h-1.1zM311.1 74.1h1.1v1.1h-1.1zM310.4 70.9h1.1v1.1h-1.1zM302.9 69.1h1.1v1.1h-1.1zM304.3 68.7h1.1v1.1h-1.1zM306.7 73.9h1.1v1.1h-1.1zM309.7 67.2h1.1v1.1h-1.1zM299.4 76.3h1.1v1.1h-1.1zM304.2 67.7h1.1v1.1h-1.1zM310.6 68.4h1.1v1.1h-1.1zM308.8 69.6h1.1v1.1h-1.1zM298.5 75.0h1.1v1.1h-1.1zM307.6 73.7h1.1v1.1h-1.1zM308.5 66.6h1.1v1.1h-1.1zM316.1 68.4h1.1v1.1h-1.1zM314.0 71.6h1.1v1.1h-1.1zM313.1 74.2h1.1v1.1h-1.1zM311.1 63.3h1.1v1.1h-1.1zM307.6 77.0h1.1v1.1h-1.1zM307.3 67.2h1.1v1.1h-1.1zM308.9 74.4h1.1v1.1h-1.1zM303.7 69.6h1.1v1.1h-1.1zM305.5 65.7h1.1v1.1h-1.1zM311.9 65.2h1.1v1.1h-1.1zM308.6 71.1h1.1v1.1h-1.1zM310.9 71.3h1.1v1.1h-1.1zM311.9 64.2h1.1v1.1h-1.1zM295.7 76.4h1.1v1.1h-1.1zM316.9 65.3h1.1v1.1h-1.1zM308.8 74.0h1.1v1.1h-1.1zM303.9 69.6h1.1v1.1h-1.1zM306.2 72.6h1.1v1.1h-1.1zM309.4 78.3h1.1v1.1h-1.1zM303.1 66.1h1.1v1.1h-1.1zM300.8 71.7h1.1v1.1h-1.1zM307.5 67.9h1.1v1.1h-1.1zM310.9 63.0h1.1v1.1h-1.1zM301.7 82.4h1.1v1.1h-1.1zM307.8 63.6h1.1v1.1h-1.1zM313.9 68.8h1.1v1.1h-1.1zM303.4 71.9h1.1v1.1h-1.1zM314.2 72.2h1.1v1.1h-1.1zM308.6 78.7h1.1v1.1h-1.1zM303.6 68.9h1.1v1.1h-1.1zM310.3 62.9h1.1v1.1h-1.1zM312.0 70.6h1.1v1.1h-1.1zM313.6 69.9h1.1v1.1h-1.1zM318.2 59.6h1.1v1.1h-1.1zM306.0 66.6h1.1v1.1h-1.1zM308.6 72.7h1.1v1.1h-1.1zM303.2 75.8h1.1v1.1h-1.1zM314.3 68.7h1.1v1.1h-1.1zM301.3 74.0h1.1v1.1h-1.1zM310.1 63.4h1.1v1.1h-1.1zM304.4 66.9h1.1v1.1h-1.1zM300.9 72.6h1.1v1.1h-1.1zM314.4 70.0h1.1v1.1h-1.1zM304.6 69.5h1.1v1.1h-1.1zM309.1 79.6h1.1v1.1h-1.1zM306.3 72.4h1.1v1.1h-1.1zM307.2 76.0h1.1v1.1h-1.1zM304.3 72.8h1.1v1.1h-1.1zM306.7 72.8h1.1v1.1h-1.1zM300.7 70.1h1.1v1.1h-1.1zM314.5 71.9h1.1v1.1h-1.1zM304.0 84.7h1.1v1.1h-1.1zM310.6 67.3h1.1v1.1h-1.1zM306.0 64.3h1.1v1.1h-1.1zM317.1 74.9h1.1v1.1h-1.1zM315.5 62.0h1.1v1.1h-1.1zM297.3 58.8h1.1v1.1h-1.1zM300.2 67.4h1.1v1.1h-1.1zM301.1 60.8h1.1v1.1h-1.1zM310.6 64.6h1.1v1.1h-1.1zM310.4 75.5h1.1v1.1h-1.1zM303.5 66.9h1.1v1.1h-1.1zM314.0 59.2h1.1v1.1h-1.1zM304.9 62.9h1.1v1.1h-1.1zM306.5 65.6h1.1v1.1h-1.1zM308.8 66.0h1.1v1.1h-1.1zM313.9 63.2h1.1v1.1h-1.1zM307.8 72.7h1.1v1.1h-1.1zM302.8 66.1h1.1v1.1h-1.1zM307.0 66.7h1.1v1.1h-1.1zM311.7 63.9h1.1v1.1h-1.1zM300.1 73.9h1.1v1.1h-1.1zM303.1 66.0h1.1v1.1h-1.1zM307.0 75.4h1.1v1.1h-1.1zM312.2 69.1h1.1v1.1h-1.1zM309.1 66.2h1.1v1.1h-1.1zM317.5 73.0h1.1v1.1h-1.1zM303.8 74.8h1.1v1.1h-1.1zM300.3 65.6h1.1v1.1h-1.1zM305.0 78.5h1.1v1.1h-1.1zM318.5 67.1h1.1v1.1h-1.1zM305.9 76.9h1.1v1.1h-1.1zM305.9 78.4h1.1v1.1h-1.1zM303.3 75.3h1.1v1.1h-1.1zM304.5 79.5h1.1v1.1h-1.1zM308.3 65.1h1.1v1.1h-1.1zM307.4 55.2h1.1v1.1h-1.1zM308.7 72.6h1.1v1.1h-1.1zM320.1 60.5h1.1v1.1h-1.1zM315.1 74.9h1.1v1.1h-1.1zM311.7 66.3h1.1v1.1h-1.1zM308.5 64.1h1.1v1.1h-1.1zM309.0 62.1h1.1v1.1h-1.1zM305.3 70.0h1.1v1.1h-1.1zM302.6 62.6h1.1v1.1h-1.1zM307.8 70.7h1.1v1.1h-1.1zM311.8 70.7h1.1v1.1h-1.1zM316.9 67.1h1.1v1.1h-1.1zM314.7 61.9h1.1v1.1h-1.1zM312.0 72.5h1.1v1.1h-1.1zM317.8 63.6h1.1v1.1h-1.1zM318.0 66.5h1.1v1.1h-1.1zM305.0 60.0h1.1v1.1h-1.1zM312.7 65.0h1.1v1.1h-1.1zM312.7 69.1h1.1v1.1h-1.1zM312.4 68.5h1.1v1.1h-1.1zM304.2 67.2h1.1v1.1h-1.1zM308.3 71.5h1.1v1.1h-1.1zM304.4 75.0h1.1v1.1h-1.1zM296.5 63.6h1.1v1.1h-1.1zM312.0 70.1h1.1v1.1h-1.1zM319.6 73.0h1.1v1.1h-1.1zM302.2 63.8h1.1v1.1h-1.1zM308.2 68.6h1.1v1.1h-1.1zM311.8 65.3h1.1v1.1h-1.1zM303.9 65.5h1.1v1.1h-1.1zM307.5 64.1h1.1v1.1h-1.1zM307.7 73.3h1.1v1.1h-1.1zM306.6 62.9h1.1v1.1h-1.1zM311.3 72.8h1.1v1.1h-1.1zM303.1 67.5h1.1v1.1h-1.1zM298.8 64.5h1.1v1.1h-1.1zM301.2 62.2h1.1v1.1h-1.1zM305.4 80.5h1.1v1.1h-1.1zM314.0 65.3h1.1v1.1h-1.1zM310.3 68.9h1.1v1.1h-1.1zM307.5 57.4h1.1v1.1h-1.1zM306.4 62.4h1.1v1.1h-1.1zM305.4 68.7h1.1v1.1h-1.1zM286.9 57.7h1.1v1.1h-1.1zM310.8 76.1h1.1v1.1h-1.1zM312.1 61.4h1.1v1.1h-1.1zM306.0 72.8h1.1v1.1h-1.1zM305.6 56.2h1.1v1.1h-1.1zM311.6 64.2h1.1v1.1h-1.1zM306.8 58.6h1.1v1.1h-1.1zM302.2 76.9h1.1v1.1h-1.1zM305.5 72.0h1.1v1.1h-1.1zM316.7 67.4h1.1v1.1h-1.1zM307.9 67.3h1.1v1.1h-1.1zM312.6 70.0h1.1v1.1h-1.1zM311.1 77.5h1.1v1.1h-1.1zM311.3 75.5h1.1v1.1h-1.1zM303.2 68.2h1.1v1.1h-1.1zM311.2 63.5h1.1v1.1h-1.1zM300.0 69.8h1.1v1.1h-1.1zM305.4 71.5h1.1v1.1h-1.1zM316.4 64.6h1.1v1.1h-1.1zM301.8 68.2h1.1v1.1h-1.1zM304.4 66.4h1.1v1.1h-1.1zM314.4 71.0h1.1v1.1h-1.1zM309.9 67.1h1.1v1.1h-1.1zM313.2 67.3h1.1v1.1h-1.1zM317.3 67.1h1.1v1.1h-1.1zM307.9 73.0h1.1v1.1h-1.1zM318.7 56.6h1.1v1.1h-1.1zM309.9 61.4h1.1v1.1h-1.1zM298.7 68.0h1.1v1.1h-1.1zM311.7 58.4h1.1v1.1h-1.1zM306.5 79.8h1.1v1.1h-1.1zM314.6 65.6h1.1v1.1h-1.1zM311.6 68.5h1.1v1.1h-1.1zM304.3 64.7h1.1v1.1h-1.1zM314.4 63.7h1.1v1.1h-1.1zM306.8 66.0h1.1v1.1h-1.1zM299.5 69.1h1.1v1.1h-1.1zM317.6 60.9h1.1v1.1h-1.1zM308.1 75.8h1.1v1.1h-1.1zM310.3 68.2h1.1v1.1h-1.1zM311.3 69.9h1.1v1.1h-1.1zM307.1 64.0h1.1v1.1h-1.1zM304.5 59.1h1.1v1.1h-1.1zM308.5 67.3h1.1v1.1h-1.1zM303.6 60.2h1.1v1.1h-1.1zM303.9 58.6h1.1v1.1h-1.1zM310.5 61.2h1.1v1.1h-1.1zM312.1 62.8h1.1v1.1h-1.1zM311.7 71.2h1.1v1.1h-1.1zM312.3 66.0h1.1v1.1h-1.1zM297.4 73.0h1.1v1.1h-1.1zM303.5 60.4h1.1v1.1h-1.1zM301.8 71.4h1.1v1.1h-1.1zM311.4 70.1h1.1v1.1h-1.1zM312.2 74.2h1.1v1.1h-1.1zM306.0 69.0h1.1v1.1h-1.1zM306.2 67.3h1.1v1.1h-1.1zM307.2 70.0h1.1v1.1h-1.1zM305.1 70.0h1.1v1.1h-1.1zM312.6 66.1h1.1v1.1h-1.1zM310.4 63.0h1.1v1.1h-1.1zM304.1 79.5h1.1v1.1h-1.1zM307.6 75.9h1.1v1.1h-1.1zM295.7 57.0h1.1v1.1h-1.1zM307.4 67.3h1.1v1.1h-1.1zM295.6 75.2h1.1v1.1h-1.1zM310.8 64.0h1.1v1.1h-1.1zM311.3 71.7h1.1v1.1h-1.1zM307.9 65.3h1.1v1.1h-1.1zM311.1 65.5h1.1v1.1h-1.1zM304.2 61.4h1.1v1.1h-1.1zM309.0 75.8h1.1v1.1h-1.1zM304.8 66.2h1.1v1.1h-1.1zM300.5 68.7h1.1v1.1h-1.1zM312.2 66.9h1.1v1.1h-1.1zM311.5 74.4h1.1v1.1h-1.1zM302.6 66.1h1.1v1.1h-1.1zM311.0 66.4h1.1v1.1h-1.1zM301.9 69.7h1.1v1.1h-1.1zM310.5 74.5h1.1v1.1h-1.1zM303.2 71.5h1.1v1.1h-1.1zM308.9 52.0h1.1v1.1h-1.1zM311.7 67.5h1.1v1.1h-1.1zM299.8 80.7h1.1v1.1h-1.1zM310.2 69.8h1.1v1.1h-1.1zM321.1 72.3h1.1v1.1h-1.1zM302.3 69.8h1.1v1.1h-1.1zM317.8 74.1h1.1v1.1h-1.1zM316.2 67.0h1.1v1.1h-1.1zM313.7 64.0h1.1v1.1h-1.1zM307.1 72.5h1.1v1.1h-1.1zM307.3 72.2h1.1v1.1h-1.1zM307.0 70.5h1.1v1.1h-1.1zM319.5 70.0h1.1v1.1h-1.1zM313.0 59.3h1.1v1.1h-1.1zM305.0 74.6h1.1v1.1h-1.1zM298.7 68.0h1.1v1.1h-1.1zM306.5 75.8h1.1v1.1h-1.1zM297.9 67.4h1.1v1.1h-1.1zM307.8 69.4h1.1v1.1h-1.1zM299.4 77.4h1.1v1.1h-1.1zM312.1 75.4h1.1v1.1h-1.1zM311.2 71.8h1.1v1.1h-1.1zM306.1 67.4h1.1v1.1h-1.1zM301.4 72.4h1.1v1.1h-1.1zM301.7 76.4h1.1v1.1h-1.1zM310.2 64.7h1.1v1.1h-1.1zM307.8 59.3h1.1v1.1h-1.1zM301.7 65.7h1.1v1.1h-1.1zM299.6 66.6h1.1v1.1h-1.1zM306.1 65.0h1.1v1.1h-1.1zM302.4 62.6h1.1v1.1h-1.1zM297.1 73.9h1.1v1.1h-1.1zM305.9 76.1h1.1v1.1h-1.1zM301.1 66.9h1.1v1.1h-1.1zM312.0 76.1h1.1v1.1h-1.1zM313.4 72.7h1.1v1.1h-1.1zM300.3 73.1h1.1v1.1h-1.1zM316.7 54.3h1.1v1.1h-1.1zM310.6 81.1h1.1v1.1h-1.1zM301.9 71.3h1.1v1.1h-1.1zM318.6 69.9h1.1v1.1h-1.1zM309.0 73.4h1.1v1.1h-1.1zM307.1 73.1h1.1v1.1h-1.1zM307.4 73.7h1.1v1.1h-1.1zM303.0 68.8h1.1v1.1h-1.1zM307.4 55.6h1.1v1.1h-1.1zM312.6 65.8h1.1v1.1h-1.1zM303.7 61.2h1.1v1.1h-1.1zM306.7 63.4h1.1v1.1h-1.1zM312.1 77.3h1.1v1.1h-1.1zM304.9 65.1h1.1v1.1h-1.1zM306.9 67.3h1.1v1.1h-1.1zM309.4 56.6h1.1v1.1h-1.1zM310.6 67.9h1.1v1.1h-1.1zM303.8 60.3h1.1v1.1h-1.1zM313.3 74.2h1.1v1.1h-1.1zM309.8 72.4h1.1v1.1h-1.1zM312.4 69.0h1.1v1.1h-1.1zM311.7 62.0h1.1v1.1h-1.1zM311.0 53.7h1.1v1.1h-1.1zM314.9 76.8h1.1v1.1h-1.1zM313.8 62.8h1.1v1.1h-1.1zM306.6 72.3h1.1v1.1h-1.1zM303.4 71.9h1.1v1.1h-1.1zM308.3 77.6h1.1v1.1h-1.1zM305.0 66.2h1.1v1.1h-1.1zM312.8 77.0h1.1v1.1h-1.1zM304.6 56.3h1.1v1.1h-1.1zM295.7 56.8h1.1v1.1h-1.1zM308.3 58.6h1.1v1.1h-1.1zM307.5 55.1h1.1v1.1h-1.1zM304.9 74.3h1.1v1.1h-1.1zM297.6 81.9h1.1v1.1h-1.1zM307.9 60.8h1.1v1.1h-1.1zM304.4 68.8h1.1v1.1h-1.1zM299.8 65.1h1.1v1.1h-1.1zM309.8 49.8h1.1v1.1h-1.1zM329.9 70.4h1.1v1.1h-1.1zM318.8 86.8h1.1v1.1h-1.1zM314.2 66.4h1.1v1.1h-1.1zM306.5 74.1h1.1v1.1h-1.1zM320.6 56.8h1.1v1.1h-1.1zM323.8 60.8h1.1v1.1h-1.1zM298.0 83.9h1.1v1.1h-1.1zM302.9 76.7h1.1v1.1h-1.1zM295.4 78.7h1.1v1.1h-1.1zM303.2 80.9h1.1v1.1h-1.1zM293.3 66.0h1.1v1.1h-1.1zM298.6 73.1h1.1v1.1h-1.1zM298.4 67.8h1.1v1.1h-1.1zM307.4 64.5h1.1v1.1h-1.1zM309.0 70.8h1.1v1.1h-1.1zM292.9 82.3h1.1v1.1h-1.1zM297.5 63.9h1.1v1.1h-1.1zM323.2 57.7h1.1v1.1h-1.1zM306.1 75.6h1.1v1.1h-1.1zM301.5 68.9h1.1v1.1h-1.1zM304.8 67.4h1.1v1.1h-1.1zM296.7 81.3h1.1v1.1h-1.1zM307.7 74.1h1.1v1.1h-1.1zM307.8 62.7h1.1v1.1h-1.1zM317.9 58.5h1.1v1.1h-1.1zM316.3 59.0h1.1v1.1h-1.1zM300.9 71.2h1.1v1.1h-1.1zM328.7 71.2h1.1v1.1h-1.1zM308.6 72.3h1.1v1.1h-1.1zM318.0 61.2h1.1v1.1h-1.1zM290.2 63.5h1.1v1.1h-1.1zM307.1 61.8h1.1v1.1h-1.1zM305.1 82.8h1.1v1.1h-1.1zM305.1 63.5h1.1v1.1h-1.1zM307.9 79.8h1.1v1.1h-1.1zM323.0 70.7h1.1v1.1h-1.1zM305.0 65.1h1.1v1.1h-1.1zM297.3 65.7h1.1v1.1h-1.1zM315.9 71.7h1.1v1.1h-1.1zM310.4 58.1h1.1v1.1h-1.1zM306.9 62.3h1.1v1.1h-1.1zM321.2 64.9h1.1v1.1h-1.1zM306.6 68.6h1.1v1.1h-1.1zM307.5 69.3h1.1v1.1h-1.1zM302.6 72.4h1.1v1.1h-1.1zM308.1 76.6h1.1v1.1h-1.1zM312.4 73.5h1.1v1.1h-1.1zM303.0 70.0h1.1v1.1h-1.1zM287.4 66.0h1.1v1.1h-1.1zM303.8 47.2h1.1v1.1h-1.1zM318.1 74.5h1.1v1.1h-1.1zM309.0 90.1h1.1v1.1h-1.1zM293.5 73.1h1.1v1.1h-1.1zM308.6 63.6h1.1v1.1h-1.1zM321.1 75.1h1.1v1.1h-1.1zM311.9 58.6h1.1v1.1h-1.1zM309.8 68.5h1.1v1.1h-1.1zM312.2 53.9h1.1v1.1h-1.1zM298.4 81.4h1.1v1.1h-1.1zM308.2 67.6h1.1v1.1h-1.1zM307.2 43.3h1.1v1.1h-1.1zM320.6 51.1h1.1v1.1h-1.1zM296.4 76.6h1.1v1.1h-1.1zM319.9 76.2h1.1v1.1h-1.1zM302.9 62.1h1.1v1.1h-1.1zM313.2 69.0h1.1v1.1h-1.1zM291.3 85.5h1.1v1.1h-1.1zM290.1 77.0h1.1v1.1h-1.1zM310.5 74.6h1.1v1.1h-1.1zM308.5 76.2h1.1v1.1h-1.1zM310.3 59.5h1.1v1.1h-1.1zM302.1 83.1h1.1v1.1h-1.1zM290.4 79.9h1.1v1.1h-1.1zM302.2 53.8h1.1v1.1h-1.1zM299.8 75.1h1.1v1.1h-1.1zM282.4 84.0h1.1v1.1h-1.1zM318.8 61.6h1.1v1.1h-1.1zM304.4 69.9h1.1v1.1h-1.1zM315.6 56.7h1.1v1.1h-1.1zM303.2 73.0h1.1v1.1h-1.1zM294.0 75.3h1.1v1.1h-1.1zM307.0 76.2h1.1v1.1h-1.1zM297.3 70.9h1.1v1.1h-1.1zM311.1 68.0h1.1v1.1h-1.1zM297.9 81.9h1.1v1.1h-1.1zM306.7 70.2h1.1v1.1h-1.1zM308.1 74.8h1.1v1.1h-1.1zM308.4 61.9h1.1v1.1h-1.1zM315.2 65.8h1.1v1.1h-1.1zM308.6 70.2h1.1v1.1h-1.1zM297.0 72.4h1.1v1.1h-1.1zM310.4 54.5h1.1v1.1h-1.1zM305.0 68.7h1.1v1.1h-1.1zM313.9 64.0h1.1v1.1h-1.1zM308.4 74.3h1.1v1.1h-1.1zM296.7 64.7h1.1v1.1h-1.1zM305.1 76.1h1.1v1.1h-1.1zM319.9 66.3h1.1v1.1h-1.1zM306.8 64.5h1.1v1.1h-1.1zM308.7 84.0h1.1v1.1h-1.1zM306.6 64.2h1.1v1.1h-1.1zM322.1 63.7h1.1v1.1h-1.1zM306.1 61.2h1.1v1.1h-1.1zM317.4 64.0h1.1v1.1h-1.1zM291.1 53.3h1.1v1.1h-1.1zM310.7 63.0h1.1v1.1h-1.1zM312.1 72.2h1.1v1.1h-1.1zM321.5 78.2h1.1v1.1h-1.1zM298.0 68.7h1.1v1.1h-1.1zM300.7 78.7h1.1v1.1h-1.1zM294.5 78.2h1.1v1.1h-1.1zM292.3 82.5h1.1v1.1h-1.1zM318.1 50.5h1.1v1.1h-1.1zM307.8 63.0h1.1v1.1h-1.1zM292.7 81.4h1.1v1.1h-1.1zM300.6 80.3h1.1v1.1h-1.1zM311.9 84.5h1.1v1.1h-1.1zM303.6 77.6h1.1v1.1h-1.1zM309.4 64.6h1.1v1.1h-1.1zM317.3 66.5h1.1v1.1h-1.1zM303.7 71.4h1.1v1.1h-1.1zM295.8 82.1h1.1v1.1h-1.1zM323.0 50.5h1.1v1.1h-1.1zM308.8 65.0h1.1v1.1h-1.1zM301.3 78.1h1.1v1.1h-1.1zM323.3 67.3h1.1v1.1h-1.1zM305.1 85.4h1.1v1.1h-1.1zM304.7 63.1h1.1v1.1h-1.1zM302.5 78.8h1.1v1.1h-1.1zM308.3 70.0h1.1v1.1h-1.1zM302.1 73.5h1.1v1.1h-1.1zM307.4 85.2h1.1v1.1h-1.1zM307.4 59.3h1.1v1.1h-1.1zM322.9 67.0h1.1v1.1h-1.1zM307.5 73.1h1.1v1.1h-1.1zM308.2 48.5h1.1v1.1h-1.1zM307.4 80.5h1.1v1.1h-1.1zM316.1 59.1h1.1v1.1h-1.1zM304.8 74.0h1.1v1.1h-1.1zM326.5 66.9h1.1v1.1h-1.1zM310.0 62.7h1.1v1.1h-1.1zM304.3 64.9h1.1v1.1h-1.1zM307.7 59.8h1.1v1.1h-1.1zM304.2 58.9h1.1v1.1h-1.1zM318.0 71.9h1.1v1.1h-1.1zM306.3 66.8h1.1v1.1h-1.1zM314.8 68.5h1.1v1.1h-1.1zM303.5 44.8h1.1v1.1h-1.1zM291.0 79.5h1.1v1.1h-1.1zM306.1 62.0h1.1v1.1h-1.1zM291.5 79.3h1.1v1.1h-1.1zM297.2 72.9h1.1v1.1h-1.1zM307.0 63.8h1.1v1.1h-1.1zM297.3 74.5h1.1v1.1h-1.1zM295.3 66.4h1.1v1.1h-1.1zM306.5 79.6h1.1v1.1h-1.1zM303.8 70.9h1.1v1.1h-1.1zM313.1 44.4h1.1v1.1h-1.1zM299.2 67.6h1.1v1.1h-1.1zM301.1 78.1h1.1v1.1h-1.1zM302.9 75.5h1.1v1.1h-1.1zM316.0 63.7h1.1v1.1h-1.1zM310.9 81.2h1.1v1.1h-1.1zM316.2 66.7h1.1v1.1h-1.1zM292.4 66.6h1.1v1.1h-1.1zM306.9 71.9h1.1v1.1h-1.1zM309.2 68.1h1.1v1.1h-1.1zM298.5 76.8h1.1v1.1h-1.1zM316.3 65.7h1.1v1.1h-1.1zM308.2 76.3h1.1v1.1h-1.1zM304.3 73.4h1.1v1.1h-1.1zM316.6 59.7h1.1v1.1h-1.1zM307.1 61.5h1.1v1.1h-1.1zM297.9 53.8h1.1v1.1h-1.1zM310.6 91.0h1.1v1.1h-1.1zM304.7 84.1h1.1v1.1h-1.1zM317.2 62.4h1.1v1.1h-1.1zM316.1 62.6h1.1v1.1h-1.1zM289.0 82.1h1.1v1.1h-1.1zM305.5 67.6h1.1v1.1h-1.1zM314.4 76.2h1.1v1.1h-1.1zM306.2 71.9h1.1v1.1h-1.1zM311.0 60.3h1.1v1.1h-1.1zM314.9 61.7h1.1v1.1h-1.1zM311.7 76.6h1.1v1.1h-1.1zM316.9 48.4h1.1v1.1h-1.1zM301.5 67.8h1.1v1.1h-1.1zM300.9 69.4h1.1v1.1h-1.1zM307.1 69.8h1.1v1.1h-1.1zM328.6 65.5h1.1v1.1h-1.1zM308.6 61.6h1.1v1.1h-1.1zM305.9 67.5h1.1v1.1h-1.1zM313.7 55.8h1.1v1.1h-1.1zM306.1 59.6h1.1v1.1h-1.1zM292.7 79.8h1.1v1.1h-1.1zM306.4 72.6h1.1v1.1h-1.1zM322.9 78.3h1.1v1.1h-1.1zM307.3 72.2h1.1v1.1h-1.1zM303.5 68.0h1.1v1.1h-1.1zM294.0 79.7h1.1v1.1h-1.1zM308.8 78.2h1.1v1.1h-1.1zM324.4 56.4h1.1v1.1h-1.1zM309.5 66.4h1.1v1.1h-1.1zM319.2 63.6h1.1v1.1h-1.1zM323.3 86.4h1.1v1.1h-1.1zM326.5 82.4h1.1v1.1h-1.1zM311.4 68.5h1.1v1.1h-1.1zM295.7 74.3h1.1v1.1h-1.1zM293.6 64.0h1.1v1.1h-1.1zM319.1 75.0h1.1v1.1h-1.1zM298.2 92.3h1.1v1.1h-1.1zM298.2 61.3h1.1v1.1h-1.1zM321.3 80.2h1.1v1.1h-1.1zM306.3 75.3h1.1v1.1h-1.1zM294.1 80.4h1.1v1.1h-1.1zM303.4 79.4h1.1v1.1h-1.1zM302.5 66.0h1.1v1.1h-1.1zM314.6 73.3h1.1v1.1h-1.1zM304.7 56.0h1.1v1.1h-1.1zM311.0 81.1h1.1v1.1h-1.1zM315.1 54.3h1.1v1.1h-1.1zM308.9 70.9h1.1v1.1h-1.1zM321.9 63.5h1.1v1.1h-1.1zM305.7 84.5h1.1v1.1h-1.1zM296.7 65.5h1.1v1.1h-1.1zM299.4 81.8h1.1v1.1h-1.1zM301.3 76.7h1.1v1.1h-1.1zM301.2 84.2h1.1v1.1h-1.1zM312.6 61.5h1.1v1.1h-1.1zM314.0 70.3h1.1v1.1h-1.1zM308.2 59.9h1.1v1.1h-1.1zM325.1 65.1h1.1v1.1h-1.1zM304.8 71.0h1.1v1.1h-1.1zM307.7 57.7h1.1v1.1h-1.1zM317.7 51.6h1.1v1.1h-1.1zM316.2 49.2h1.1v1.1h-1.1zM295.6 83.4h1.1v1.1h-1.1zM294.8 72.8h1.1v1.1h-1.1zM310.4 80.8h1.1v1.1h-1.1zM323.8 72.6h1.1v1.1h-1.1zM312.9 78.2h1.1v1.1h-1.1zM317.1 51.6h1.1v1.1h-1.1zM313.7 59.4h1.1v1.1h-1.1zM331.5 73.7h1.1v1.1h-1.1zM301.7 87.9h1.1v1.1h-1.1zM299.7 76.4h1.1v1.1h-1.1zM296.9 68.7h1.1v1.1h-1.1zM310.1 56.0h1.1v1.1h-1.1zM313.4 77.2h1.1v1.1h-1.1zM322.5 74.9h1.1v1.1h-1.1zM311.7 75.6h1.1v1.1h-1.1zM300.9 66.1h1.1v1.1h-1.1zM320.4 55.1h1.1v1.1h-1.1zM303.1 78.6h1.1v1.1h-1.1zM307.0 57.9h1.1v1.1h-1.1zM302.5 63.9h1.1v1.1h-1.1zM296.9 66.5h1.1v1.1h-1.1zM314.6 61.8h1.1v1.1h-1.1zM309.8 62.1h1.1v1.1h-1.1zM306.2 75.7h1.1v1.1h-1.1zM311.5 65.9h1.1v1.1h-1.1zM305.5 79.6h1.1v1.1h-1.1zM304.6 56.4h1.1v1.1h-1.1zM314.3 73.4h1.1v1.1h-1.1zM306.9 63.9h1.1v1.1h-1.1zM319.9 77.4h1.1v1.1h-1.1zM311.5 67.7h1.1v1.1h-1.1zM314.4 83.3h1.1v1.1h-1.1zM302.3 78.3h1.1v1.1h-1.1zM289.5 68.9h1.1v1.1h-1.1zM313.6 68.7h1.1v1.1h-1.1zM297.3 79.4h1.1v1.1h-1.1zM314.3 74.3h1.1v1.1h-1.1zM304.9 68.2h1.1v1.1h-1.1zM306.3 72.1h1.1v1.1h-1.1zM309.0 67.7h1.1v1.1h-1.1zM314.5 77.7h1.1v1.1h-1.1zM309.3 80.4h1.1v1.1h-1.1zM293.0 96.7h1.1v1.1h-1.1zM300.2 67.3h1.1v1.1h-1.1zM312.2 77.2h1.1v1.1h-1.1zM309.9 53.6h1.1v1.1h-1.1zM304.8 58.8h1.1v1.1h-1.1zM316.2 62.7h1.1v1.1h-1.1zM286.4 68.0h1.1v1.1h-1.1zM310.4 57.8h1.1v1.1h-1.1zM312.2 52.2h1.1v1.1h-1.1zM305.4 78.5h1.1v1.1h-1.1zM308.2 59.6h1.1v1.1h-1.1zM301.3 79.9h1.1v1.1h-1.1zM314.1 70.4h1.1v1.1h-1.1zM314.6 66.3h1.1v1.1h-1.1zM308.2 67.7h1.1v1.1h-1.1zM304.0 80.3h1.1v1.1h-1.1zM299.5 91.6h1.1v1.1h-1.1zM315.2 64.7h1.1v1.1h-1.1zM321.0 81.0h1.1v1.1h-1.1zM310.9 57.1h1.1v1.1h-1.1zM309.0 68.9h1.1v1.1h-1.1zM302.7 57.1h1.1v1.1h-1.1zM299.9 72.7h1.1v1.1h-1.1zM306.5 78.0h1.1v1.1h-1.1zM297.1 78.0h1.1v1.1h-1.1zM300.8 75.0h1.1v1.1h-1.1zM309.9 81.7h1.1v1.1h-1.1zM313.1 65.0h1.1v1.1h-1.1zM309.6 55.0h1.1v1.1h-1.1zM308.4 73.6h1.1v1.1h-1.1zM310.5 63.5h1.1v1.1h-1.1zM310.7 70.7h1.1v1.1h-1.1zM311.3 59.4h1.1v1.1h-1.1zM315.2 66.8h1.1v1.1h-1.1zM297.7 70.3h1.1v1.1h-1.1zM318.4 80.3h1.1v1.1h-1.1zM305.5 62.4h1.1v1.1h-1.1zM305.0 76.0h1.1v1.1h-1.1zM320.1 67.1h1.1v1.1h-1.1zM305.9 82.8h1.1v1.1h-1.1zM312.0 60.6h1.1v1.1h-1.1zM306.1 79.7h1.0v1.0h-1.0zM304.9 68.6h1.0v1.0h-1.0zM300.2 76.7h1.0v1.0h-1.0zM327.8 76.8h1.0v1.0h-1.0zM303.9 54.1h1.0v1.0h-1.0zM327.7 70.3h1.0v1.0h-1.0zM289.4 91.3h1.0v1.0h-1.0zM303.1 60.9h1.0v1.0h-1.0zM309.1 49.3h1.0v1.0h-1.0zM294.8 89.5h1.0v1.0h-1.0zM305.4 74.2h1.0v1.0h-1.0zM326.2 66.3h1.0v1.0h-1.0zM307.8 74.7h1.0v1.0h-1.0zM330.3 66.8h1.0v1.0h-1.0zM304.2 93.5h1.0v1.0h-1.0zM327.7 46.1h1.0v1.0h-1.0zM313.9 96.0h1.0v1.0h-1.0zM290.9 54.8h1.0v1.0h-1.0zM318.4 57.7h1.0v1.0h-1.0zM289.3 92.4h1.0v1.0h-1.0zM307.4 73.0h1.0v1.0h-1.0zM325.0 65.8h1.0v1.0h-1.0zM297.9 99.6h1.0v1.0h-1.0zM322.0 63.6h1.0v1.0h-1.0zM304.7 50.8h1.0v1.0h-1.0zM318.3 47.6h1.0v1.0h-1.0zM332.6 35.0h1.0v1.0h-1.0zM320.3 49.8h1.0v1.0h-1.0zM296.0 80.3h1.0v1.0h-1.0zM310.8 76.0h1.0v1.0h-1.0zM295.0 69.4h1.0v1.0h-1.0zM304.7 71.6h1.0v1.0h-1.0zM320.5 61.8h1.0v1.0h-1.0zM297.0 72.0h1.0v1.0h-1.0zM287.6 65.6h1.0v1.0h-1.0zM325.3 55.1h1.0v1.0h-1.0zM320.4 58.5h1.0v1.0h-1.0zM297.3 72.4h1.0v1.0h-1.0zM315.6 63.3h1.0v1.0h-1.0zM312.4 87.7h1.0v1.0h-1.0zM309.3 71.5h1.0v1.0h-1.0zM299.1 80.5h1.0v1.0h-1.0zM299.8 72.3h1.0v1.0h-1.0zM302.7 77.4h1.0v1.0h-1.0zM315.9 78.4h1.0v1.0h-1.0zM310.1 74.8h1.0v1.0h-1.0zM333.4 47.6h1.0v1.0h-1.0zM297.3 81.3h1.0v1.0h-1.0zM311.0 67.6h1.0v1.0h-1.0zM277.7 73.8h1.0v1.0h-1.0zM321.5 69.7h1.0v1.0h-1.0zM309.4 64.8h1.0v1.0h-1.0zM300.2 64.2h1.0v1.0h-1.0zM309.5 42.4h1.0v1.0h-1.0zM325.7 46.4h1.0v1.0h-1.0zM325.1 71.7h1.0v1.0h-1.0zM298.7 65.9h1.0v1.0h-1.0zM313.4 79.4h1.0v1.0h-1.0zM297.2 76.6h1.0v1.0h-1.0zM317.9 61.3h1.0v1.0h-1.0zM313.4 59.7h1.0v1.0h-1.0zM303.7 55.3h1.0v1.0h-1.0zM297.2 79.5h1.0v1.0h-1.0zM315.0 71.7h1.0v1.0h-1.0zM301.7 73.5h1.0v1.0h-1.0zM320.1 46.9h1.0v1.0h-1.0zM295.1 56.5h1.0v1.0h-1.0zM309.9 68.1h1.0v1.0h-1.0zM332.6 72.4h1.0v1.0h-1.0zM274.0 80.3h1.0v1.0h-1.0zM303.2 80.0h1.0v1.0h-1.0zM293.9 51.1h1.0v1.0h-1.0zM295.5 77.5h1.0v1.0h-1.0zM303.0 76.2h1.0v1.0h-1.0zM332.3 43.9h1.0v1.0h-1.0zM302.3 71.6h1.0v1.0h-1.0zM318.9 53.2h1.0v1.0h-1.0zM308.7 53.4h1.0v1.0h-1.0zM327.7 71.4h1.0v1.0h-1.0zM333.0 78.3h1.0v1.0h-1.0zM314.7 75.4h1.0v1.0h-1.0zM318.1 64.2h1.0v1.0h-1.0zM305.5 63.2h1.0v1.0h-1.0zM312.4 68.7h1.0v1.0h-1.0zM324.5 63.3h1.0v1.0h-1.0zM312.2 87.2h1.0v1.0h-1.0zM302.2 55.0h1.0v1.0h-1.0zM339.9 42.3h1.0v1.0h-1.0zM301.0 90.2h1.0v1.0h-1.0zM306.0 59.8h1.0v1.0h-1.0z" fill="#000"/>
<rect x="323.15" y="28.85" width="1.3" height="1.3" fill="#dca33e"/>
<rect x="326.05" y="29.55" width="1.3" height="1.3" fill="#dca33e"/>
<rect x="335.45" y="32.15" width="1.3" height="1.3" fill="#dca33e"/>
<rect x="338.55" y="35.35" width="1.3" height="1.3" fill="#dca33e"/>
<rect x="341.15" y="35.05" width="1.3" height="1.3" fill="#dca33e"/>
<rect x="335.45" y="38.95" width="1.3" height="1.3" fill="#dca33e"/>
<rect x="323.15" y="41.85" width="1.3" height="1.3" fill="#dca33e"/>
<rect x="333.95" y="43.95" width="1.3" height="1.3" fill="#dca33e"/>
<rect x="338.35" y="45.35" width="1.3" height="1.3" fill="#dca33e"/>
<rect x="324.65" y="46.15" width="1.3" height="1.3" fill="#dca33e"/>
<rect x="328.25" y="45.35" width="1.3" height="1.3" fill="#dca33e"/>
<rect x="330.35" y="47.15" width="1.3" height="1.3" fill="#dca33e"/>
<rect x="326.75" y="49.05" width="1.3" height="1.3" fill="#dca33e"/>
<rect x="333.95" y="48.35" width="1.3" height="1.3" fill="#dca33e"/>
<rect x="337.15" y="50.45" width="1.3" height="1.3" fill="#dca33e"/>
<rect x="349.15" y="50.45" width="1.3" height="1.3" fill="#dca33e"/>
<rect x="364.35" y="20.15" width="1.3" height="1.3" fill="#dca33e"/>
<rect x="322.35" y="48.35" width="1.3" height="1.3" fill="#dca33e"/>
<rect x="325.35" y="51.15" width="1.3" height="1.3" fill="#dca33e"/>
<rect x="328.95" y="52.65" width="1.3" height="1.3" fill="#dca33e"/>
<rect x="331.85" y="51.95" width="1.3" height="1.3" fill="#dca33e"/>
<rect x="329.35" y="43.35" width="1.3" height="1.3" fill="#dca33e"/>
<rect x="326.35" y="43.85" width="1.3" height="1.3" fill="#dca33e"/>
<rect x="320.85" y="44.85" width="1.3" height="1.3" fill="#dca33e"/>
<rect x="323.40" y="83.50" width="1.4" height="1.4" fill="#c0182a"/>
<rect x="326.10" y="83.80" width="1.4" height="1.4" fill="#c0182a"/>
<rect x="333.90" y="103.70" width="1.4" height="1.4" fill="#c0182a"/>
<rect x="341.40" y="98.60" width="1.4" height="1.4" fill="#c0182a"/>
<rect x="352.70" y="108.70" width="1.4" height="1.4" fill="#c0182a"/>
<rect x="288.30" y="80.40" width="1.2" height="1.2" fill="#b4d2ea"/>
<rect x="287.90" y="83.40" width="1.2" height="1.2" fill="#b4d2ea"/>
<rect x="288.40" y="87.90" width="1.2" height="1.2" fill="#b4d2ea"/>
<rect x="286.40" y="88.40" width="1.2" height="1.2" fill="#b4d2ea"/>
<rect x="289.90" y="78.90" width="1.2" height="1.2" fill="#b4d2ea"/>
<rect x="285.40" y="90.40" width="1.2" height="1.2" fill="#b4d2ea"/>
<rect x="273.40" y="95.90" width="1.2" height="1.2" fill="#b4d2ea"/>
<rect x="276.40" y="96.40" width="1.2" height="1.2" fill="#b4d2ea"/>
<rect x="279.40" y="96.90" width="1.2" height="1.2" fill="#b4d2ea"/>
<rect x="284.90" y="85.40" width="1.2" height="1.2" fill="#b4d2ea"/>
<rect x="290.40" y="102.90" width="1.2" height="1.2" fill="#b4d2ea"/>
<rect x="287.40" y="101.40" width="1.2" height="1.2" fill="#b4d2ea"/>
<text x="275.30" y="25.30" font-size="5.6" text-anchor="middle" fill="#e6e0a0" stroke="#e6e0a0" stroke-width="0.08">1</text>
<text x="349.80" y="25.80" font-size="6.0" text-anchor="middle" fill="#dfae50" stroke="#dfae50" stroke-width="0.08">24</text>
<text x="276.80" y="99.70" font-size="5.8" text-anchor="middle" fill="#bcd6ec" stroke="#bcd6ec" stroke-width="0.08">12*</text>
<text x="350.30" y="100.60" font-size="6.3" text-anchor="middle" fill="#c0182a" stroke="#c0182a" stroke-width="0.08">6</text>
<text x="255.60" y="14.60" font-size="6.1" text-anchor="start" fill="#000" stroke="#000" stroke-width="0.08">CD45.2&gt;CD45.1</text>
<text x="374.50" y="15.30" font-size="6.1" text-anchor="end" fill="#000" stroke="#000" stroke-width="0.08">Host&gt;Donor</text>
<text x="255.00" y="120.50" font-size="6.1" text-anchor="start" fill="#000" stroke="#000" stroke-width="0.08">Donor&gt;Host</text>
<text x="375.50" y="120.50" font-size="6.1" text-anchor="end" fill="#000" stroke="#000" stroke-width="0.08">CD45.1&gt;CD45.2</text>
<text x="312.50" y="126.80" font-size="4.5" text-anchor="middle" fill="#000" font-weight="bold" stroke="#000" stroke-width="0.08">Host.1 vs Donor.2 (fold)</text>
<text transform="translate(255.20,62.50) rotate(-90)" font-size="4.25" text-anchor="middle" fill="#222" font-weight="bold" stroke="#222" stroke-width="0.08">Host.2 vs Donor.1 (fold)</text>
<text x="384.80" y="9.80" font-size="11.5" text-anchor="start" fill="#000" font-weight="bold" stroke="#000" stroke-width="0.08">C</text>
<line x1="410.9" y1="31.8" x2="410.9" y2="70.4" stroke="#000" stroke-width="0.8"/>
<line x1="410.9" y1="70.4" x2="467.5" y2="70.4" stroke="#000" stroke-width="0.8"/>
<line x1="409.59999999999997" y1="38" x2="410.9" y2="38" stroke="#000" stroke-width="0.6"/>
<text x="409.10" y="39.30" font-size="3.6" text-anchor="end" fill="#000" stroke="#000" stroke-width="0.08">64</text>
<line x1="409.59999999999997" y1="48.4" x2="410.9" y2="48.4" stroke="#000" stroke-width="0.6"/>
<text x="409.10" y="49.70" font-size="3.6" text-anchor="end" fill="#000" stroke="#000" stroke-width="0.08">16</text>
<line x1="409.59999999999997" y1="59.1" x2="410.9" y2="59.1" stroke="#000" stroke-width="0.6"/>
<text x="409.10" y="60.40" font-size="3.6" text-anchor="end" fill="#000" stroke="#000" stroke-width="0.08">4</text>
<line x1="409.59999999999997" y1="70.4" x2="410.9" y2="70.4" stroke="#000" stroke-width="0.6"/>
<text x="409.10" y="71.70" font-size="3.6" text-anchor="end" fill="#000" stroke="#000" stroke-width="0.08">1</text>
<rect x="412.8" y="38.2" width="9.800000000000011" height="32.2" fill="#000"/>
<line x1="417.70000000000005" y1="38.2" x2="417.70000000000005" y2="36.1" stroke="#000" stroke-width="0.7"/>
<line x1="415.40000000000003" y1="36.1" x2="420.00000000000006" y2="36.1" stroke="#000" stroke-width="0.7"/>
<line x1="417.70000000000005" y1="70.4" x2="417.70000000000005" y2="71.7" stroke="#000" stroke-width="0.6"/>
<text transform="translate(419.30,72.90) rotate(-90)" font-size="5.2" text-anchor="end" fill="#000" stroke="#000" stroke-width="0.08">Marco</text>
<rect x="427.6" y="55.2" width="9.799999999999955" height="15.200000000000003" fill="#000"/>
<line x1="432.5" y1="55.2" x2="432.5" y2="53.1" stroke="#000" stroke-width="0.7"/>
<line x1="430.2" y1="53.1" x2="434.8" y2="53.1" stroke="#000" stroke-width="0.7"/>
<line x1="432.5" y1="70.4" x2="432.5" y2="71.7" stroke="#000" stroke-width="0.6"/>
<text transform="translate(434.10,72.90) rotate(-90)" font-size="5.2" text-anchor="end" fill="#000" stroke="#000" stroke-width="0.08">Sema3e</text>
<rect x="441.9" y="45.1" width="9.900000000000034" height="25.300000000000004" fill="#000"/>
<line x1="446.85" y1="45.1" x2="446.85" y2="42.3" stroke="#000" stroke-width="0.7"/>
<line x1="444.55" y1="42.3" x2="449.15000000000003" y2="42.3" stroke="#000" stroke-width="0.7"/>
<line x1="446.85" y1="70.4" x2="446.85" y2="71.7" stroke="#000" stroke-width="0.6"/>
<text transform="translate(448.45,72.90) rotate(-90)" font-size="5.2" text-anchor="end" fill="#000" stroke="#000" stroke-width="0.08">Wfdc10</text>
<rect x="456.3" y="53.5" width="9.800000000000011" height="16.900000000000006" fill="#000"/>
<line x1="461.20000000000005" y1="53.5" x2="461.20000000000005" y2="51.5" stroke="#000" stroke-width="0.7"/>
<line x1="458.90000000000003" y1="51.5" x2="463.50000000000006" y2="51.5" stroke="#000" stroke-width="0.7"/>
<line x1="461.20000000000005" y1="70.4" x2="461.20000000000005" y2="71.7" stroke="#000" stroke-width="0.6"/>
<text transform="translate(462.80,72.90) rotate(-90)" font-size="5.2" text-anchor="end" fill="#000" stroke="#000" stroke-width="0.08">Wwtr1</text>
<text transform="translate(394.70,49.50) rotate(-90)" font-size="5.05" text-anchor="middle" fill="#000" stroke="#000" stroke-width="0.08">Relative mRNA expression</text>
<text transform="translate(400.20,49.50) rotate(-90)" font-size="5.05" text-anchor="middle" fill="#000" stroke="#000" stroke-width="0.08">Host / Donor</text>
<line x1="489.8" y1="30.8" x2="489.8" y2="70.5" stroke="#000" stroke-width="0.8"/>
<line x1="489.8" y1="70.5" x2="518" y2="70.5" stroke="#000" stroke-width="0.8"/>
<line x1="488.5" y1="31.5" x2="489.8" y2="31.5" stroke="#000" stroke-width="0.6"/>
<text x="488.00" y="32.80" font-size="3.6" text-anchor="end" fill="#000" stroke="#000" stroke-width="0.08">8</text>
<line x1="488.5" y1="44.5" x2="489.8" y2="44.5" stroke="#000" stroke-width="0.6"/>
<text x="488.00" y="45.80" font-size="3.6" text-anchor="end" fill="#000" stroke="#000" stroke-width="0.08">4</text>
<line x1="488.5" y1="57.5" x2="489.8" y2="57.5" stroke="#000" stroke-width="0.6"/>
<text x="488.00" y="58.80" font-size="3.6" text-anchor="end" fill="#000" stroke="#000" stroke-width="0.08">2</text>
<line x1="488.5" y1="70.5" x2="489.8" y2="70.5" stroke="#000" stroke-width="0.6"/>
<text x="488.00" y="71.80" font-size="3.6" text-anchor="end" fill="#000" stroke="#000" stroke-width="0.08">1</text>
<rect x="493.1" y="41.7" width="9.599999999999966" height="28.799999999999997" fill="#000"/>
<line x1="497.9" y1="41.7" x2="497.9" y2="40.8" stroke="#000" stroke-width="0.7"/>
<line x1="495.59999999999997" y1="40.8" x2="500.2" y2="40.8" stroke="#000" stroke-width="0.7"/>
<line x1="497.9" y1="70.5" x2="497.9" y2="71.8" stroke="#000" stroke-width="0.6"/>
<text transform="translate(499.50,73.00) rotate(-90)" font-size="5.2" text-anchor="end" fill="#000" stroke="#000" stroke-width="0.08">Plbd1</text>
<rect x="507.2" y="65.4" width="9.199999999999989" height="5.099999999999994" fill="#000"/>
<line x1="511.79999999999995" y1="65.4" x2="511.79999999999995" y2="61.5" stroke="#000" stroke-width="0.7"/>
<line x1="509.49999999999994" y1="61.5" x2="514.0999999999999" y2="61.5" stroke="#000" stroke-width="0.7"/>
<line x1="511.79999999999995" y1="70.5" x2="511.79999999999995" y2="71.8" stroke="#000" stroke-width="0.6"/>
<text transform="translate(513.40,73.00) rotate(-90)" font-size="5.2" text-anchor="end" fill="#000" stroke="#000" stroke-width="0.08">Il205</text>
<text transform="translate(476.20,48.30) rotate(-90)" font-size="4.75" text-anchor="middle" fill="#000" stroke="#000" stroke-width="0.08">Relative mRNA expression</text>
<text transform="translate(481.60,48.30) rotate(-90)" font-size="4.75" text-anchor="middle" fill="#000" stroke="#000" stroke-width="0.08">Donor / Host</text>
<text x="260.90" y="149.80" font-size="11.5" text-anchor="start" fill="#000" font-weight="bold" stroke="#000" stroke-width="0.08">B</text>
<line x1="291.8" y1="151.5" x2="291.8" y2="221.3" stroke="#222" stroke-width="0.7"/>
<line x1="291.8" y1="221.3" x2="468.8" y2="221.3" stroke="#222" stroke-width="0.7"/>
<line x1="290.6" y1="152.40" x2="291.8" y2="152.40" stroke="#222" stroke-width="0.5"/>
<text x="290.30" y="153.70" font-size="3.7" text-anchor="end" fill="#000" stroke="#000" stroke-width="0.08">1000</text>
<line x1="290.6" y1="175.25" x2="291.8" y2="175.25" stroke="#222" stroke-width="0.5"/>
<text x="290.30" y="176.55" font-size="3.7" text-anchor="end" fill="#000" stroke="#000" stroke-width="0.08">100</text>
<line x1="290.6" y1="198.10" x2="291.8" y2="198.10" stroke="#222" stroke-width="0.5"/>
<text x="290.30" y="199.40" font-size="3.7" text-anchor="end" fill="#000" stroke="#000" stroke-width="0.08">10</text>
<line x1="290.6" y1="220.95" x2="291.8" y2="220.95" stroke="#222" stroke-width="0.5"/>
<text x="290.30" y="222.25" font-size="3.7" text-anchor="end" fill="#000" stroke="#000" stroke-width="0.08">1</text>
<line x1="295.80" y1="221.3" x2="295.80" y2="222.9" stroke="#222" stroke-width="0.5"/>
<text transform="translate(297.50,225.10) rotate(-90)" font-size="4.9" text-anchor="end" fill="#000" stroke="#000" stroke-width="0.08">Marco</text>
<circle cx="297.84" cy="177.58" r="1.22" fill="#86b4ea"/>
<circle cx="295.64" cy="180.51" r="1.22" fill="#86b4ea"/>
<circle cx="294.29" cy="177.39" r="1.22" fill="#86b4ea"/>
<circle cx="295.86" cy="179.70" r="1.22" fill="#86b4ea"/>
<circle cx="293.85" cy="177.60" r="1.22" fill="#86b4ea"/>
<path d="M294.86 185.07L296.38 187.82L293.33 187.82z" fill="#2a55c8"/>
<circle cx="293.60" cy="189.99" r="1.22" fill="#2a55c8"/>
<circle cx="298.03" cy="186.34" r="1.22" fill="#2a55c8"/>
<circle cx="293.47" cy="188.16" r="1.22" fill="#2a55c8"/>
<path d="M293.69 186.72L295.21 189.47L292.16 189.47z" fill="#2a55c8"/>
<circle cx="295.63" cy="163.85" r="1.22" fill="#6a2a0c"/>
<circle cx="295.51" cy="164.28" r="1.22" fill="#6a2a0c"/>
<circle cx="296.47" cy="165.04" r="1.22" fill="#6a2a0c"/>
<circle cx="295.80" cy="161.98" r="1.22" fill="#6a2a0c"/>
<circle cx="294.74" cy="162.77" r="1.22" fill="#6a2a0c"/>
<circle cx="298.19" cy="154.10" r="1.22" fill="#eaa23a"/>
<path d="M294.91 155.84L296.44 158.59L293.39 158.59z" fill="#eaa23a"/>
<path d="M294.79 151.88L296.31 154.63L293.26 154.63z" fill="#eaa23a"/>
<path d="M297.46 154.49L298.99 157.24L295.94 157.24z" fill="#eaa23a"/>
<circle cx="298.00" cy="153.99" r="1.22" fill="#eaa23a"/>
<line x1="303.45" y1="221.3" x2="303.45" y2="222.9" stroke="#222" stroke-width="0.5"/>
<text transform="translate(305.15,225.10) rotate(-90)" font-size="4.9" text-anchor="end" fill="#000" stroke="#000" stroke-width="0.08">Lepr</text>
<circle cx="305.42" cy="168.51" r="1.22" fill="#86b4ea"/>
<circle cx="303.31" cy="167.26" r="1.22" fill="#86b4ea"/>
<circle cx="301.40" cy="169.08" r="1.22" fill="#86b4ea"/>
<circle cx="304.07" cy="167.03" r="1.22" fill="#86b4ea"/>
<circle cx="301.47" cy="167.51" r="1.22" fill="#86b4ea"/>
<circle cx="302.65" cy="170.40" r="1.22" fill="#2a55c8"/>
<path d="M302.23 170.34L303.76 173.09L300.71 173.09z" fill="#2a55c8"/>
<circle cx="301.34" cy="170.91" r="1.22" fill="#2a55c8"/>
<path d="M303.20 171.32L304.72 174.07L301.67 174.07z" fill="#2a55c8"/>
<path d="M304.56 172.40L306.09 175.15L303.04 175.15z" fill="#2a55c8"/>
<circle cx="303.07" cy="158.69" r="1.22" fill="#6a2a0c"/>
<circle cx="302.07" cy="158.54" r="1.22" fill="#6a2a0c"/>
<circle cx="304.91" cy="158.65" r="1.22" fill="#6a2a0c"/>
<circle cx="302.51" cy="164.08" r="1.22" fill="#6a2a0c"/>
<circle cx="302.94" cy="160.20" r="1.22" fill="#6a2a0c"/>
<circle cx="305.15" cy="157.97" r="1.22" fill="#eaa23a"/>
<path d="M302.07 161.72L303.60 164.47L300.55 164.47z" fill="#eaa23a"/>
<path d="M304.76 160.52L306.28 163.26L303.23 163.26z" fill="#eaa23a"/>
<circle cx="301.48" cy="158.59" r="1.22" fill="#eaa23a"/>
<circle cx="302.22" cy="159.48" r="1.22" fill="#eaa23a"/>
<line x1="311.10" y1="221.3" x2="311.10" y2="222.9" stroke="#222" stroke-width="0.5"/>
<text transform="translate(312.80,225.10) rotate(-90)" font-size="4.9" text-anchor="end" fill="#000" stroke="#000" stroke-width="0.08">Sema3e</text>
<circle cx="313.30" cy="180.26" r="1.22" fill="#86b4ea"/>
<circle cx="311.02" cy="183.10" r="1.22" fill="#86b4ea"/>
<circle cx="309.58" cy="178.37" r="1.22" fill="#86b4ea"/>
<circle cx="309.44" cy="179.99" r="1.22" fill="#86b4ea"/>
<circle cx="309.90" cy="184.48" r="1.22" fill="#86b4ea"/>
<circle cx="309.61" cy="187.58" r="1.22" fill="#2a55c8"/>
<circle cx="313.26" cy="190.54" r="1.22" fill="#2a55c8"/>
<path d="M311.60 187.45L313.12 190.19L310.07 190.19z" fill="#2a55c8"/>
<path d="M313.32 188.30L314.85 191.05L311.80 191.05z" fill="#2a55c8"/>
<path d="M312.08 188.20L313.61 190.95L310.56 190.95z" fill="#2a55c8"/>
<circle cx="310.11" cy="174.07" r="1.22" fill="#6a2a0c"/>
<circle cx="309.54" cy="170.76" r="1.22" fill="#6a2a0c"/>
<circle cx="309.80" cy="172.84" r="1.22" fill="#6a2a0c"/>
<circle cx="311.38" cy="172.29" r="1.22" fill="#6a2a0c"/>
<circle cx="310.05" cy="174.48" r="1.22" fill="#6a2a0c"/>
<path d="M313.10 166.22L314.63 168.97L311.58 168.97z" fill="#eaa23a"/>
<path d="M310.84 169.68L312.36 172.43L309.31 172.43z" fill="#eaa23a"/>
<path d="M309.55 168.39L311.07 171.14L308.02 171.14z" fill="#eaa23a"/>
<circle cx="310.44" cy="168.89" r="1.22" fill="#eaa23a"/>
<circle cx="313.41" cy="169.34" r="1.22" fill="#eaa23a"/>
<line x1="318.75" y1="221.3" x2="318.75" y2="222.9" stroke="#222" stroke-width="0.5"/>
<text transform="translate(320.45,225.10) rotate(-90)" font-size="4.9" text-anchor="end" fill="#000" stroke="#000" stroke-width="0.08">Colec12</text>
<circle cx="317.02" cy="173.23" r="1.22" fill="#86b4ea"/>
<circle cx="316.52" cy="171.85" r="1.22" fill="#86b4ea"/>
<circle cx="319.71" cy="178.10" r="1.22" fill="#86b4ea"/>
<circle cx="320.97" cy="174.56" r="1.22" fill="#86b4ea"/>
<circle cx="318.66" cy="176.68" r="1.22" fill="#86b4ea"/>
<path d="M319.86 182.07L321.38 184.81L318.33 184.81z" fill="#2a55c8"/>
<circle cx="318.97" cy="183.97" r="1.22" fill="#2a55c8"/>
<circle cx="320.67" cy="183.24" r="1.22" fill="#2a55c8"/>
<path d="M320.74 180.79L322.27 183.54L319.22 183.54z" fill="#2a55c8"/>
<circle cx="319.64" cy="180.14" r="1.22" fill="#2a55c8"/>
<circle cx="320.14" cy="168.56" r="1.22" fill="#6a2a0c"/>
<circle cx="320.49" cy="165.88" r="1.22" fill="#6a2a0c"/>
<circle cx="318.19" cy="164.96" r="1.22" fill="#6a2a0c"/>
<circle cx="319.15" cy="166.12" r="1.22" fill="#6a2a0c"/>
<circle cx="319.42" cy="166.67" r="1.22" fill="#6a2a0c"/>
<circle cx="321.12" cy="163.35" r="1.22" fill="#eaa23a"/>
<circle cx="319.88" cy="163.58" r="1.22" fill="#eaa23a"/>
<circle cx="318.46" cy="162.03" r="1.22" fill="#eaa23a"/>
<circle cx="316.49" cy="166.46" r="1.22" fill="#eaa23a"/>
<path d="M318.66 163.83L320.18 166.57L317.13 166.57z" fill="#eaa23a"/>
<line x1="326.40" y1="221.3" x2="326.40" y2="222.9" stroke="#222" stroke-width="0.5"/>
<text transform="translate(328.10,225.10) rotate(-90)" font-size="4.9" text-anchor="end" fill="#000" stroke="#000" stroke-width="0.08">Wfdc10</text>
<circle cx="326.95" cy="180.28" r="1.22" fill="#86b4ea"/>
<circle cx="328.42" cy="178.93" r="1.22" fill="#86b4ea"/>
<circle cx="325.44" cy="180.95" r="1.22" fill="#86b4ea"/>
<circle cx="327.26" cy="181.24" r="1.22" fill="#86b4ea"/>
<circle cx="328.35" cy="181.29" r="1.22" fill="#86b4ea"/>
<path d="M327.17 182.79L328.69 185.53L325.64 185.53z" fill="#2a55c8"/>
<path d="M327.20 182.99L328.72 185.73L325.67 185.73z" fill="#2a55c8"/>
<circle cx="326.07" cy="182.22" r="1.22" fill="#2a55c8"/>
<circle cx="325.85" cy="186.48" r="1.22" fill="#2a55c8"/>
<path d="M325.52 179.79L327.04 182.53L323.99 182.53z" fill="#2a55c8"/>
<circle cx="328.07" cy="162.63" r="1.22" fill="#6a2a0c"/>
<circle cx="327.41" cy="166.19" r="1.22" fill="#6a2a0c"/>
<circle cx="324.81" cy="167.51" r="1.22" fill="#6a2a0c"/>
<circle cx="326.16" cy="165.66" r="1.22" fill="#6a2a0c"/>
<circle cx="325.99" cy="165.91" r="1.22" fill="#6a2a0c"/>
<path d="M327.00 163.55L328.53 166.30L325.48 166.30z" fill="#eaa23a"/>
<path d="M328.71 160.90L330.24 163.65L327.19 163.65z" fill="#eaa23a"/>
<path d="M324.36 165.50L325.88 168.25L322.83 168.25z" fill="#eaa23a"/>
<circle cx="327.40" cy="164.20" r="1.22" fill="#eaa23a"/>
<circle cx="325.48" cy="163.44" r="1.22" fill="#eaa23a"/>
<line x1="334.05" y1="221.3" x2="334.05" y2="222.9" stroke="#222" stroke-width="0.5"/>
<text transform="translate(335.75,225.10) rotate(-90)" font-size="4.9" text-anchor="end" fill="#000" stroke="#000" stroke-width="0.08">Lphn3</text>
<circle cx="333.83" cy="196.80" r="1.22" fill="#86b4ea"/>
<circle cx="331.77" cy="195.93" r="1.22" fill="#86b4ea"/>
<circle cx="332.33" cy="196.46" r="1.22" fill="#86b4ea"/>
<circle cx="331.88" cy="194.63" r="1.22" fill="#86b4ea"/>
<circle cx="334.67" cy="194.45" r="1.22" fill="#86b4ea"/>
<circle cx="334.79" cy="196.66" r="1.22" fill="#2a55c8"/>
<path d="M332.61 199.26L334.13 202.00L331.08 202.00z" fill="#2a55c8"/>
<path d="M332.51 195.86L334.03 198.60L330.98 198.60z" fill="#2a55c8"/>
<path d="M332.51 193.73L334.03 196.47L330.98 196.47z" fill="#2a55c8"/>
<circle cx="333.31" cy="198.60" r="1.22" fill="#2a55c8"/>
<circle cx="335.28" cy="184.17" r="1.22" fill="#6a2a0c"/>
<circle cx="333.54" cy="186.35" r="1.22" fill="#6a2a0c"/>
<circle cx="332.07" cy="187.71" r="1.22" fill="#6a2a0c"/>
<circle cx="336.13" cy="182.83" r="1.22" fill="#6a2a0c"/>
<circle cx="333.83" cy="186.51" r="1.22" fill="#6a2a0c"/>
<circle cx="334.65" cy="184.58" r="1.22" fill="#eaa23a"/>
<circle cx="335.87" cy="183.84" r="1.22" fill="#eaa23a"/>
<path d="M336.18 185.67L337.71 188.41L334.66 188.41z" fill="#eaa23a"/>
<circle cx="335.12" cy="184.81" r="1.22" fill="#eaa23a"/>
<circle cx="334.73" cy="184.53" r="1.22" fill="#eaa23a"/>
<line x1="341.70" y1="221.3" x2="341.70" y2="222.9" stroke="#222" stroke-width="0.5"/>
<text transform="translate(343.40,225.10) rotate(-90)" font-size="4.9" text-anchor="end" fill="#000" stroke="#000" stroke-width="0.08">Fam115a</text>
<circle cx="344.01" cy="191.00" r="1.22" fill="#86b4ea"/>
<circle cx="343.99" cy="193.92" r="1.22" fill="#86b4ea"/>
<circle cx="340.84" cy="186.96" r="1.22" fill="#86b4ea"/>
<circle cx="343.67" cy="189.36" r="1.22" fill="#86b4ea"/>
<circle cx="339.70" cy="191.15" r="1.22" fill="#86b4ea"/>
<circle cx="341.42" cy="188.77" r="1.22" fill="#2a55c8"/>
<circle cx="339.44" cy="190.34" r="1.22" fill="#2a55c8"/>
<circle cx="339.61" cy="188.00" r="1.22" fill="#2a55c8"/>
<path d="M343.08 189.35L344.61 192.09L341.56 192.09z" fill="#2a55c8"/>
<circle cx="340.01" cy="191.56" r="1.22" fill="#2a55c8"/>
<circle cx="342.61" cy="179.24" r="1.22" fill="#6a2a0c"/>
<circle cx="343.84" cy="176.37" r="1.22" fill="#6a2a0c"/>
<circle cx="339.71" cy="175.36" r="1.22" fill="#6a2a0c"/>
<circle cx="340.36" cy="180.03" r="1.22" fill="#6a2a0c"/>
<circle cx="342.80" cy="178.33" r="1.22" fill="#6a2a0c"/>
<circle cx="342.37" cy="179.57" r="1.22" fill="#eaa23a"/>
<path d="M340.80 179.59L342.32 182.34L339.27 182.34z" fill="#eaa23a"/>
<circle cx="343.36" cy="177.87" r="1.22" fill="#eaa23a"/>
<circle cx="343.95" cy="180.74" r="1.22" fill="#eaa23a"/>
<path d="M342.05 181.74L343.58 184.48L340.53 184.48z" fill="#eaa23a"/>
<line x1="349.35" y1="221.3" x2="349.35" y2="222.9" stroke="#222" stroke-width="0.5"/>
<text transform="translate(351.05,225.10) rotate(-90)" font-size="4.9" text-anchor="end" fill="#000" stroke="#000" stroke-width="0.08">Igf2bp2</text>
<circle cx="349.86" cy="186.85" r="1.22" fill="#86b4ea"/>
<circle cx="347.08" cy="188.48" r="1.22" fill="#86b4ea"/>
<circle cx="348.87" cy="191.12" r="1.22" fill="#86b4ea"/>
<circle cx="350.80" cy="188.54" r="1.22" fill="#86b4ea"/>
<circle cx="350.27" cy="187.00" r="1.22" fill="#86b4ea"/>
<circle cx="347.27" cy="190.43" r="1.22" fill="#2a55c8"/>
<path d="M351.38 185.79L352.91 188.54L349.86 188.54z" fill="#2a55c8"/>
<path d="M349.22 192.08L350.75 194.83L347.70 194.83z" fill="#2a55c8"/>
<path d="M351.27 186.65L352.80 189.39L349.75 189.39z" fill="#2a55c8"/>
<path d="M348.47 191.08L350.00 193.83L346.95 193.83z" fill="#2a55c8"/>
<circle cx="347.57" cy="177.89" r="1.22" fill="#6a2a0c"/>
<circle cx="350.69" cy="178.15" r="1.22" fill="#6a2a0c"/>
<circle cx="348.04" cy="182.15" r="1.22" fill="#6a2a0c"/>
<circle cx="350.25" cy="181.13" r="1.22" fill="#6a2a0c"/>
<circle cx="349.92" cy="180.21" r="1.22" fill="#6a2a0c"/>
<circle cx="347.45" cy="179.08" r="1.22" fill="#eaa23a"/>
<path d="M348.15 177.58L349.68 180.32L346.63 180.32z" fill="#eaa23a"/>
<path d="M349.50 177.53L351.02 180.28L347.97 180.28z" fill="#eaa23a"/>
<path d="M349.49 174.67L351.02 177.41L347.97 177.41z" fill="#eaa23a"/>
<circle cx="347.93" cy="178.86" r="1.22" fill="#eaa23a"/>
<line x1="357.00" y1="221.3" x2="357.00" y2="222.9" stroke="#222" stroke-width="0.5"/>
<text transform="translate(358.70,225.10) rotate(-90)" font-size="4.9" text-anchor="end" fill="#000" stroke="#000" stroke-width="0.08">Wwtr1</text>
<circle cx="358.69" cy="182.94" r="1.22" fill="#86b4ea"/>
<circle cx="357.54" cy="182.67" r="1.22" fill="#86b4ea"/>
<circle cx="358.16" cy="185.22" r="1.22" fill="#86b4ea"/>
<circle cx="358.49" cy="183.35" r="1.22" fill="#86b4ea"/>
<circle cx="356.11" cy="185.69" r="1.22" fill="#86b4ea"/>
<path d="M359.03 183.09L360.55 185.84L357.50 185.84z" fill="#2a55c8"/>
<path d="M355.24 187.83L356.77 190.57L353.72 190.57z" fill="#2a55c8"/>
<path d="M358.09 183.97L359.61 186.71L356.56 186.71z" fill="#2a55c8"/>
<circle cx="356.62" cy="188.36" r="1.22" fill="#2a55c8"/>
<path d="M355.20 185.98L356.73 188.73L353.68 188.73z" fill="#2a55c8"/>
<circle cx="355.56" cy="175.11" r="1.22" fill="#6a2a0c"/>
<circle cx="357.88" cy="174.93" r="1.22" fill="#6a2a0c"/>
<circle cx="355.15" cy="179.33" r="1.22" fill="#6a2a0c"/>
<circle cx="357.03" cy="172.71" r="1.22" fill="#6a2a0c"/>
<circle cx="357.89" cy="175.36" r="1.22" fill="#6a2a0c"/>
<path d="M355.51 169.28L357.03 172.03L353.98 172.03z" fill="#eaa23a"/>
<circle cx="357.25" cy="173.36" r="1.22" fill="#eaa23a"/>
<path d="M357.33 171.75L358.85 174.50L355.80 174.50z" fill="#eaa23a"/>
<circle cx="358.63" cy="173.46" r="1.22" fill="#eaa23a"/>
<path d="M359.05 172.57L360.57 175.32L357.52 175.32z" fill="#eaa23a"/>
<line x1="364.65" y1="221.3" x2="364.65" y2="222.9" stroke="#222" stroke-width="0.5"/>
<text transform="translate(366.35,225.10) rotate(-90)" font-size="4.9" text-anchor="end" fill="#000" stroke="#000" stroke-width="0.08">Erc2</text>
<circle cx="364.47" cy="206.83" r="1.22" fill="#86b4ea"/>
<circle cx="365.92" cy="204.38" r="1.22" fill="#86b4ea"/>
<circle cx="364.72" cy="201.72" r="1.22" fill="#86b4ea"/>
<circle cx="364.31" cy="204.49" r="1.22" fill="#86b4ea"/>
<circle cx="365.61" cy="202.43" r="1.22" fill="#86b4ea"/>
<path d="M366.30 201.43L367.83 204.17L364.78 204.17z" fill="#2a55c8"/>
<path d="M364.20 198.73L365.72 201.47L362.67 201.47z" fill="#2a55c8"/>
<circle cx="363.04" cy="203.98" r="1.22" fill="#2a55c8"/>
<circle cx="366.10" cy="206.98" r="1.22" fill="#2a55c8"/>
<circle cx="366.38" cy="203.50" r="1.22" fill="#2a55c8"/>
<circle cx="364.67" cy="192.63" r="1.22" fill="#6a2a0c"/>
<circle cx="366.97" cy="196.07" r="1.22" fill="#6a2a0c"/>
<circle cx="366.62" cy="195.15" r="1.22" fill="#6a2a0c"/>
<circle cx="365.82" cy="193.34" r="1.22" fill="#6a2a0c"/>
<circle cx="364.20" cy="195.26" r="1.22" fill="#6a2a0c"/>
<circle cx="366.55" cy="190.23" r="1.22" fill="#eaa23a"/>
<path d="M365.92 190.94L367.45 193.69L364.40 193.69z" fill="#eaa23a"/>
<path d="M365.72 189.07L367.24 191.81L364.19 191.81z" fill="#eaa23a"/>
<path d="M362.30 190.88L363.83 193.63L360.78 193.63z" fill="#eaa23a"/>
<circle cx="365.32" cy="195.25" r="1.22" fill="#eaa23a"/>
<line x1="372.30" y1="221.3" x2="372.30" y2="222.9" stroke="#222" stroke-width="0.5"/>
<text transform="translate(374.00,225.10) rotate(-90)" font-size="4.9" text-anchor="end" fill="#000" stroke="#000" stroke-width="0.08">Rasef</text>
<circle cx="373.10" cy="203.16" r="1.22" fill="#86b4ea"/>
<circle cx="371.52" cy="207.04" r="1.22" fill="#86b4ea"/>
<circle cx="372.46" cy="201.40" r="1.22" fill="#86b4ea"/>
<circle cx="371.77" cy="200.67" r="1.22" fill="#86b4ea"/>
<circle cx="373.27" cy="205.29" r="1.22" fill="#86b4ea"/>
<circle cx="373.56" cy="202.67" r="1.22" fill="#2a55c8"/>
<path d="M373.45 203.65L374.97 206.39L371.92 206.39z" fill="#2a55c8"/>
<path d="M371.83 201.51L373.35 204.25L370.30 204.25z" fill="#2a55c8"/>
<path d="M370.37 201.74L371.90 204.49L368.85 204.49z" fill="#2a55c8"/>
<circle cx="374.25" cy="204.34" r="1.22" fill="#2a55c8"/>
<circle cx="372.63" cy="191.04" r="1.22" fill="#6a2a0c"/>
<circle cx="374.68" cy="195.58" r="1.22" fill="#6a2a0c"/>
<circle cx="370.27" cy="193.66" r="1.22" fill="#6a2a0c"/>
<circle cx="372.77" cy="193.28" r="1.22" fill="#6a2a0c"/>
<circle cx="374.36" cy="195.85" r="1.22" fill="#6a2a0c"/>
<path d="M370.67 190.31L372.19 193.05L369.14 193.05z" fill="#eaa23a"/>
<path d="M372.83 191.90L374.36 194.65L371.31 194.65z" fill="#eaa23a"/>
<path d="M374.44 192.73L375.96 195.48L372.91 195.48z" fill="#eaa23a"/>
<path d="M371.65 188.43L373.18 191.17L370.13 191.17z" fill="#eaa23a"/>
<circle cx="373.04" cy="191.97" r="1.22" fill="#eaa23a"/>
<line x1="379.95" y1="221.3" x2="379.95" y2="222.9" stroke="#222" stroke-width="0.5"/>
<text transform="translate(381.65,225.10) rotate(-90)" font-size="4.9" text-anchor="end" fill="#000" stroke="#000" stroke-width="0.08">Prickle2</text>
<circle cx="378.97" cy="190.64" r="1.22" fill="#86b4ea"/>
<circle cx="377.62" cy="194.08" r="1.22" fill="#86b4ea"/>
<circle cx="378.30" cy="191.26" r="1.22" fill="#86b4ea"/>
<circle cx="381.17" cy="191.79" r="1.22" fill="#86b4ea"/>
<circle cx="381.14" cy="188.24" r="1.22" fill="#86b4ea"/>
<circle cx="377.79" cy="194.88" r="1.22" fill="#2a55c8"/>
<path d="M381.90 191.53L383.42 194.28L380.37 194.28z" fill="#2a55c8"/>
<circle cx="379.84" cy="192.14" r="1.22" fill="#2a55c8"/>
<circle cx="382.05" cy="192.48" r="1.22" fill="#2a55c8"/>
<circle cx="379.80" cy="194.61" r="1.22" fill="#2a55c8"/>
<circle cx="378.10" cy="184.26" r="1.22" fill="#6a2a0c"/>
<circle cx="380.55" cy="180.98" r="1.22" fill="#6a2a0c"/>
<circle cx="377.80" cy="182.06" r="1.22" fill="#6a2a0c"/>
<circle cx="380.08" cy="183.59" r="1.22" fill="#6a2a0c"/>
<circle cx="380.76" cy="184.65" r="1.22" fill="#6a2a0c"/>
<path d="M379.74 181.97L381.26 184.72L378.21 184.72z" fill="#eaa23a"/>
<circle cx="381.28" cy="180.45" r="1.22" fill="#eaa23a"/>
<circle cx="382.34" cy="181.16" r="1.22" fill="#eaa23a"/>
<circle cx="378.10" cy="181.97" r="1.22" fill="#eaa23a"/>
<circle cx="381.31" cy="180.76" r="1.22" fill="#eaa23a"/>
<line x1="387.60" y1="221.3" x2="387.60" y2="222.9" stroke="#222" stroke-width="0.5"/>
<text transform="translate(389.30,225.10) rotate(-90)" font-size="4.9" text-anchor="end" fill="#000" stroke="#000" stroke-width="0.08">Cdc42bpa</text>
<circle cx="388.49" cy="198.32" r="1.22" fill="#86b4ea"/>
<circle cx="387.91" cy="200.37" r="1.22" fill="#86b4ea"/>
<circle cx="388.82" cy="197.07" r="1.22" fill="#86b4ea"/>
<circle cx="386.11" cy="197.83" r="1.22" fill="#86b4ea"/>
<circle cx="389.60" cy="199.28" r="1.22" fill="#86b4ea"/>
<path d="M389.42 203.51L390.94 206.25L387.89 206.25z" fill="#2a55c8"/>
<circle cx="387.24" cy="201.28" r="1.22" fill="#2a55c8"/>
<circle cx="385.69" cy="200.47" r="1.22" fill="#2a55c8"/>
<circle cx="388.45" cy="200.63" r="1.22" fill="#2a55c8"/>
<path d="M388.23 198.74L389.75 201.49L386.70 201.49z" fill="#2a55c8"/>
<circle cx="386.85" cy="190.00" r="1.22" fill="#6a2a0c"/>
<circle cx="388.78" cy="191.41" r="1.22" fill="#6a2a0c"/>
<circle cx="385.77" cy="191.62" r="1.22" fill="#6a2a0c"/>
<circle cx="389.08" cy="190.63" r="1.22" fill="#6a2a0c"/>
<circle cx="386.22" cy="189.02" r="1.22" fill="#6a2a0c"/>
<path d="M387.24 186.38L388.76 189.13L385.71 189.13z" fill="#eaa23a"/>
<circle cx="388.34" cy="190.75" r="1.22" fill="#eaa23a"/>
<circle cx="386.76" cy="188.47" r="1.22" fill="#eaa23a"/>
<path d="M387.25 188.48L388.78 191.22L385.73 191.22z" fill="#eaa23a"/>
<circle cx="385.67" cy="185.99" r="1.22" fill="#eaa23a"/>
<line x1="395.25" y1="221.3" x2="395.25" y2="222.9" stroke="#222" stroke-width="0.5"/>
<text transform="translate(396.95,225.10) rotate(-90)" font-size="4.9" text-anchor="end" fill="#000" stroke="#000" stroke-width="0.08">Fam135a</text>
<circle cx="395.56" cy="191.92" r="1.22" fill="#86b4ea"/>
<circle cx="395.18" cy="191.61" r="1.22" fill="#86b4ea"/>
<circle cx="396.57" cy="190.64" r="1.22" fill="#86b4ea"/>
<circle cx="393.22" cy="189.83" r="1.22" fill="#86b4ea"/>
<circle cx="393.24" cy="191.86" r="1.22" fill="#86b4ea"/>
<circle cx="394.31" cy="193.87" r="1.22" fill="#2a55c8"/>
<path d="M393.54 189.21L395.06 191.95L392.01 191.95z" fill="#2a55c8"/>
<path d="M396.33 188.32L397.86 191.07L394.81 191.07z" fill="#2a55c8"/>
<circle cx="395.58" cy="193.37" r="1.22" fill="#2a55c8"/>
<circle cx="397.36" cy="193.18" r="1.22" fill="#2a55c8"/>
<circle cx="394.31" cy="180.20" r="1.22" fill="#6a2a0c"/>
<circle cx="394.37" cy="184.50" r="1.22" fill="#6a2a0c"/>
<circle cx="397.14" cy="179.80" r="1.22" fill="#6a2a0c"/>
<circle cx="394.04" cy="185.77" r="1.22" fill="#6a2a0c"/>
<circle cx="394.59" cy="182.12" r="1.22" fill="#6a2a0c"/>
<path d="M394.75 180.77L396.27 183.51L393.22 183.51z" fill="#eaa23a"/>
<circle cx="396.68" cy="181.76" r="1.22" fill="#eaa23a"/>
<circle cx="396.86" cy="183.18" r="1.22" fill="#eaa23a"/>
<path d="M397.08 180.81L398.60 183.55L395.55 183.55z" fill="#eaa23a"/>
<circle cx="392.96" cy="183.72" r="1.22" fill="#eaa23a"/>
<line x1="402.90" y1="221.3" x2="402.90" y2="222.9" stroke="#222" stroke-width="0.5"/>
<text transform="translate(404.60,225.10) rotate(-90)" font-size="4.9" text-anchor="end" fill="#000" stroke="#000" stroke-width="0.08">Meis1</text>
<circle cx="405.14" cy="196.97" r="1.22" fill="#86b4ea"/>
<circle cx="403.63" cy="198.59" r="1.22" fill="#86b4ea"/>
<circle cx="403.12" cy="199.47" r="1.22" fill="#86b4ea"/>
<circle cx="404.28" cy="198.62" r="1.22" fill="#86b4ea"/>
<circle cx="404.04" cy="199.89" r="1.22" fill="#86b4ea"/>
<path d="M404.82 199.24L406.34 201.99L403.29 201.99z" fill="#2a55c8"/>
<circle cx="404.08" cy="199.71" r="1.22" fill="#2a55c8"/>
<path d="M401.68 198.10L403.20 200.84L400.15 200.84z" fill="#2a55c8"/>
<path d="M404.17 199.07L405.70 201.82L402.65 201.82z" fill="#2a55c8"/>
<circle cx="402.12" cy="198.18" r="1.22" fill="#2a55c8"/>
<circle cx="403.08" cy="193.67" r="1.22" fill="#6a2a0c"/>
<circle cx="403.96" cy="192.79" r="1.22" fill="#6a2a0c"/>
<circle cx="402.47" cy="193.62" r="1.22" fill="#6a2a0c"/>
<circle cx="404.47" cy="190.75" r="1.22" fill="#6a2a0c"/>
<circle cx="404.37" cy="192.88" r="1.22" fill="#6a2a0c"/>
<circle cx="404.50" cy="190.43" r="1.22" fill="#eaa23a"/>
<circle cx="403.01" cy="196.05" r="1.22" fill="#eaa23a"/>
<path d="M404.35 191.32L405.88 194.06L402.83 194.06z" fill="#eaa23a"/>
<circle cx="404.06" cy="192.63" r="1.22" fill="#eaa23a"/>
<path d="M402.30 192.50L403.83 195.24L400.78 195.24z" fill="#eaa23a"/>
<line x1="410.55" y1="221.3" x2="410.55" y2="222.9" stroke="#222" stroke-width="0.5"/>
<text transform="translate(412.25,225.10) rotate(-90)" font-size="4.9" text-anchor="end" fill="#000" stroke="#000" stroke-width="0.08">Muslin1</text>
<circle cx="409.55" cy="187.22" r="1.22" fill="#86b4ea"/>
<circle cx="412.80" cy="188.52" r="1.22" fill="#86b4ea"/>
<circle cx="408.70" cy="188.14" r="1.22" fill="#86b4ea"/>
<circle cx="411.26" cy="187.25" r="1.22" fill="#86b4ea"/>
<circle cx="408.45" cy="186.86" r="1.22" fill="#86b4ea"/>
<circle cx="410.35" cy="186.68" r="1.22" fill="#2a55c8"/>
<path d="M408.67 186.71L410.20 189.46L407.15 189.46z" fill="#2a55c8"/>
<path d="M409.19 186.02L410.72 188.77L407.67 188.77z" fill="#2a55c8"/>
<path d="M409.23 185.79L410.75 188.54L407.70 188.54z" fill="#2a55c8"/>
<path d="M409.50 183.89L411.02 186.63L407.97 186.63z" fill="#2a55c8"/>
<circle cx="410.78" cy="178.75" r="1.22" fill="#6a2a0c"/>
<circle cx="412.07" cy="177.10" r="1.22" fill="#6a2a0c"/>
<circle cx="412.41" cy="177.27" r="1.22" fill="#6a2a0c"/>
<circle cx="412.54" cy="178.86" r="1.22" fill="#6a2a0c"/>
<circle cx="412.74" cy="177.42" r="1.22" fill="#6a2a0c"/>
<path d="M410.47 176.79L411.99 179.54L408.94 179.54z" fill="#eaa23a"/>
<path d="M412.00 179.09L413.52 181.84L410.47 181.84z" fill="#eaa23a"/>
<circle cx="410.68" cy="177.76" r="1.22" fill="#eaa23a"/>
<path d="M411.31 174.01L412.83 176.76L409.78 176.76z" fill="#eaa23a"/>
<path d="M408.20 180.36L409.73 183.11L406.68 183.11z" fill="#eaa23a"/>
<line x1="418.20" y1="221.3" x2="418.20" y2="222.9" stroke="#222" stroke-width="0.5"/>
<text transform="translate(419.90,225.10) rotate(-90)" font-size="4.9" text-anchor="end" fill="#000" stroke="#000" stroke-width="0.08">Bmpr1a</text>
<circle cx="419.22" cy="196.99" r="1.22" fill="#86b4ea"/>
<circle cx="418.71" cy="201.60" r="1.22" fill="#86b4ea"/>
<circle cx="417.34" cy="199.83" r="1.22" fill="#86b4ea"/>
<circle cx="417.05" cy="200.13" r="1.22" fill="#86b4ea"/>
<circle cx="418.86" cy="200.74" r="1.22" fill="#86b4ea"/>
<path d="M420.57 197.25L422.09 199.99L419.04 199.99z" fill="#2a55c8"/>
<path d="M419.50 197.84L421.02 200.58L417.97 200.58z" fill="#2a55c8"/>
<circle cx="419.74" cy="200.16" r="1.22" fill="#2a55c8"/>
<circle cx="417.10" cy="200.72" r="1.22" fill="#2a55c8"/>
<path d="M416.27 198.18L417.79 200.92L414.74 200.92z" fill="#2a55c8"/>
<circle cx="418.62" cy="187.92" r="1.22" fill="#6a2a0c"/>
<circle cx="419.92" cy="193.28" r="1.22" fill="#6a2a0c"/>
<circle cx="417.80" cy="191.32" r="1.22" fill="#6a2a0c"/>
<circle cx="420.20" cy="195.43" r="1.22" fill="#6a2a0c"/>
<circle cx="416.80" cy="195.26" r="1.22" fill="#6a2a0c"/>
<circle cx="418.41" cy="193.09" r="1.22" fill="#eaa23a"/>
<path d="M417.29 191.61L418.82 194.36L415.77 194.36z" fill="#eaa23a"/>
<path d="M416.16 192.61L417.69 195.35L414.64 195.35z" fill="#eaa23a"/>
<circle cx="417.53" cy="188.41" r="1.22" fill="#eaa23a"/>
<path d="M416.31 190.31L417.83 193.06L414.78 193.06z" fill="#eaa23a"/>
<line x1="425.85" y1="221.3" x2="425.85" y2="222.9" stroke="#222" stroke-width="0.5"/>
<text transform="translate(427.55,225.10) rotate(-90)" font-size="4.9" text-anchor="end" fill="#000" stroke="#000" stroke-width="0.08">Lrig3</text>
<circle cx="427.43" cy="185.47" r="1.22" fill="#86b4ea"/>
<circle cx="426.59" cy="191.24" r="1.22" fill="#86b4ea"/>
<circle cx="426.86" cy="191.88" r="1.22" fill="#86b4ea"/>
<circle cx="424.59" cy="190.24" r="1.22" fill="#86b4ea"/>
<circle cx="423.50" cy="188.24" r="1.22" fill="#86b4ea"/>
<circle cx="428.21" cy="190.45" r="1.22" fill="#2a55c8"/>
<path d="M424.84 190.40L426.37 193.14L423.32 193.14z" fill="#2a55c8"/>
<path d="M426.04 192.16L427.57 194.90L424.52 194.90z" fill="#2a55c8"/>
<path d="M426.65 188.77L428.18 191.51L425.13 191.51z" fill="#2a55c8"/>
<circle cx="424.41" cy="192.80" r="1.22" fill="#2a55c8"/>
<circle cx="426.15" cy="181.14" r="1.22" fill="#6a2a0c"/>
<circle cx="426.92" cy="187.11" r="1.22" fill="#6a2a0c"/>
<circle cx="423.89" cy="181.57" r="1.22" fill="#6a2a0c"/>
<circle cx="424.13" cy="186.23" r="1.22" fill="#6a2a0c"/>
<circle cx="426.85" cy="185.53" r="1.22" fill="#6a2a0c"/>
<path d="M424.31 183.26L425.84 186.01L422.79 186.01z" fill="#eaa23a"/>
<path d="M423.88 183.00L425.41 185.74L422.36 185.74z" fill="#eaa23a"/>
<path d="M424.20 179.63L425.73 182.37L422.68 182.37z" fill="#eaa23a"/>
<path d="M427.87 181.13L429.39 183.88L426.34 183.88z" fill="#eaa23a"/>
<circle cx="425.91" cy="183.64" r="1.22" fill="#eaa23a"/>
<line x1="433.50" y1="221.3" x2="433.50" y2="222.9" stroke="#222" stroke-width="0.5"/>
<text transform="translate(435.20,225.10) rotate(-90)" font-size="4.9" text-anchor="end" fill="#000" stroke="#000" stroke-width="0.08">9530059O14Rik</text>
<circle cx="432.95" cy="187.03" r="1.22" fill="#86b4ea"/>
<circle cx="432.69" cy="183.30" r="1.22" fill="#86b4ea"/>
<circle cx="433.02" cy="186.40" r="1.22" fill="#86b4ea"/>
<circle cx="434.46" cy="186.84" r="1.22" fill="#86b4ea"/>
<circle cx="434.27" cy="189.88" r="1.22" fill="#86b4ea"/>
<path d="M434.02 185.93L435.55 188.67L432.50 188.67z" fill="#2a55c8"/>
<path d="M434.22 185.48L435.75 188.22L432.70 188.22z" fill="#2a55c8"/>
<circle cx="432.91" cy="189.28" r="1.22" fill="#2a55c8"/>
<path d="M434.03 187.11L435.56 189.86L432.51 189.86z" fill="#2a55c8"/>
<circle cx="434.78" cy="184.50" r="1.22" fill="#2a55c8"/>
<circle cx="433.50" cy="171.34" r="1.22" fill="#6a2a0c"/>
<circle cx="431.78" cy="172.46" r="1.22" fill="#6a2a0c"/>
<circle cx="433.58" cy="171.74" r="1.22" fill="#6a2a0c"/>
<circle cx="434.53" cy="167.73" r="1.22" fill="#6a2a0c"/>
<circle cx="435.64" cy="173.59" r="1.22" fill="#6a2a0c"/>
<path d="M434.11 165.83L435.64 168.57L432.59 168.57z" fill="#eaa23a"/>
<circle cx="433.87" cy="169.58" r="1.22" fill="#eaa23a"/>
<circle cx="432.68" cy="169.08" r="1.22" fill="#eaa23a"/>
<circle cx="431.70" cy="167.08" r="1.22" fill="#eaa23a"/>
<circle cx="431.75" cy="169.96" r="1.22" fill="#eaa23a"/>
<line x1="441.15" y1="221.3" x2="441.15" y2="222.9" stroke="#222" stroke-width="0.5"/>
<text transform="translate(442.85,225.10) rotate(-90)" font-size="4.9" text-anchor="end" fill="#000" stroke="#000" stroke-width="0.08">G730013B05Rik</text>
<circle cx="441.44" cy="195.84" r="1.22" fill="#86b4ea"/>
<circle cx="440.02" cy="197.47" r="1.22" fill="#86b4ea"/>
<circle cx="442.67" cy="202.89" r="1.22" fill="#86b4ea"/>
<circle cx="441.64" cy="195.03" r="1.22" fill="#86b4ea"/>
<circle cx="440.14" cy="200.55" r="1.22" fill="#86b4ea"/>
<path d="M443.06 201.24L444.58 203.98L441.53 203.98z" fill="#2a55c8"/>
<circle cx="439.64" cy="197.30" r="1.22" fill="#2a55c8"/>
<path d="M439.12 197.32L440.64 200.07L437.59 200.07z" fill="#2a55c8"/>
<circle cx="443.26" cy="202.68" r="1.22" fill="#2a55c8"/>
<circle cx="440.23" cy="205.26" r="1.22" fill="#2a55c8"/>
<circle cx="441.59" cy="186.54" r="1.22" fill="#6a2a0c"/>
<circle cx="442.61" cy="184.89" r="1.22" fill="#6a2a0c"/>
<circle cx="441.00" cy="187.89" r="1.22" fill="#6a2a0c"/>
<circle cx="439.44" cy="186.80" r="1.22" fill="#6a2a0c"/>
<circle cx="439.58" cy="184.88" r="1.22" fill="#6a2a0c"/>
<path d="M441.24 185.56L442.77 188.31L439.72 188.31z" fill="#eaa23a"/>
<path d="M441.83 182.51L443.36 185.26L440.31 185.26z" fill="#eaa23a"/>
<path d="M441.97 183.33L443.50 186.07L440.45 186.07z" fill="#eaa23a"/>
<path d="M441.01 186.40L442.53 189.15L439.48 189.15z" fill="#eaa23a"/>
<circle cx="441.74" cy="184.91" r="1.22" fill="#eaa23a"/>
<line x1="448.80" y1="221.3" x2="448.80" y2="222.9" stroke="#222" stroke-width="0.5"/>
<text transform="translate(450.50,225.10) rotate(-90)" font-size="4.9" text-anchor="end" fill="#000" stroke="#000" stroke-width="0.08">Gm10719</text>
<circle cx="448.73" cy="201.68" r="1.22" fill="#86b4ea"/>
<circle cx="451.17" cy="198.48" r="1.22" fill="#86b4ea"/>
<circle cx="448.36" cy="203.42" r="1.22" fill="#86b4ea"/>
<circle cx="448.48" cy="198.47" r="1.22" fill="#86b4ea"/>
<circle cx="448.92" cy="197.90" r="1.22" fill="#86b4ea"/>
<path d="M448.92 199.55L450.45 202.29L447.40 202.29z" fill="#2a55c8"/>
<circle cx="446.66" cy="204.00" r="1.22" fill="#2a55c8"/>
<circle cx="450.72" cy="201.76" r="1.22" fill="#2a55c8"/>
<circle cx="447.86" cy="200.17" r="1.22" fill="#2a55c8"/>
<path d="M446.74 199.39L448.26 202.13L445.21 202.13z" fill="#2a55c8"/>
<circle cx="448.30" cy="191.49" r="1.22" fill="#6a2a0c"/>
<circle cx="446.65" cy="194.24" r="1.22" fill="#6a2a0c"/>
<circle cx="447.55" cy="192.77" r="1.22" fill="#6a2a0c"/>
<circle cx="447.87" cy="191.43" r="1.22" fill="#6a2a0c"/>
<circle cx="446.73" cy="192.47" r="1.22" fill="#6a2a0c"/>
<circle cx="450.77" cy="182.92" r="1.22" fill="#eaa23a"/>
<circle cx="448.42" cy="180.25" r="1.22" fill="#eaa23a"/>
<circle cx="447.46" cy="178.94" r="1.22" fill="#eaa23a"/>
<circle cx="446.87" cy="178.50" r="1.22" fill="#eaa23a"/>
<circle cx="446.99" cy="180.49" r="1.22" fill="#eaa23a"/>
<line x1="456.45" y1="221.3" x2="456.45" y2="222.9" stroke="#222" stroke-width="0.5"/>
<text transform="translate(458.15,225.10) rotate(-90)" font-size="4.9" text-anchor="end" fill="#000" stroke="#000" stroke-width="0.08">Gm10718</text>
<circle cx="455.22" cy="205.01" r="1.22" fill="#86b4ea"/>
<circle cx="455.49" cy="204.94" r="1.22" fill="#86b4ea"/>
<circle cx="458.35" cy="204.66" r="1.22" fill="#86b4ea"/>
<circle cx="457.96" cy="205.54" r="1.22" fill="#86b4ea"/>
<circle cx="456.86" cy="203.58" r="1.22" fill="#86b4ea"/>
<path d="M454.27 205.61L455.80 208.35L452.75 208.35z" fill="#2a55c8"/>
<circle cx="456.44" cy="207.36" r="1.22" fill="#2a55c8"/>
<path d="M458.74 203.64L460.27 206.38L457.22 206.38z" fill="#2a55c8"/>
<circle cx="458.48" cy="206.51" r="1.22" fill="#2a55c8"/>
<circle cx="454.99" cy="207.57" r="1.22" fill="#2a55c8"/>
<circle cx="454.88" cy="199.13" r="1.22" fill="#6a2a0c"/>
<circle cx="458.27" cy="202.03" r="1.22" fill="#6a2a0c"/>
<circle cx="457.09" cy="201.61" r="1.22" fill="#6a2a0c"/>
<circle cx="454.97" cy="200.35" r="1.22" fill="#6a2a0c"/>
<circle cx="454.56" cy="200.81" r="1.22" fill="#6a2a0c"/>
<path d="M457.53 180.18L459.06 182.92L456.01 182.92z" fill="#eaa23a"/>
<path d="M457.47 183.57L459.00 186.31L455.95 186.31z" fill="#eaa23a"/>
<circle cx="457.39" cy="179.94" r="1.22" fill="#eaa23a"/>
<path d="M455.12 179.88L456.65 182.63L453.60 182.63z" fill="#eaa23a"/>
<path d="M457.46 180.83L458.99 183.58L455.94 183.58z" fill="#eaa23a"/>
<line x1="464.10" y1="221.3" x2="464.10" y2="222.9" stroke="#222" stroke-width="0.5"/>
<text transform="translate(465.80,225.10) rotate(-90)" font-size="4.9" text-anchor="end" fill="#000" stroke="#000" stroke-width="0.08">1810011O10Rik</text>
<circle cx="464.89" cy="207.80" r="1.22" fill="#86b4ea"/>
<circle cx="465.49" cy="208.46" r="1.22" fill="#86b4ea"/>
<circle cx="465.95" cy="205.37" r="1.22" fill="#86b4ea"/>
<circle cx="464.53" cy="209.17" r="1.22" fill="#86b4ea"/>
<circle cx="466.15" cy="207.44" r="1.22" fill="#86b4ea"/>
<path d="M464.90 207.25L466.43 209.99L463.38 209.99z" fill="#2a55c8"/>
<path d="M466.42 205.21L467.94 207.95L464.89 207.95z" fill="#2a55c8"/>
<circle cx="464.24" cy="206.63" r="1.22" fill="#2a55c8"/>
<path d="M463.07 208.09L464.59 210.83L461.54 210.83z" fill="#2a55c8"/>
<path d="M465.56 206.41L467.08 209.16L464.03 209.16z" fill="#2a55c8"/>
<circle cx="462.88" cy="205.43" r="1.22" fill="#6a2a0c"/>
<circle cx="463.04" cy="209.09" r="1.22" fill="#6a2a0c"/>
<circle cx="466.01" cy="204.98" r="1.22" fill="#6a2a0c"/>
<circle cx="466.44" cy="205.75" r="1.22" fill="#6a2a0c"/>
<circle cx="465.30" cy="208.09" r="1.22" fill="#6a2a0c"/>
<circle cx="463.55" cy="205.38" r="1.22" fill="#eaa23a"/>
<circle cx="464.37" cy="203.80" r="1.22" fill="#eaa23a"/>
<circle cx="463.43" cy="204.96" r="1.22" fill="#eaa23a"/>
<circle cx="464.13" cy="205.41" r="1.22" fill="#eaa23a"/>
<circle cx="464.98" cy="202.80" r="1.22" fill="#eaa23a"/>
<text transform="translate(272.50,185.50) rotate(-90)" font-size="4.5" text-anchor="middle" fill="#000" stroke="#000" stroke-width="0.08">Relative mRNA Expression</text>
<text transform="translate(277.40,185.50) rotate(-90)" font-size="4.365" text-anchor="middle" fill="#000" stroke="#000" stroke-width="0.08">Host &gt; Donor-derived Alv Macs</text>
<line x1="291.8" y1="274.5" x2="291.8" y2="347.9" stroke="#222" stroke-width="0.7"/>
<line x1="291.8" y1="347.9" x2="412.5" y2="347.9" stroke="#222" stroke-width="0.7"/>
<line x1="290.6" y1="275.00" x2="291.8" y2="275.00" stroke="#222" stroke-width="0.5"/>
<text x="290.30" y="276.30" font-size="3.7" text-anchor="end" fill="#000" stroke="#000" stroke-width="0.08">1000</text>
<line x1="290.6" y1="299.40" x2="291.8" y2="299.40" stroke="#222" stroke-width="0.5"/>
<text x="290.30" y="300.70" font-size="3.7" text-anchor="end" fill="#000" stroke="#000" stroke-width="0.08">100</text>
<line x1="290.6" y1="323.80" x2="291.8" y2="323.80" stroke="#222" stroke-width="0.5"/>
<text x="290.30" y="325.10" font-size="3.7" text-anchor="end" fill="#000" stroke="#000" stroke-width="0.08">10</text>
<line x1="290.6" y1="348.20" x2="291.8" y2="348.20" stroke="#222" stroke-width="0.5"/>
<text x="290.30" y="349.50" font-size="3.7" text-anchor="end" fill="#000" stroke="#000" stroke-width="0.08">1</text>
<line x1="297.50" y1="347.9" x2="297.50" y2="349.5" stroke="#222" stroke-width="0.5"/>
<text transform="translate(299.20,351.70) rotate(-90)" font-size="4.5" text-anchor="end" fill="#000" stroke="#000" stroke-width="0.08">C1qb</text>
<circle cx="299.18" cy="300.13" r="1.22" fill="#86b4ea"/>
<circle cx="295.49" cy="295.96" r="1.22" fill="#86b4ea"/>
<circle cx="297.14" cy="293.90" r="1.22" fill="#86b4ea"/>
<circle cx="299.14" cy="294.49" r="1.22" fill="#86b4ea"/>
<circle cx="295.92" cy="299.12" r="1.22" fill="#86b4ea"/>
<path d="M297.43 294.72L298.96 297.47L295.91 297.47z" fill="#2a55c8"/>
<circle cx="294.71" cy="299.97" r="1.22" fill="#2a55c8"/>
<circle cx="298.79" cy="302.46" r="1.22" fill="#2a55c8"/>
<path d="M295.41 306.33L296.94 309.08L293.89 309.08z" fill="#2a55c8"/>
<path d="M297.48 301.55L299.00 304.30L295.95 304.30z" fill="#2a55c8"/>
<circle cx="299.29" cy="318.03" r="1.22" fill="#6a2a0c"/>
<circle cx="294.94" cy="319.26" r="1.22" fill="#6a2a0c"/>
<circle cx="297.76" cy="320.24" r="1.22" fill="#6a2a0c"/>
<circle cx="299.25" cy="318.05" r="1.22" fill="#6a2a0c"/>
<circle cx="296.37" cy="318.97" r="1.22" fill="#6a2a0c"/>
<path d="M294.75 315.64L296.28 318.38L293.23 318.38z" fill="#eaa23a"/>
<circle cx="296.09" cy="315.40" r="1.22" fill="#eaa23a"/>
<circle cx="295.03" cy="315.45" r="1.22" fill="#eaa23a"/>
<circle cx="295.46" cy="316.92" r="1.22" fill="#eaa23a"/>
<circle cx="299.49" cy="317.30" r="1.22" fill="#eaa23a"/>
<line x1="308.55" y1="347.9" x2="308.55" y2="349.5" stroke="#222" stroke-width="0.5"/>
<text transform="translate(310.25,351.70) rotate(-90)" font-size="4.5" text-anchor="end" fill="#000" stroke="#000" stroke-width="0.08">Plbd1</text>
<circle cx="307.74" cy="302.48" r="1.22" fill="#86b4ea"/>
<circle cx="306.85" cy="301.37" r="1.22" fill="#86b4ea"/>
<circle cx="308.49" cy="301.18" r="1.22" fill="#86b4ea"/>
<circle cx="310.12" cy="300.51" r="1.22" fill="#86b4ea"/>
<circle cx="308.28" cy="301.71" r="1.22" fill="#86b4ea"/>
<path d="M310.02 301.45L311.54 304.20L308.49 304.20z" fill="#2a55c8"/>
<path d="M306.40 301.75L307.92 304.49L304.87 304.49z" fill="#2a55c8"/>
<path d="M307.34 305.12L308.86 307.86L305.81 307.86z" fill="#2a55c8"/>
<circle cx="311.53" cy="303.46" r="1.22" fill="#2a55c8"/>
<path d="M309.95 301.74L311.48 304.49L308.43 304.49z" fill="#2a55c8"/>
<circle cx="307.00" cy="320.11" r="1.22" fill="#6a2a0c"/>
<circle cx="308.32" cy="321.69" r="1.22" fill="#6a2a0c"/>
<circle cx="307.57" cy="321.20" r="1.22" fill="#6a2a0c"/>
<circle cx="311.44" cy="319.66" r="1.22" fill="#6a2a0c"/>
<circle cx="307.97" cy="319.87" r="1.22" fill="#6a2a0c"/>
<path d="M309.45 315.95L310.97 318.70L307.92 318.70z" fill="#eaa23a"/>
<circle cx="310.74" cy="316.66" r="1.22" fill="#eaa23a"/>
<path d="M310.87 317.74L312.39 320.49L309.34 320.49z" fill="#eaa23a"/>
<circle cx="307.84" cy="315.86" r="1.22" fill="#eaa23a"/>
<path d="M306.84 317.64L308.37 320.38L305.32 320.38z" fill="#eaa23a"/>
<line x1="319.60" y1="347.9" x2="319.60" y2="349.5" stroke="#222" stroke-width="0.5"/>
<text transform="translate(321.30,351.70) rotate(-90)" font-size="4.5" text-anchor="end" fill="#000" stroke="#000" stroke-width="0.08">H2-M2</text>
<circle cx="317.58" cy="301.90" r="1.22" fill="#86b4ea"/>
<circle cx="317.82" cy="305.03" r="1.22" fill="#86b4ea"/>
<circle cx="318.45" cy="300.61" r="1.22" fill="#86b4ea"/>
<circle cx="319.28" cy="304.74" r="1.22" fill="#86b4ea"/>
<circle cx="321.78" cy="306.75" r="1.22" fill="#86b4ea"/>
<path d="M317.83 304.89L319.35 307.63L316.30 307.63z" fill="#2a55c8"/>
<path d="M318.78 311.91L320.30 314.65L317.25 314.65z" fill="#2a55c8"/>
<path d="M316.71 308.50L318.24 311.24L315.19 311.24z" fill="#2a55c8"/>
<circle cx="322.14" cy="306.34" r="1.22" fill="#2a55c8"/>
<path d="M318.21 310.06L319.74 312.80L316.69 312.80z" fill="#2a55c8"/>
<circle cx="318.76" cy="318.11" r="1.22" fill="#6a2a0c"/>
<circle cx="321.19" cy="318.84" r="1.22" fill="#6a2a0c"/>
<circle cx="316.72" cy="316.04" r="1.22" fill="#6a2a0c"/>
<circle cx="318.53" cy="313.86" r="1.22" fill="#6a2a0c"/>
<circle cx="321.89" cy="316.10" r="1.22" fill="#6a2a0c"/>
<circle cx="318.55" cy="315.60" r="1.22" fill="#eaa23a"/>
<path d="M318.96 313.33L320.49 316.07L317.44 316.07z" fill="#eaa23a"/>
<path d="M316.84 313.69L318.37 316.43L315.32 316.43z" fill="#eaa23a"/>
<path d="M318.47 313.48L320.00 316.22L316.95 316.22z" fill="#eaa23a"/>
<path d="M319.86 313.56L321.39 316.31L318.34 316.31z" fill="#eaa23a"/>
<line x1="330.65" y1="347.9" x2="330.65" y2="349.5" stroke="#222" stroke-width="0.5"/>
<text transform="translate(332.35,351.70) rotate(-90)" font-size="4.5" text-anchor="end" fill="#000" stroke="#000" stroke-width="0.08">Apbb2</text>
<circle cx="332.00" cy="303.87" r="1.22" fill="#86b4ea"/>
<circle cx="331.65" cy="302.82" r="1.22" fill="#86b4ea"/>
<circle cx="329.33" cy="305.08" r="1.22" fill="#86b4ea"/>
<circle cx="331.93" cy="305.34" r="1.22" fill="#86b4ea"/>
<circle cx="332.85" cy="302.68" r="1.22" fill="#86b4ea"/>
<path d="M329.01 306.14L330.53 308.89L327.48 308.89z" fill="#2a55c8"/>
<path d="M327.89 304.53L329.42 307.27L326.37 307.27z" fill="#2a55c8"/>
<circle cx="331.43" cy="307.71" r="1.22" fill="#2a55c8"/>
<circle cx="329.44" cy="308.40" r="1.22" fill="#2a55c8"/>
<path d="M333.16 300.85L334.69 303.60L331.64 303.60z" fill="#2a55c8"/>
<circle cx="333.38" cy="315.81" r="1.22" fill="#6a2a0c"/>
<circle cx="332.86" cy="314.80" r="1.22" fill="#6a2a0c"/>
<circle cx="328.19" cy="316.65" r="1.22" fill="#6a2a0c"/>
<circle cx="330.22" cy="318.20" r="1.22" fill="#6a2a0c"/>
<circle cx="329.95" cy="316.14" r="1.22" fill="#6a2a0c"/>
<path d="M329.62 313.27L331.14 316.02L328.09 316.02z" fill="#eaa23a"/>
<path d="M330.06 312.87L331.59 315.61L328.54 315.61z" fill="#eaa23a"/>
<circle cx="328.65" cy="315.23" r="1.22" fill="#eaa23a"/>
<path d="M329.70 313.04L331.23 315.78L328.18 315.78z" fill="#eaa23a"/>
<circle cx="328.55" cy="315.07" r="1.22" fill="#eaa23a"/>
<line x1="341.70" y1="347.9" x2="341.70" y2="349.5" stroke="#222" stroke-width="0.5"/>
<text transform="translate(343.40,351.70) rotate(-90)" font-size="4.5" text-anchor="end" fill="#000" stroke="#000" stroke-width="0.08">Slamf7</text>
<circle cx="342.90" cy="306.82" r="1.22" fill="#86b4ea"/>
<circle cx="338.84" cy="304.40" r="1.22" fill="#86b4ea"/>
<circle cx="339.08" cy="305.78" r="1.22" fill="#86b4ea"/>
<circle cx="341.13" cy="309.70" r="1.22" fill="#86b4ea"/>
<circle cx="342.22" cy="311.17" r="1.22" fill="#86b4ea"/>
<path d="M341.51 311.23L343.04 313.97L339.99 313.97z" fill="#2a55c8"/>
<circle cx="340.78" cy="311.59" r="1.22" fill="#2a55c8"/>
<path d="M342.09 310.71L343.62 313.46L340.57 313.46z" fill="#2a55c8"/>
<circle cx="341.52" cy="310.68" r="1.22" fill="#2a55c8"/>
<path d="M344.43 308.44L345.95 311.19L342.90 311.19z" fill="#2a55c8"/>
<circle cx="343.33" cy="319.99" r="1.22" fill="#6a2a0c"/>
<circle cx="342.46" cy="321.24" r="1.22" fill="#6a2a0c"/>
<circle cx="341.19" cy="321.67" r="1.22" fill="#6a2a0c"/>
<circle cx="340.36" cy="321.72" r="1.22" fill="#6a2a0c"/>
<circle cx="340.99" cy="323.78" r="1.22" fill="#6a2a0c"/>
<path d="M344.16 316.41L345.68 319.16L342.63 319.16z" fill="#eaa23a"/>
<path d="M340.55 319.57L342.08 322.31L339.03 322.31z" fill="#eaa23a"/>
<path d="M344.56 319.71L346.09 322.45L343.04 322.45z" fill="#eaa23a"/>
<path d="M342.78 318.93L344.31 321.67L341.26 321.67z" fill="#eaa23a"/>
<circle cx="338.71" cy="320.96" r="1.22" fill="#eaa23a"/>
<line x1="352.75" y1="347.9" x2="352.75" y2="349.5" stroke="#222" stroke-width="0.5"/>
<text transform="translate(354.45,351.70) rotate(-90)" font-size="4.5" text-anchor="end" fill="#000" stroke="#000" stroke-width="0.08">A530099J19Rik</text>
<circle cx="352.71" cy="311.69" r="1.22" fill="#86b4ea"/>
<circle cx="353.65" cy="313.71" r="1.22" fill="#86b4ea"/>
<circle cx="353.11" cy="310.21" r="1.22" fill="#86b4ea"/>
<circle cx="354.74" cy="312.01" r="1.22" fill="#86b4ea"/>
<circle cx="351.83" cy="314.54" r="1.22" fill="#86b4ea"/>
<path d="M355.07 313.44L356.59 316.18L353.54 316.18z" fill="#2a55c8"/>
<circle cx="353.87" cy="314.70" r="1.22" fill="#2a55c8"/>
<path d="M354.70 311.16L356.22 313.91L353.17 313.91z" fill="#2a55c8"/>
<path d="M353.13 312.30L354.66 315.05L351.61 315.05z" fill="#2a55c8"/>
<circle cx="351.46" cy="313.89" r="1.22" fill="#2a55c8"/>
<circle cx="351.25" cy="325.36" r="1.22" fill="#6a2a0c"/>
<circle cx="351.70" cy="326.05" r="1.22" fill="#6a2a0c"/>
<circle cx="350.51" cy="326.88" r="1.22" fill="#6a2a0c"/>
<circle cx="350.13" cy="327.56" r="1.22" fill="#6a2a0c"/>
<circle cx="353.98" cy="326.75" r="1.22" fill="#6a2a0c"/>
<path d="M350.43 323.24L351.95 325.99L348.90 325.99z" fill="#eaa23a"/>
<circle cx="350.73" cy="324.73" r="1.22" fill="#eaa23a"/>
<path d="M354.97 321.62L356.49 324.37L353.44 324.37z" fill="#eaa23a"/>
<path d="M354.53 322.97L356.05 325.72L353.00 325.72z" fill="#eaa23a"/>
<path d="M354.05 324.46L355.57 327.20L352.52 327.20z" fill="#eaa23a"/>
<line x1="363.80" y1="347.9" x2="363.80" y2="349.5" stroke="#222" stroke-width="0.5"/>
<text transform="translate(365.50,351.70) rotate(-90)" font-size="4.5" text-anchor="end" fill="#000" stroke="#000" stroke-width="0.08">Mef2c</text>
<circle cx="362.80" cy="313.18" r="1.22" fill="#86b4ea"/>
<circle cx="365.36" cy="311.86" r="1.22" fill="#86b4ea"/>
<circle cx="364.20" cy="315.57" r="1.22" fill="#86b4ea"/>
<circle cx="363.32" cy="310.49" r="1.22" fill="#86b4ea"/>
<circle cx="365.79" cy="312.82" r="1.22" fill="#86b4ea"/>
<path d="M365.61 311.44L367.13 314.18L364.08 314.18z" fill="#2a55c8"/>
<path d="M362.19 311.92L363.71 314.66L360.66 314.66z" fill="#2a55c8"/>
<circle cx="360.88" cy="317.03" r="1.22" fill="#2a55c8"/>
<circle cx="361.60" cy="319.48" r="1.22" fill="#2a55c8"/>
<circle cx="363.32" cy="313.62" r="1.22" fill="#2a55c8"/>
<circle cx="366.73" cy="321.54" r="1.22" fill="#6a2a0c"/>
<circle cx="361.09" cy="325.52" r="1.22" fill="#6a2a0c"/>
<circle cx="361.05" cy="323.66" r="1.22" fill="#6a2a0c"/>
<circle cx="362.52" cy="323.20" r="1.22" fill="#6a2a0c"/>
<circle cx="361.52" cy="323.34" r="1.22" fill="#6a2a0c"/>
<path d="M362.78 315.98L364.31 318.73L361.26 318.73z" fill="#eaa23a"/>
<path d="M363.04 318.48L364.57 321.23L361.52 321.23z" fill="#eaa23a"/>
<circle cx="365.60" cy="320.99" r="1.22" fill="#eaa23a"/>
<circle cx="364.51" cy="321.10" r="1.22" fill="#eaa23a"/>
<path d="M366.69 321.02L368.21 323.77L365.16 323.77z" fill="#eaa23a"/>
<line x1="374.85" y1="347.9" x2="374.85" y2="349.5" stroke="#222" stroke-width="0.5"/>
<text transform="translate(376.55,351.70) rotate(-90)" font-size="4.5" text-anchor="end" fill="#000" stroke="#000" stroke-width="0.08">Il205</text>
<circle cx="376.65" cy="311.76" r="1.22" fill="#86b4ea"/>
<circle cx="372.73" cy="309.94" r="1.22" fill="#86b4ea"/>
<circle cx="377.45" cy="313.35" r="1.22" fill="#86b4ea"/>
<circle cx="373.36" cy="313.86" r="1.22" fill="#86b4ea"/>
<circle cx="373.79" cy="311.59" r="1.22" fill="#86b4ea"/>
<circle cx="371.97" cy="316.57" r="1.22" fill="#2a55c8"/>
<path d="M373.49 317.07L375.02 319.82L371.97 319.82z" fill="#2a55c8"/>
<path d="M374.74 317.64L376.27 320.38L373.22 320.38z" fill="#2a55c8"/>
<circle cx="372.24" cy="316.43" r="1.22" fill="#2a55c8"/>
<path d="M373.71 315.74L375.23 318.49L372.18 318.49z" fill="#2a55c8"/>
<circle cx="377.83" cy="329.26" r="1.22" fill="#6a2a0c"/>
<circle cx="373.06" cy="329.96" r="1.22" fill="#6a2a0c"/>
<circle cx="374.34" cy="329.62" r="1.22" fill="#6a2a0c"/>
<circle cx="376.69" cy="327.64" r="1.22" fill="#6a2a0c"/>
<circle cx="375.15" cy="328.35" r="1.22" fill="#6a2a0c"/>
<circle cx="375.79" cy="322.84" r="1.22" fill="#eaa23a"/>
<circle cx="377.04" cy="322.09" r="1.22" fill="#eaa23a"/>
<circle cx="374.51" cy="325.42" r="1.22" fill="#eaa23a"/>
<path d="M372.01 320.94L373.54 323.68L370.49 323.68z" fill="#eaa23a"/>
<path d="M372.56 320.31L374.09 323.05L371.04 323.05z" fill="#eaa23a"/>
<line x1="385.90" y1="347.9" x2="385.90" y2="349.5" stroke="#222" stroke-width="0.5"/>
<text transform="translate(387.60,351.70) rotate(-90)" font-size="4.5" text-anchor="end" fill="#000" stroke="#000" stroke-width="0.08">Ak5</text>
<circle cx="384.76" cy="312.68" r="1.22" fill="#86b4ea"/>
<circle cx="385.99" cy="318.42" r="1.22" fill="#86b4ea"/>
<circle cx="388.66" cy="316.93" r="1.22" fill="#86b4ea"/>
<circle cx="382.97" cy="315.37" r="1.22" fill="#86b4ea"/>
<circle cx="387.65" cy="310.88" r="1.22" fill="#86b4ea"/>
<path d="M387.31 317.86L388.84 320.60L385.79 320.60z" fill="#2a55c8"/>
<circle cx="387.51" cy="321.64" r="1.22" fill="#2a55c8"/>
<circle cx="383.51" cy="315.82" r="1.22" fill="#2a55c8"/>
<circle cx="384.40" cy="317.02" r="1.22" fill="#2a55c8"/>
<circle cx="383.04" cy="322.34" r="1.22" fill="#2a55c8"/>
<circle cx="385.12" cy="327.63" r="1.22" fill="#6a2a0c"/>
<circle cx="386.84" cy="328.66" r="1.22" fill="#6a2a0c"/>
<circle cx="386.73" cy="327.89" r="1.22" fill="#6a2a0c"/>
<circle cx="385.02" cy="326.38" r="1.22" fill="#6a2a0c"/>
<circle cx="384.83" cy="326.98" r="1.22" fill="#6a2a0c"/>
<path d="M383.46 327.32L384.99 330.06L381.94 330.06z" fill="#eaa23a"/>
<circle cx="387.36" cy="326.20" r="1.22" fill="#eaa23a"/>
<path d="M386.98 323.88L388.51 326.62L385.46 326.62z" fill="#eaa23a"/>
<path d="M385.00 325.25L386.53 327.99L383.48 327.99z" fill="#eaa23a"/>
<circle cx="382.96" cy="326.66" r="1.22" fill="#eaa23a"/>
<line x1="396.95" y1="347.9" x2="396.95" y2="349.5" stroke="#222" stroke-width="0.5"/>
<text transform="translate(398.65,351.70) rotate(-90)" font-size="4.5" text-anchor="end" fill="#000" stroke="#000" stroke-width="0.08">Pyhin1</text>
<circle cx="397.17" cy="319.95" r="1.22" fill="#86b4ea"/>
<circle cx="399.66" cy="322.34" r="1.22" fill="#86b4ea"/>
<circle cx="395.88" cy="322.49" r="1.22" fill="#86b4ea"/>
<circle cx="398.47" cy="325.22" r="1.22" fill="#86b4ea"/>
<circle cx="396.53" cy="325.85" r="1.22" fill="#86b4ea"/>
<path d="M399.73 326.68L401.25 329.42L398.20 329.42z" fill="#2a55c8"/>
<path d="M395.02 321.25L396.54 324.00L393.49 324.00z" fill="#2a55c8"/>
<circle cx="398.01" cy="326.48" r="1.22" fill="#2a55c8"/>
<circle cx="396.09" cy="324.54" r="1.22" fill="#2a55c8"/>
<circle cx="394.84" cy="326.00" r="1.22" fill="#2a55c8"/>
<circle cx="395.22" cy="329.86" r="1.22" fill="#6a2a0c"/>
<circle cx="397.65" cy="332.34" r="1.22" fill="#6a2a0c"/>
<circle cx="397.72" cy="332.95" r="1.22" fill="#6a2a0c"/>
<circle cx="396.98" cy="329.56" r="1.22" fill="#6a2a0c"/>
<circle cx="398.97" cy="330.57" r="1.22" fill="#6a2a0c"/>
<path d="M398.09 328.13L399.61 330.87L396.56 330.87z" fill="#eaa23a"/>
<path d="M396.26 327.73L397.78 330.48L394.73 330.48z" fill="#eaa23a"/>
<circle cx="397.55" cy="328.80" r="1.22" fill="#eaa23a"/>
<path d="M397.71 328.06L399.24 330.81L396.19 330.81z" fill="#eaa23a"/>
<circle cx="397.51" cy="329.87" r="1.22" fill="#eaa23a"/>
<line x1="408.00" y1="347.9" x2="408.00" y2="349.5" stroke="#222" stroke-width="0.5"/>
<text transform="translate(409.70,351.70) rotate(-90)" font-size="4.5" text-anchor="end" fill="#000" stroke="#000" stroke-width="0.08">Retnla</text>
<circle cx="407.81" cy="328.48" r="1.22" fill="#86b4ea"/>
<circle cx="410.96" cy="326.99" r="1.22" fill="#86b4ea"/>
<circle cx="409.42" cy="327.33" r="1.22" fill="#86b4ea"/>
<circle cx="410.94" cy="325.77" r="1.22" fill="#86b4ea"/>
<circle cx="405.76" cy="324.25" r="1.22" fill="#86b4ea"/>
<path d="M410.94 330.36L412.47 333.10L409.42 333.10z" fill="#2a55c8"/>
<circle cx="408.90" cy="330.23" r="1.22" fill="#2a55c8"/>
<circle cx="409.98" cy="333.15" r="1.22" fill="#2a55c8"/>
<circle cx="405.39" cy="324.48" r="1.22" fill="#2a55c8"/>
<path d="M409.27 327.98L410.79 330.72L407.74 330.72z" fill="#2a55c8"/>
<circle cx="408.22" cy="336.47" r="1.22" fill="#6a2a0c"/>
<circle cx="410.19" cy="334.74" r="1.22" fill="#6a2a0c"/>
<circle cx="408.86" cy="336.33" r="1.22" fill="#6a2a0c"/>
<circle cx="405.44" cy="336.93" r="1.22" fill="#6a2a0c"/>
<circle cx="407.94" cy="333.98" r="1.22" fill="#6a2a0c"/>
<circle cx="406.45" cy="334.05" r="1.22" fill="#eaa23a"/>
<circle cx="408.30" cy="336.06" r="1.22" fill="#eaa23a"/>
<path d="M409.78 331.60L411.31 334.35L408.26 334.35z" fill="#eaa23a"/>
<path d="M405.22 332.88L406.75 335.63L403.70 335.63z" fill="#eaa23a"/>
<circle cx="410.19" cy="335.20" r="1.22" fill="#eaa23a"/>
<text transform="translate(273.30,311.50) rotate(-90)" font-size="4.45" text-anchor="middle" fill="#000" stroke="#000" stroke-width="0.08">Relative mRNA Expression</text>
<text transform="translate(277.80,311.50) rotate(-90)" font-size="4.3165000000000004" text-anchor="middle" fill="#000" stroke="#000" stroke-width="0.08">Donor &gt; Host-derived Alv Macs</text>
<line x1="444.4" y1="275.8" x2="444.4" y2="348.8" stroke="#222" stroke-width="0.7"/>
<line x1="444.4" y1="348.8" x2="506.8" y2="348.8" stroke="#222" stroke-width="0.7"/>
<line x1="490.6" y1="348.8" x2="490.6" y2="350.40000000000003" stroke="#222" stroke-width="0.5"/>
<line x1="443.2" y1="290.20" x2="444.4" y2="290.20" stroke="#222" stroke-width="0.5"/>
<text x="442.90" y="291.50" font-size="3.7" text-anchor="end" fill="#000" stroke="#000" stroke-width="0.08">1000</text>
<line x1="443.2" y1="309.80" x2="444.4" y2="309.80" stroke="#222" stroke-width="0.5"/>
<text x="442.90" y="311.10" font-size="3.7" text-anchor="end" fill="#000" stroke="#000" stroke-width="0.08">100</text>
<line x1="443.2" y1="329.40" x2="444.4" y2="329.40" stroke="#222" stroke-width="0.5"/>
<text x="442.90" y="330.70" font-size="3.7" text-anchor="end" fill="#000" stroke="#000" stroke-width="0.08">10</text>
<line x1="443.2" y1="349.00" x2="444.4" y2="349.00" stroke="#222" stroke-width="0.5"/>
<text x="442.90" y="350.30" font-size="3.7" text-anchor="end" fill="#000" stroke="#000" stroke-width="0.08">1</text>
<line x1="450.50" y1="348.8" x2="450.50" y2="350.40000000000003" stroke="#222" stroke-width="0.5"/>
<text transform="translate(452.10,351.60) rotate(-90)" font-size="4.5" text-anchor="end" fill="#000" stroke="#000" stroke-width="0.08">Npl</text>
<line x1="460.90" y1="348.8" x2="460.90" y2="350.40000000000003" stroke="#222" stroke-width="0.5"/>
<text transform="translate(462.50,351.60) rotate(-90)" font-size="4.5" text-anchor="end" fill="#000" stroke="#000" stroke-width="0.08">Erdr1</text>
<line x1="470.80" y1="348.8" x2="470.80" y2="350.40000000000003" stroke="#222" stroke-width="0.5"/>
<text transform="translate(472.40,351.60) rotate(-90)" font-size="4.5" text-anchor="end" fill="#000" stroke="#000" stroke-width="0.08">Olse</text>
<line x1="480.60" y1="348.8" x2="480.60" y2="350.40000000000003" stroke="#222" stroke-width="0.5"/>
<text transform="translate(482.20,351.60) rotate(-90)" font-size="4.5" text-anchor="end" fill="#000" stroke="#000" stroke-width="0.08">Glul</text>
<line x1="500.40" y1="348.8" x2="500.40" y2="350.40000000000003" stroke="#222" stroke-width="0.5"/>
<text transform="translate(502.00,351.60) rotate(-90)" font-size="4.5" text-anchor="end" fill="#000" stroke="#000" stroke-width="0.08">Shcbp1l</text>
<circle cx="451.09" cy="292.46" r="1.22" fill="#2a55c8"/>
<circle cx="451.65" cy="290.77" r="1.22" fill="#2a55c8"/>
<circle cx="448.24" cy="290.21" r="1.22" fill="#2a55c8"/>
<path d="M452.42 291.54L453.95 294.29L450.90 294.29z" fill="#2a55c8"/>
<circle cx="450.35" cy="292.58" r="1.22" fill="#2a55c8"/>
<circle cx="448.16" cy="313.99" r="1.22" fill="#86b4ea"/>
<circle cx="449.14" cy="312.33" r="1.22" fill="#86b4ea"/>
<circle cx="451.78" cy="314.93" r="1.22" fill="#86b4ea"/>
<circle cx="448.87" cy="311.92" r="1.22" fill="#2a55c8"/>
<path d="M448.71 309.71L450.23 312.46L447.18 312.46z" fill="#2a55c8"/>
<circle cx="452.28" cy="311.94" r="1.22" fill="#2a55c8"/>
<circle cx="452.29" cy="315.37" r="1.22" fill="#6a2a0c"/>
<circle cx="449.49" cy="315.91" r="1.22" fill="#6a2a0c"/>
<circle cx="451.35" cy="314.40" r="1.22" fill="#6a2a0c"/>
<circle cx="449.08" cy="315.15" r="1.22" fill="#eaa23a"/>
<path d="M452.39 311.64L453.91 314.38L450.86 314.38z" fill="#eaa23a"/>
<path d="M460.23 288.96L461.76 291.70L458.71 291.70z" fill="#2a55c8"/>
<circle cx="459.95" cy="290.68" r="1.22" fill="#2a55c8"/>
<path d="M458.52 288.28L460.04 291.02L456.99 291.02z" fill="#2a55c8"/>
<path d="M462.43 287.86L463.95 290.60L460.90 290.60z" fill="#2a55c8"/>
<path d="M460.02 288.10L461.54 290.85L458.49 290.85z" fill="#eaa23a"/>
<path d="M463.18 289.84L464.71 292.58L461.66 292.58z" fill="#eaa23a"/>
<circle cx="462.10" cy="291.29" r="1.22" fill="#eaa23a"/>
<circle cx="460.26" cy="291.02" r="1.22" fill="#eaa23a"/>
<circle cx="458.54" cy="306.48" r="1.22" fill="#86b4ea"/>
<circle cx="463.08" cy="306.06" r="1.22" fill="#86b4ea"/>
<circle cx="459.44" cy="305.96" r="1.22" fill="#86b4ea"/>
<path d="M463.02 303.03L464.55 305.78L461.50 305.78z" fill="#2a55c8"/>
<path d="M460.20 303.63L461.73 306.37L458.68 306.37z" fill="#2a55c8"/>
<circle cx="462.09" cy="306.59" r="1.22" fill="#2a55c8"/>
<path d="M462.63 306.71L464.15 309.45L461.10 309.45z" fill="#eaa23a"/>
<circle cx="470.04" cy="312.31" r="1.22" fill="#2a55c8"/>
<circle cx="472.81" cy="310.54" r="1.22" fill="#2a55c8"/>
<path d="M469.90 312.15L471.42 314.90L468.37 314.90z" fill="#2a55c8"/>
<circle cx="469.25" cy="311.28" r="1.22" fill="#86b4ea"/>
<circle cx="471.71" cy="311.05" r="1.22" fill="#86b4ea"/>
<circle cx="473.18" cy="315.85" r="1.22" fill="#eaa23a"/>
<path d="M470.96 314.42L472.49 317.17L469.44 317.17z" fill="#eaa23a"/>
<path d="M469.54 312.60L471.06 315.35L468.01 315.35z" fill="#eaa23a"/>
<path d="M470.42 313.11L471.95 315.86L468.90 315.86z" fill="#eaa23a"/>
<circle cx="472.80" cy="330.54" r="1.22" fill="#6a2a0c"/>
<circle cx="472.42" cy="329.64" r="1.22" fill="#6a2a0c"/>
<circle cx="469.03" cy="329.12" r="1.22" fill="#6a2a0c"/>
<circle cx="471.43" cy="325.01" r="1.22" fill="#86b4ea"/>
<circle cx="472.18" cy="328.28" r="1.22" fill="#86b4ea"/>
<circle cx="469.12" cy="328.10" r="1.22" fill="#86b4ea"/>
<circle cx="472.45" cy="328.11" r="1.22" fill="#2a55c8"/>
<circle cx="472.49" cy="329.48" r="1.22" fill="#2a55c8"/>
<path d="M480.38 286.08L481.90 288.83L478.85 288.83z" fill="#eaa23a"/>
<path d="M479.60 287.82L481.12 290.56L478.07 290.56z" fill="#eaa23a"/>
<circle cx="478.90" cy="287.08" r="1.22" fill="#eaa23a"/>
<path d="M481.21 289.78L482.73 292.52L479.68 292.52z" fill="#eaa23a"/>
<circle cx="479.82" cy="291.86" r="1.22" fill="#2a55c8"/>
<path d="M482.36 290.08L483.89 292.82L480.84 292.82z" fill="#2a55c8"/>
<circle cx="481.97" cy="291.42" r="1.22" fill="#2a55c8"/>
<path d="M481.85 288.13L483.37 290.88L480.32 290.88z" fill="#2a55c8"/>
<circle cx="481.58" cy="289.98" r="1.22" fill="#86b4ea"/>
<circle cx="481.89" cy="291.33" r="1.22" fill="#86b4ea"/>
<circle cx="501.32" cy="326.78" r="1.22" fill="#86b4ea"/>
<circle cx="501.12" cy="329.76" r="1.22" fill="#86b4ea"/>
<circle cx="500.79" cy="328.70" r="1.22" fill="#86b4ea"/>
<circle cx="499.20" cy="331.45" r="1.22" fill="#2a55c8"/>
<circle cx="500.22" cy="331.95" r="1.22" fill="#2a55c8"/>
<circle cx="499.67" cy="330.04" r="1.22" fill="#2a55c8"/>
<circle cx="501.54" cy="331.80" r="1.22" fill="#2a55c8"/>
<circle cx="502.18" cy="330.54" r="1.22" fill="#2a55c8"/>
<circle cx="502.69" cy="330.56" r="1.22" fill="#eaa23a"/>
<circle cx="498.80" cy="328.09" r="1.22" fill="#6a2a0c"/>
<text transform="translate(426.40,310.00) rotate(-90)" font-size="4.75" text-anchor="middle" fill="#000" stroke="#000" stroke-width="0.08">Relative mRNA Expression</text>
<text transform="translate(431.90,307.00) rotate(-90)" font-size="4.35" text-anchor="middle" fill="#000" stroke="#000" stroke-width="0.08">CD45.1 &gt; CD45.2 and CD45.2 &gt; CD45.1</text>
<text x="426.00" y="137.00" font-size="4.7" text-anchor="middle" fill="#000" stroke="#000" stroke-width="0.08">Donor</text>
<text x="426.00" y="142.80" font-size="4.7" text-anchor="middle" fill="#000" stroke="#000" stroke-width="0.08">derived</text>
<text x="426.00" y="149.20" font-size="4.7" text-anchor="middle" fill="#000" stroke="#000" stroke-width="0.08">Host</text>
<text x="426.00" y="154.80" font-size="4.7" text-anchor="middle" fill="#000" stroke="#000" stroke-width="0.08">derived</text>
<circle cx="440.4" cy="135.40" r="1.15" fill="#86b4ea"/>
<text x="446.20" y="137.20" font-size="5.3" text-anchor="start" fill="#000" stroke="#000" stroke-width="0.08">CD45.2 d</text>
<circle cx="440.4" cy="141.50" r="1.15" fill="#2a55c8"/>
<text x="446.20" y="143.30" font-size="5.3" text-anchor="start" fill="#000" stroke="#000" stroke-width="0.08">CD45.1 d</text>
<circle cx="440.4" cy="147.60" r="1.15" fill="#6a2a0c"/>
<text x="446.20" y="149.40" font-size="5.3" text-anchor="start" fill="#000" stroke="#000" stroke-width="0.08">CD45.2 h</text>
<circle cx="440.4" cy="153.40" r="1.15" fill="#eaa23a"/>
<text x="446.20" y="155.20" font-size="5.3" text-anchor="start" fill="#000" stroke="#000" stroke-width="0.08">CD45.1 h</text>
</svg>
</body></html>
